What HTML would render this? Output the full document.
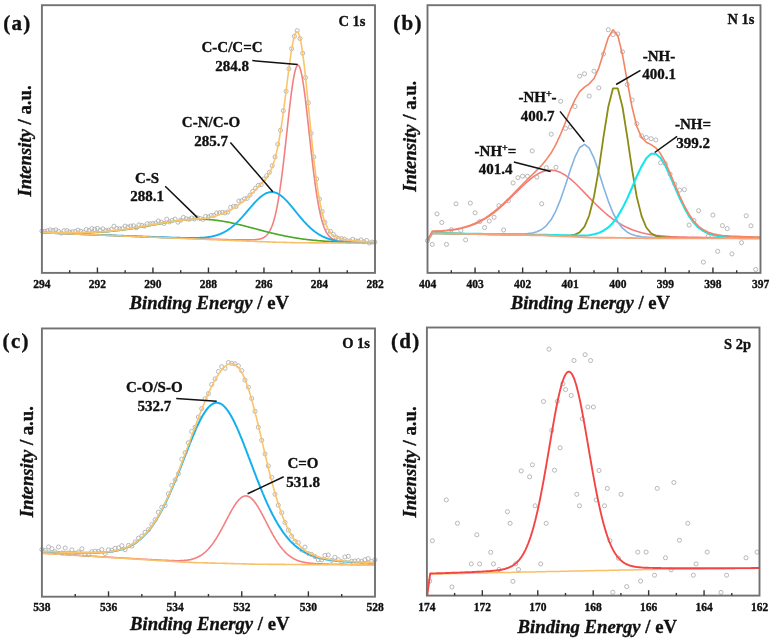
<!DOCTYPE html>
<html><head><meta charset="utf-8"><style>
html,body{margin:0;padding:0;background:#fff;}
svg{display:block;filter:blur(0.3px);}
text{font-family:"Liberation Serif", serif;fill:#111;stroke:#111;stroke-width:0.35px;}
</style></head><body>
<svg width="773" height="642" viewBox="0 0 773 642">
<rect width="773" height="642" fill="#fff"/>
<polyline points="41.9,232.8 42.4,232.8 42.9,232.8 43.4,232.8 43.9,232.8 44.4,232.8 44.9,232.8 45.4,232.8 45.9,232.9 46.4,232.9 46.9,232.9 47.4,232.9 47.9,232.9 48.4,232.9 48.9,232.9 49.4,233.0 49.9,233.0 50.4,233.0 50.9,233.0 51.4,233.0 51.9,233.1 52.4,233.1 52.9,233.1 53.4,233.1 53.9,233.1 54.4,233.2 54.9,233.2 55.4,233.2 55.9,233.2 56.4,233.2 56.9,233.3 57.4,233.3 57.9,233.3 58.4,233.3 58.9,233.3 59.4,233.4 59.9,233.4 60.4,233.4 60.9,233.4 61.4,233.4 61.9,233.5 62.4,233.5 62.9,233.5 63.4,233.5 63.9,233.5 64.4,233.6 64.9,233.6 65.4,233.6 65.9,233.6 66.4,233.6 66.9,233.7 67.4,233.7 67.9,233.7 68.4,233.7 68.9,233.7 69.4,233.8 69.9,233.8 70.4,233.8 70.9,233.8 71.4,233.8 71.9,233.9 72.4,233.9 72.9,233.9 73.4,233.9 73.9,233.9 74.4,234.0 74.9,234.0 75.4,234.0 75.9,234.0 76.4,234.0 76.9,234.1 77.4,234.1 77.9,234.1 78.4,234.1 78.9,234.1 79.4,234.2 79.9,234.2 80.4,234.2 80.9,234.2 81.4,234.2 81.9,234.3 82.4,234.3 82.9,234.3 83.4,234.3 83.9,234.3 84.4,234.4 84.9,234.4 85.4,234.4 85.9,234.4 86.4,234.4 86.9,234.5 87.4,234.5 87.9,234.5 88.4,234.5 88.9,234.5 89.4,234.6 89.9,234.6 90.4,234.6 90.9,234.6 91.4,234.6 91.9,234.7 92.4,234.7 92.9,234.7 93.4,234.7 93.9,234.7 94.4,234.8 94.9,234.8 95.4,234.8 95.9,234.8 96.4,234.8 96.9,234.9 97.4,234.9 97.9,234.9 98.4,234.9 98.9,234.9 99.4,235.0 99.9,235.0 100.4,235.0 100.9,235.0 101.4,235.0 101.9,235.1 102.4,235.1 102.9,235.1 103.4,235.1 103.9,235.1 104.4,235.2 104.9,235.2 105.4,235.2 105.9,235.2 106.4,235.2 106.9,235.3 107.4,235.3 107.9,235.3 108.4,235.3 108.9,235.3 109.4,235.4 109.9,235.4 110.4,235.4 110.9,235.4 111.4,235.4 111.9,235.5 112.4,235.5 112.9,235.5 113.4,235.5 113.9,235.5 114.4,235.6 114.9,235.6 115.4,235.6 115.9,235.6 116.4,235.6 116.9,235.7 117.4,235.7 117.9,235.7 118.4,235.7 118.9,235.7 119.4,235.7 119.9,235.8 120.4,235.8 120.9,235.8 121.4,235.8 121.9,235.8 122.4,235.9 122.9,235.9 123.4,235.9 123.9,235.9 124.4,235.9 124.9,236.0 125.4,236.0 125.9,236.0 126.4,236.0 126.9,236.0 127.4,236.1 127.9,236.1 128.4,236.1 128.9,236.1 129.4,236.1 129.9,236.2 130.4,236.2 130.9,236.2 131.4,236.2 131.9,236.2 132.4,236.3 132.9,236.3 133.4,236.3 133.9,236.3 134.4,236.3 134.9,236.4 135.4,236.4 135.9,236.4 136.4,236.4 136.9,236.4 137.4,236.5 137.9,236.5 138.4,236.5 138.9,236.5 139.4,236.5 139.9,236.6 140.4,236.6 140.9,236.6 141.4,236.6 141.9,236.6 142.4,236.7 142.9,236.7 143.4,236.7 143.9,236.7 144.4,236.7 144.9,236.7 145.4,236.8 145.9,236.8 146.4,236.8 146.9,236.8 147.4,236.8 147.9,236.9 148.4,236.9 148.9,236.9 149.4,236.9 149.9,236.9 150.4,237.0 150.9,237.0 151.4,237.0 151.9,237.0 152.4,237.0 152.9,237.1 153.4,237.1 153.9,237.1 154.4,237.1 154.9,237.1 155.4,237.2 155.9,237.2 156.4,237.2 156.9,237.2 157.4,237.2 157.9,237.3 158.4,237.3 158.9,237.3 159.4,237.3 159.9,237.3 160.4,237.3 160.9,237.4 161.4,237.4 161.9,237.4 162.4,237.4 162.9,237.4 163.4,237.5 163.9,237.5 164.4,237.5 164.9,237.5 165.4,237.5 165.9,237.6 166.4,237.6 166.9,237.6 167.4,237.6 167.9,237.6 168.4,237.7 168.9,237.7 169.4,237.7 169.9,237.7 170.4,237.7 170.9,237.7 171.4,237.8 171.9,237.8 172.4,237.8 172.9,237.8 173.4,237.8 173.9,237.9 174.4,237.9 174.9,237.9 175.4,237.9 175.9,237.9 176.4,238.0 176.9,238.0 177.4,238.0 177.9,238.0 178.4,238.0 178.9,238.0 179.4,238.1 179.9,238.1 180.4,238.1 180.9,238.1 181.4,238.1 181.9,238.2 182.4,238.2 182.9,238.2 183.4,238.2 183.9,238.2 184.4,238.3 184.9,238.3 185.4,238.3 185.9,238.3 186.4,238.3 186.9,238.3 187.4,238.4 187.9,238.4 188.4,238.4 188.9,238.4 189.4,238.4 189.9,238.5 190.4,238.5 190.9,238.5 191.4,238.5 191.9,238.5 192.4,238.5 192.9,238.6 193.4,238.6 193.9,238.6 194.4,238.6 194.9,238.6 195.4,238.6 195.9,238.7 196.4,238.7 196.9,238.7 197.4,238.7 197.9,238.7 198.4,238.8 198.9,238.8 199.4,238.8 199.9,238.8 200.4,238.8 200.9,238.8 201.4,238.9 201.9,238.9 202.4,238.9 202.9,238.9 203.4,238.9 203.9,238.9 204.4,239.0 204.9,239.0 205.4,239.0 205.9,239.0 206.4,239.0 206.9,239.0 207.4,239.1 207.9,239.1 208.4,239.1 208.9,239.1 209.4,239.1 209.9,239.1 210.4,239.2 210.9,239.2 211.4,239.2 211.9,239.2 212.4,239.2 212.9,239.2 213.4,239.2 213.9,239.3 214.4,239.3 214.9,239.3 215.4,239.3 215.9,239.3 216.4,239.3 216.9,239.3 217.4,239.4 217.9,239.4 218.4,239.4 218.9,239.4 219.4,239.4 219.9,239.4 220.4,239.4 220.9,239.5 221.4,239.5 221.9,239.5 222.4,239.5 222.9,239.5 223.4,239.5 223.9,239.5 224.4,239.6 224.9,239.6 225.4,239.6 225.9,239.6 226.4,239.6 226.9,239.6 227.4,239.6 227.9,239.6 228.4,239.7 228.9,239.7 229.4,239.7 229.9,239.7 230.4,239.7 230.9,239.7 231.4,239.7 231.9,239.7 232.4,239.7 232.9,239.8 233.4,239.8 233.9,239.8 234.4,239.8 234.9,239.8 235.4,239.8 235.9,239.8 236.4,239.8 236.9,239.8 237.4,239.8 237.9,239.8 238.4,239.8 238.9,239.8 239.4,239.9 239.9,239.9 240.4,239.9 240.9,239.9 241.4,239.9 241.9,239.9 242.4,239.9 242.9,239.9 243.4,239.9 243.9,239.9 244.4,239.9 244.9,239.9 245.4,239.9 245.9,239.9 246.4,239.9 246.9,239.9 247.4,239.9 247.9,239.9 248.4,239.9 248.9,239.9 249.4,239.9 249.9,239.9 250.4,239.8 250.9,239.8 251.4,239.8 251.9,239.8 252.4,239.8 252.9,239.8 253.4,239.7 253.9,239.7 254.4,239.7 254.9,239.7 255.4,239.6 255.9,239.6 256.4,239.5 256.9,239.5 257.4,239.4 257.9,239.3 258.4,239.3 258.9,239.2 259.4,239.1 259.9,239.0 260.4,238.8 260.9,238.7 261.4,238.5 261.9,238.4 262.4,238.2 262.9,237.9 263.4,237.7 263.9,237.4 264.4,237.1 264.9,236.8 265.4,236.4 265.9,236.0 266.4,235.5 266.9,235.0 267.4,234.4 267.9,233.8 268.4,233.1 268.9,232.4 269.4,231.6 269.9,230.7 270.4,229.7 270.9,228.7 271.4,227.5 271.9,226.3 272.4,225.0 272.9,223.5 273.4,222.0 273.9,220.3 274.4,218.5 274.9,216.6 275.4,214.6 275.9,212.4 276.4,210.1 276.9,207.6 277.4,205.1 277.9,202.3 278.4,199.5 278.9,196.4 279.4,193.3 279.9,190.0 280.4,186.5 280.9,182.9 281.4,179.2 281.9,175.4 282.4,171.4 282.9,167.3 283.4,163.2 283.9,158.9 284.4,154.5 284.9,150.1 285.4,145.6 285.9,141.0 286.4,136.5 286.9,131.9 287.4,127.3 287.9,122.7 288.4,118.2 288.9,113.7 289.4,109.3 289.9,105.0 290.4,100.8 290.9,96.8 291.4,92.9 291.9,89.2 292.4,85.7 292.9,82.4 293.4,79.3 293.9,76.5 294.4,74.0 294.9,71.8 295.4,69.9 295.9,68.2 296.4,67.0 296.9,66.0 297.4,65.5 297.9,65.2 298.4,65.3 298.9,65.8 299.4,66.6 299.9,67.8 300.4,69.3 300.9,71.1 301.4,73.2 301.9,75.6 302.4,78.3 302.9,81.3 303.4,84.5 303.9,88.0 304.4,91.6 304.9,95.4 305.4,99.5 305.9,103.6 306.4,107.9 306.9,112.3 307.4,116.7 307.9,121.3 308.4,125.8 308.9,130.4 309.4,135.0 309.9,139.6 310.4,144.2 310.9,148.7 311.4,153.2 311.9,157.6 312.4,162.0 312.9,166.2 313.4,170.3 313.9,174.4 314.4,178.3 314.9,182.1 315.4,185.7 315.9,189.2 316.4,192.6 316.9,195.8 317.4,198.9 317.9,201.9 318.4,204.7 318.9,207.3 319.4,209.9 319.9,212.2 320.4,214.5 320.9,216.6 321.4,218.6 321.9,220.4 322.4,222.2 322.9,223.8 323.4,225.3 323.9,226.7 324.4,228.0 324.9,229.2 325.4,230.3 325.9,231.3 326.4,232.2 326.9,233.1 327.4,233.9 327.9,234.6 328.4,235.3 328.9,235.9 329.4,236.4 329.9,236.9 330.4,237.4 330.9,237.8 331.4,238.2 331.9,238.5 332.4,238.8 332.9,239.1 333.4,239.4 333.9,239.6 334.4,239.8 334.9,240.0 335.4,240.2 335.9,240.3 336.4,240.5 336.9,240.6 337.4,240.7 337.9,240.8 338.4,240.9 338.9,241.0 339.4,241.1 339.9,241.1 340.4,241.2 340.9,241.3 341.4,241.3 341.9,241.4 342.4,241.4 342.9,241.5 343.4,241.5 343.9,241.6 344.4,241.6 344.9,241.6 345.4,241.7 345.9,241.7 346.4,241.7 346.9,241.8 347.4,241.8 347.9,241.8 348.4,241.9 348.9,241.9 349.4,241.9 349.9,241.9 350.4,242.0 350.9,242.0 351.4,242.0 351.9,242.0 352.4,242.0 352.9,242.1 353.4,242.1 353.9,242.1 354.4,242.1 354.9,242.1 355.4,242.2 355.9,242.2 356.4,242.2 356.9,242.2 357.4,242.2 357.9,242.3 358.4,242.3 358.9,242.3 359.4,242.3 359.9,242.3 360.4,242.3 360.9,242.3 361.4,242.4 361.9,242.4 362.4,242.4 362.9,242.4 363.4,242.4 363.9,242.4 364.4,242.4 364.9,242.5 365.4,242.5 365.9,242.5 366.4,242.5 366.9,242.5 367.4,242.5 367.9,242.5 368.4,242.5 368.9,242.5 369.4,242.6 369.9,242.6 370.4,242.6 370.9,242.6 371.4,242.6 371.9,242.6 372.4,242.6 372.9,242.6 373.4,242.6 373.9,242.6 374.4,242.6 374.9,242.7" fill="none" stroke="#f57f7f" stroke-width="1.6" stroke-linejoin="round"/>
<polyline points="41.9,232.4 42.4,232.4 42.9,232.4 43.4,232.4 43.9,232.4 44.4,232.4 44.9,232.4 45.4,232.4 45.9,232.5 46.4,232.5 46.9,232.5 47.4,232.5 47.9,232.5 48.4,232.5 48.9,232.5 49.4,232.5 49.9,232.5 50.4,232.5 50.9,232.5 51.4,232.6 51.9,232.6 52.4,232.6 52.9,232.6 53.4,232.6 53.9,232.6 54.4,232.6 54.9,232.6 55.4,232.6 55.9,232.6 56.4,232.7 56.9,232.7 57.4,232.7 57.9,232.7 58.4,232.7 58.9,232.7 59.4,232.7 59.9,232.7 60.4,232.7 60.9,232.7 61.4,232.7 61.9,232.7 62.4,232.8 62.9,232.8 63.4,232.8 63.9,232.8 64.4,232.8 64.9,232.8 65.4,232.8 65.9,232.8 66.4,232.8 66.9,232.8 67.4,232.8 67.9,232.8 68.4,232.8 68.9,232.8 69.4,232.8 69.9,232.8 70.4,232.8 70.9,232.8 71.4,232.8 71.9,232.8 72.4,232.8 72.9,232.8 73.4,232.8 73.9,232.8 74.4,232.8 74.9,232.8 75.4,232.8 75.9,232.8 76.4,232.8 76.9,232.8 77.4,232.8 77.9,232.8 78.4,232.8 78.9,232.8 79.4,232.8 79.9,232.8 80.4,232.8 80.9,232.8 81.4,232.8 81.9,232.8 82.4,232.7 82.9,232.7 83.4,232.7 83.9,232.7 84.4,232.7 84.9,232.7 85.4,232.7 85.9,232.7 86.4,232.7 86.9,232.6 87.4,232.6 87.9,232.6 88.4,232.6 88.9,232.6 89.4,232.6 89.9,232.5 90.4,232.5 90.9,232.5 91.4,232.5 91.9,232.5 92.4,232.5 92.9,232.4 93.4,232.4 93.9,232.4 94.4,232.4 94.9,232.3 95.4,232.3 95.9,232.3 96.4,232.3 96.9,232.3 97.4,232.2 97.9,232.2 98.4,232.2 98.9,232.1 99.4,232.1 99.9,232.1 100.4,232.1 100.9,232.0 101.4,232.0 101.9,232.0 102.4,231.9 102.9,231.9 103.4,231.9 103.9,231.8 104.4,231.8 104.9,231.8 105.4,231.7 105.9,231.7 106.4,231.6 106.9,231.6 107.4,231.6 107.9,231.5 108.4,231.5 108.9,231.4 109.4,231.4 109.9,231.3 110.4,231.3 110.9,231.3 111.4,231.2 111.9,231.2 112.4,231.1 112.9,231.1 113.4,231.0 113.9,231.0 114.4,230.9 114.9,230.9 115.4,230.8 115.9,230.8 116.4,230.7 116.9,230.6 117.4,230.6 117.9,230.5 118.4,230.5 118.9,230.4 119.4,230.4 119.9,230.3 120.4,230.2 120.9,230.2 121.4,230.1 121.9,230.1 122.4,230.0 122.9,229.9 123.4,229.9 123.9,229.8 124.4,229.7 124.9,229.7 125.4,229.6 125.9,229.5 126.4,229.5 126.9,229.4 127.4,229.3 127.9,229.2 128.4,229.2 128.9,229.1 129.4,229.0 129.9,229.0 130.4,228.9 130.9,228.8 131.4,228.7 131.9,228.7 132.4,228.6 132.9,228.5 133.4,228.4 133.9,228.3 134.4,228.3 134.9,228.2 135.4,228.1 135.9,228.0 136.4,227.9 136.9,227.9 137.4,227.8 137.9,227.7 138.4,227.6 138.9,227.5 139.4,227.4 139.9,227.3 140.4,227.3 140.9,227.2 141.4,227.1 141.9,227.0 142.4,226.9 142.9,226.8 143.4,226.7 143.9,226.6 144.4,226.6 144.9,226.5 145.4,226.4 145.9,226.3 146.4,226.2 146.9,226.1 147.4,226.0 147.9,225.9 148.4,225.8 148.9,225.7 149.4,225.7 149.9,225.6 150.4,225.5 150.9,225.4 151.4,225.3 151.9,225.2 152.4,225.1 152.9,225.0 153.4,224.9 153.9,224.8 154.4,224.7 154.9,224.6 155.4,224.5 155.9,224.5 156.4,224.4 156.9,224.3 157.4,224.2 157.9,224.1 158.4,224.0 158.9,223.9 159.4,223.8 159.9,223.7 160.4,223.6 160.9,223.5 161.4,223.4 161.9,223.4 162.4,223.3 162.9,223.2 163.4,223.1 163.9,223.0 164.4,222.9 164.9,222.8 165.4,222.7 165.9,222.6 166.4,222.6 166.9,222.5 167.4,222.4 167.9,222.3 168.4,222.2 168.9,222.1 169.4,222.1 169.9,222.0 170.4,221.9 170.9,221.8 171.4,221.7 171.9,221.7 172.4,221.6 172.9,221.5 173.4,221.4 173.9,221.4 174.4,221.3 174.9,221.2 175.4,221.1 175.9,221.1 176.4,221.0 176.9,220.9 177.4,220.9 177.9,220.8 178.4,220.7 178.9,220.7 179.4,220.6 179.9,220.5 180.4,220.5 180.9,220.4 181.4,220.3 181.9,220.3 182.4,220.2 182.9,220.2 183.4,220.1 183.9,220.1 184.4,220.0 184.9,220.0 185.4,219.9 185.9,219.9 186.4,219.8 186.9,219.8 187.4,219.7 187.9,219.7 188.4,219.7 188.9,219.6 189.4,219.6 189.9,219.6 190.4,219.5 190.9,219.5 191.4,219.5 191.9,219.4 192.4,219.4 192.9,219.4 193.4,219.4 193.9,219.3 194.4,219.3 194.9,219.3 195.4,219.3 195.9,219.3 196.4,219.3 196.9,219.3 197.4,219.2 197.9,219.2 198.4,219.2 198.9,219.2 199.4,219.2 199.9,219.2 200.4,219.2 200.9,219.2 201.4,219.2 201.9,219.3 202.4,219.3 202.9,219.3 203.4,219.3 203.9,219.3 204.4,219.3 204.9,219.3 205.4,219.4 205.9,219.4 206.4,219.4 206.9,219.4 207.4,219.5 207.9,219.5 208.4,219.5 208.9,219.6 209.4,219.6 209.9,219.6 210.4,219.7 210.9,219.7 211.4,219.8 211.9,219.8 212.4,219.8 212.9,219.9 213.4,219.9 213.9,220.0 214.4,220.1 214.9,220.1 215.4,220.2 215.9,220.2 216.4,220.3 216.9,220.4 217.4,220.4 217.9,220.5 218.4,220.6 218.9,220.6 219.4,220.7 219.9,220.8 220.4,220.8 220.9,220.9 221.4,221.0 221.9,221.1 222.4,221.2 222.9,221.2 223.4,221.3 223.9,221.4 224.4,221.5 224.9,221.6 225.4,221.7 225.9,221.8 226.4,221.9 226.9,221.9 227.4,222.0 227.9,222.1 228.4,222.2 228.9,222.3 229.4,222.4 229.9,222.5 230.4,222.6 230.9,222.7 231.4,222.9 231.9,223.0 232.4,223.1 232.9,223.2 233.4,223.3 233.9,223.4 234.4,223.5 234.9,223.6 235.4,223.7 235.9,223.8 236.4,224.0 236.9,224.1 237.4,224.2 237.9,224.3 238.4,224.4 238.9,224.6 239.4,224.7 239.9,224.8 240.4,224.9 240.9,225.0 241.4,225.2 241.9,225.3 242.4,225.4 242.9,225.5 243.4,225.7 243.9,225.8 244.4,225.9 244.9,226.1 245.4,226.2 245.9,226.3 246.4,226.4 246.9,226.6 247.4,226.7 247.9,226.8 248.4,227.0 248.9,227.1 249.4,227.2 249.9,227.4 250.4,227.5 250.9,227.6 251.4,227.7 251.9,227.9 252.4,228.0 252.9,228.1 253.4,228.3 253.9,228.4 254.4,228.5 254.9,228.7 255.4,228.8 255.9,228.9 256.4,229.1 256.9,229.2 257.4,229.3 257.9,229.5 258.4,229.6 258.9,229.7 259.4,229.9 259.9,230.0 260.4,230.1 260.9,230.3 261.4,230.4 261.9,230.5 262.4,230.7 262.9,230.8 263.4,230.9 263.9,231.1 264.4,231.2 264.9,231.3 265.4,231.5 265.9,231.6 266.4,231.7 266.9,231.8 267.4,232.0 267.9,232.1 268.4,232.2 268.9,232.3 269.4,232.5 269.9,232.6 270.4,232.7 270.9,232.8 271.4,233.0 271.9,233.1 272.4,233.2 272.9,233.3 273.4,233.4 273.9,233.5 274.4,233.7 274.9,233.8 275.4,233.9 275.9,234.0 276.4,234.1 276.9,234.2 277.4,234.4 277.9,234.5 278.4,234.6 278.9,234.7 279.4,234.8 279.9,234.9 280.4,235.0 280.9,235.1 281.4,235.2 281.9,235.3 282.4,235.4 282.9,235.5 283.4,235.6 283.9,235.7 284.4,235.9 284.9,236.0 285.4,236.1 285.9,236.2 286.4,236.3 286.9,236.4 287.4,236.4 287.9,236.5 288.4,236.6 288.9,236.7 289.4,236.8 289.9,236.9 290.4,237.0 290.9,237.1 291.4,237.2 291.9,237.3 292.4,237.4 292.9,237.5 293.4,237.6 293.9,237.6 294.4,237.7 294.9,237.8 295.4,237.9 295.9,238.0 296.4,238.1 296.9,238.1 297.4,238.2 297.9,238.3 298.4,238.4 298.9,238.4 299.4,238.5 299.9,238.6 300.4,238.7 300.9,238.7 301.4,238.8 301.9,238.9 302.4,239.0 302.9,239.0 303.4,239.1 303.9,239.2 304.4,239.2 304.9,239.3 305.4,239.3 305.9,239.4 306.4,239.5 306.9,239.5 307.4,239.6 307.9,239.6 308.4,239.7 308.9,239.8 309.4,239.8 309.9,239.9 310.4,239.9 310.9,240.0 311.4,240.0 311.9,240.1 312.4,240.1 312.9,240.2 313.4,240.2 313.9,240.3 314.4,240.3 314.9,240.4 315.4,240.4 315.9,240.4 316.4,240.5 316.9,240.5 317.4,240.6 317.9,240.6 318.4,240.7 318.9,240.7 319.4,240.7 319.9,240.8 320.4,240.8 320.9,240.9 321.4,240.9 321.9,240.9 322.4,241.0 322.9,241.0 323.4,241.1 323.9,241.1 324.4,241.1 324.9,241.2 325.4,241.2 325.9,241.2 326.4,241.3 326.9,241.3 327.4,241.3 327.9,241.4 328.4,241.4 328.9,241.4 329.4,241.5 329.9,241.5 330.4,241.5 330.9,241.5 331.4,241.6 331.9,241.6 332.4,241.6 332.9,241.7 333.4,241.7 333.9,241.7 334.4,241.7 334.9,241.8 335.4,241.8 335.9,241.8 336.4,241.8 336.9,241.9 337.4,241.9 337.9,241.9 338.4,241.9 338.9,241.9 339.4,242.0 339.9,242.0 340.4,242.0 340.9,242.0 341.4,242.0 341.9,242.1 342.4,242.1 342.9,242.1 343.4,242.1 343.9,242.1 344.4,242.2 344.9,242.2 345.4,242.2 345.9,242.2 346.4,242.2 346.9,242.3 347.4,242.3 347.9,242.3 348.4,242.3 348.9,242.3 349.4,242.3 349.9,242.3 350.4,242.4 350.9,242.4 351.4,242.4 351.9,242.4 352.4,242.4 352.9,242.4 353.4,242.4 353.9,242.5 354.4,242.5 354.9,242.5 355.4,242.5 355.9,242.5 356.4,242.5 356.9,242.5 357.4,242.5 357.9,242.6 358.4,242.6 358.9,242.6 359.4,242.6 359.9,242.6 360.4,242.6 360.9,242.6 361.4,242.6 361.9,242.6 362.4,242.7 362.9,242.7 363.4,242.7 363.9,242.7 364.4,242.7 364.9,242.7 365.4,242.7 365.9,242.7 366.4,242.7 366.9,242.7 367.4,242.7 367.9,242.8 368.4,242.8 368.9,242.8 369.4,242.8 369.9,242.8 370.4,242.8 370.9,242.8 371.4,242.8 371.9,242.8 372.4,242.8 372.9,242.8 373.4,242.8 373.9,242.8 374.4,242.8 374.9,242.9" fill="none" stroke="#4aa82a" stroke-width="1.6" stroke-linejoin="round"/>
<polyline points="41.9,232.7 42.4,232.7 42.9,232.7 43.4,232.8 43.9,232.8 44.4,232.8 44.9,232.8 45.4,232.8 45.9,232.8 46.4,232.8 46.9,232.8 47.4,232.9 47.9,232.9 48.4,232.9 48.9,232.9 49.4,232.9 49.9,232.9 50.4,233.0 50.9,233.0 51.4,233.0 51.9,233.0 52.4,233.0 52.9,233.1 53.4,233.1 53.9,233.1 54.4,233.1 54.9,233.1 55.4,233.2 55.9,233.2 56.4,233.2 56.9,233.2 57.4,233.2 57.9,233.3 58.4,233.3 58.9,233.3 59.4,233.3 59.9,233.3 60.4,233.4 60.9,233.4 61.4,233.4 61.9,233.4 62.4,233.4 62.9,233.5 63.4,233.5 63.9,233.5 64.4,233.5 64.9,233.5 65.4,233.6 65.9,233.6 66.4,233.6 66.9,233.6 67.4,233.6 67.9,233.7 68.4,233.7 68.9,233.7 69.4,233.7 69.9,233.7 70.4,233.8 70.9,233.8 71.4,233.8 71.9,233.8 72.4,233.8 72.9,233.9 73.4,233.9 73.9,233.9 74.4,233.9 74.9,233.9 75.4,234.0 75.9,234.0 76.4,234.0 76.9,234.0 77.4,234.0 77.9,234.1 78.4,234.1 78.9,234.1 79.4,234.1 79.9,234.1 80.4,234.2 80.9,234.2 81.4,234.2 81.9,234.2 82.4,234.2 82.9,234.3 83.4,234.3 83.9,234.3 84.4,234.3 84.9,234.3 85.4,234.4 85.9,234.4 86.4,234.4 86.9,234.4 87.4,234.4 87.9,234.5 88.4,234.5 88.9,234.5 89.4,234.5 89.9,234.5 90.4,234.5 90.9,234.6 91.4,234.6 91.9,234.6 92.4,234.6 92.9,234.6 93.4,234.7 93.9,234.7 94.4,234.7 94.9,234.7 95.4,234.7 95.9,234.8 96.4,234.8 96.9,234.8 97.4,234.8 97.9,234.8 98.4,234.9 98.9,234.9 99.4,234.9 99.9,234.9 100.4,234.9 100.9,235.0 101.4,235.0 101.9,235.0 102.4,235.0 102.9,235.0 103.4,235.1 103.9,235.1 104.4,235.1 104.9,235.1 105.4,235.1 105.9,235.2 106.4,235.2 106.9,235.2 107.4,235.2 107.9,235.2 108.4,235.3 108.9,235.3 109.4,235.3 109.9,235.3 110.4,235.3 110.9,235.3 111.4,235.4 111.9,235.4 112.4,235.4 112.9,235.4 113.4,235.4 113.9,235.5 114.4,235.5 114.9,235.5 115.4,235.5 115.9,235.5 116.4,235.6 116.9,235.6 117.4,235.6 117.9,235.6 118.4,235.6 118.9,235.7 119.4,235.7 119.9,235.7 120.4,235.7 120.9,235.7 121.4,235.8 121.9,235.8 122.4,235.8 122.9,235.8 123.4,235.8 123.9,235.9 124.4,235.9 124.9,235.9 125.4,235.9 125.9,235.9 126.4,235.9 126.9,236.0 127.4,236.0 127.9,236.0 128.4,236.0 128.9,236.0 129.4,236.1 129.9,236.1 130.4,236.1 130.9,236.1 131.4,236.1 131.9,236.2 132.4,236.2 132.9,236.2 133.4,236.2 133.9,236.2 134.4,236.2 134.9,236.3 135.4,236.3 135.9,236.3 136.4,236.3 136.9,236.3 137.4,236.4 137.9,236.4 138.4,236.4 138.9,236.4 139.4,236.4 139.9,236.5 140.4,236.5 140.9,236.5 141.4,236.5 141.9,236.5 142.4,236.5 142.9,236.6 143.4,236.6 143.9,236.6 144.4,236.6 144.9,236.6 145.4,236.7 145.9,236.7 146.4,236.7 146.9,236.7 147.4,236.7 147.9,236.8 148.4,236.8 148.9,236.8 149.4,236.8 149.9,236.8 150.4,236.8 150.9,236.9 151.4,236.9 151.9,236.9 152.4,236.9 152.9,236.9 153.4,237.0 153.9,237.0 154.4,237.0 154.9,237.0 155.4,237.0 155.9,237.0 156.4,237.1 156.9,237.1 157.4,237.1 157.9,237.1 158.4,237.1 158.9,237.2 159.4,237.2 159.9,237.2 160.4,237.2 160.9,237.2 161.4,237.2 161.9,237.3 162.4,237.3 162.9,237.3 163.4,237.3 163.9,237.3 164.4,237.3 164.9,237.4 165.4,237.4 165.9,237.4 166.4,237.4 166.9,237.4 167.4,237.4 167.9,237.5 168.4,237.5 168.9,237.5 169.4,237.5 169.9,237.5 170.4,237.5 170.9,237.6 171.4,237.6 171.9,237.6 172.4,237.6 172.9,237.6 173.4,237.6 173.9,237.7 174.4,237.7 174.9,237.7 175.4,237.7 175.9,237.7 176.4,237.7 176.9,237.7 177.4,237.8 177.9,237.8 178.4,237.8 178.9,237.8 179.4,237.8 179.9,237.8 180.4,237.8 180.9,237.9 181.4,237.9 181.9,237.9 182.4,237.9 182.9,237.9 183.4,237.9 183.9,237.9 184.4,237.9 184.9,237.9 185.4,238.0 185.9,238.0 186.4,238.0 186.9,238.0 187.4,238.0 187.9,238.0 188.4,238.0 188.9,238.0 189.4,238.0 189.9,238.0 190.4,238.0 190.9,238.0 191.4,238.0 191.9,238.0 192.4,238.0 192.9,238.0 193.4,238.0 193.9,238.0 194.4,238.0 194.9,238.0 195.4,238.0 195.9,238.0 196.4,238.0 196.9,238.0 197.4,238.0 197.9,237.9 198.4,237.9 198.9,237.9 199.4,237.9 199.9,237.9 200.4,237.8 200.9,237.8 201.4,237.8 201.9,237.8 202.4,237.7 202.9,237.7 203.4,237.6 203.9,237.6 204.4,237.6 204.9,237.5 205.4,237.5 205.9,237.4 206.4,237.4 206.9,237.3 207.4,237.2 207.9,237.2 208.4,237.1 208.9,237.0 209.4,236.9 209.9,236.9 210.4,236.8 210.9,236.7 211.4,236.6 211.9,236.5 212.4,236.4 212.9,236.3 213.4,236.2 213.9,236.0 214.4,235.9 214.9,235.8 215.4,235.6 215.9,235.5 216.4,235.4 216.9,235.2 217.4,235.0 217.9,234.9 218.4,234.7 218.9,234.5 219.4,234.3 219.9,234.1 220.4,233.9 220.9,233.7 221.4,233.5 221.9,233.3 222.4,233.0 222.9,232.8 223.4,232.5 223.9,232.3 224.4,232.0 224.9,231.7 225.4,231.5 225.9,231.2 226.4,230.9 226.9,230.6 227.4,230.2 227.9,229.9 228.4,229.6 228.9,229.2 229.4,228.9 229.9,228.5 230.4,228.2 230.9,227.8 231.4,227.4 231.9,227.0 232.4,226.6 232.9,226.2 233.4,225.8 233.9,225.3 234.4,224.9 234.9,224.4 235.4,224.0 235.9,223.5 236.4,223.0 236.9,222.6 237.4,222.1 237.9,221.6 238.4,221.1 238.9,220.6 239.4,220.0 239.9,219.5 240.4,219.0 240.9,218.4 241.4,217.9 241.9,217.4 242.4,216.8 242.9,216.2 243.4,215.7 243.9,215.1 244.4,214.5 244.9,214.0 245.4,213.4 245.9,212.8 246.4,212.2 246.9,211.6 247.4,211.0 247.9,210.5 248.4,209.9 248.9,209.3 249.4,208.7 249.9,208.1 250.4,207.5 250.9,206.9 251.4,206.4 251.9,205.8 252.4,205.2 252.9,204.7 253.4,204.1 253.9,203.5 254.4,203.0 254.9,202.4 255.4,201.9 255.9,201.4 256.4,200.9 256.9,200.3 257.4,199.8 257.9,199.4 258.4,198.9 258.9,198.4 259.4,198.0 259.9,197.5 260.4,197.1 260.9,196.7 261.4,196.3 261.9,195.9 262.4,195.5 262.9,195.2 263.4,194.8 263.9,194.5 264.4,194.2 264.9,193.9 265.4,193.7 265.9,193.4 266.4,193.2 266.9,193.0 267.4,192.8 267.9,192.6 268.4,192.5 268.9,192.3 269.4,192.2 269.9,192.2 270.4,192.1 270.9,192.0 271.4,192.0 271.9,192.0 272.4,192.0 272.9,192.1 273.4,192.2 273.9,192.2 274.4,192.4 274.9,192.5 275.4,192.6 275.9,192.8 276.4,193.0 276.9,193.2 277.4,193.4 277.9,193.7 278.4,194.0 278.9,194.3 279.4,194.6 279.9,194.9 280.4,195.2 280.9,195.6 281.4,196.0 281.9,196.4 282.4,196.8 282.9,197.2 283.4,197.7 283.9,198.1 284.4,198.6 284.9,199.1 285.4,199.6 285.9,200.1 286.4,200.6 286.9,201.1 287.4,201.7 287.9,202.2 288.4,202.8 288.9,203.3 289.4,203.9 289.9,204.5 290.4,205.1 290.9,205.7 291.4,206.3 291.9,206.9 292.4,207.5 292.9,208.1 293.4,208.7 293.9,209.3 294.4,209.9 294.9,210.6 295.4,211.2 295.9,211.8 296.4,212.4 296.9,213.0 297.4,213.6 297.9,214.3 298.4,214.9 298.9,215.5 299.4,216.1 299.9,216.7 300.4,217.3 300.9,217.9 301.4,218.5 301.9,219.0 302.4,219.6 302.9,220.2 303.4,220.8 303.9,221.3 304.4,221.9 304.9,222.4 305.4,223.0 305.9,223.5 306.4,224.0 306.9,224.5 307.4,225.1 307.9,225.6 308.4,226.0 308.9,226.5 309.4,227.0 309.9,227.5 310.4,227.9 310.9,228.4 311.4,228.8 311.9,229.3 312.4,229.7 312.9,230.1 313.4,230.5 313.9,230.9 314.4,231.3 314.9,231.7 315.4,232.0 315.9,232.4 316.4,232.7 316.9,233.1 317.4,233.4 317.9,233.7 318.4,234.1 318.9,234.4 319.4,234.7 319.9,235.0 320.4,235.2 320.9,235.5 321.4,235.8 321.9,236.1 322.4,236.3 322.9,236.5 323.4,236.8 323.9,237.0 324.4,237.2 324.9,237.4 325.4,237.7 325.9,237.9 326.4,238.1 326.9,238.2 327.4,238.4 327.9,238.6 328.4,238.8 328.9,238.9 329.4,239.1 329.9,239.2 330.4,239.4 330.9,239.5 331.4,239.7 331.9,239.8 332.4,239.9 332.9,240.0 333.4,240.1 333.9,240.3 334.4,240.4 334.9,240.5 335.4,240.6 335.9,240.7 336.4,240.8 336.9,240.8 337.4,240.9 337.9,241.0 338.4,241.1 338.9,241.2 339.4,241.2 339.9,241.3 340.4,241.4 340.9,241.4 341.4,241.5 341.9,241.5 342.4,241.6 342.9,241.6 343.4,241.7 343.9,241.7 344.4,241.8 344.9,241.8 345.4,241.9 345.9,241.9 346.4,242.0 346.9,242.0 347.4,242.0 347.9,242.1 348.4,242.1 348.9,242.1 349.4,242.2 349.9,242.2 350.4,242.2 350.9,242.2 351.4,242.3 351.9,242.3 352.4,242.3 352.9,242.3 353.4,242.4 353.9,242.4 354.4,242.4 354.9,242.4 355.4,242.4 355.9,242.4 356.4,242.5 356.9,242.5 357.4,242.5 357.9,242.5 358.4,242.5 358.9,242.5 359.4,242.6 359.9,242.6 360.4,242.6 360.9,242.6 361.4,242.6 361.9,242.6 362.4,242.6 362.9,242.6 363.4,242.6 363.9,242.7 364.4,242.7 364.9,242.7 365.4,242.7 365.9,242.7 366.4,242.7 366.9,242.7 367.4,242.7 367.9,242.7 368.4,242.7 368.9,242.7 369.4,242.7 369.9,242.8 370.4,242.8 370.9,242.8 371.4,242.8 371.9,242.8 372.4,242.8 372.9,242.8 373.4,242.8 373.9,242.8 374.4,242.8 374.9,242.8" fill="none" stroke="#14b0ee" stroke-width="1.9" stroke-linejoin="round"/>
<polyline points="41.9,232.8 42.4,232.8 42.9,232.8 43.4,232.8 43.9,232.8 44.4,232.9 44.9,232.9 45.4,232.9 45.9,232.9 46.4,232.9 46.9,232.9 47.4,232.9 47.9,233.0 48.4,233.0 48.9,233.0 49.4,233.0 49.9,233.0 50.4,233.0 50.9,233.1 51.4,233.1 51.9,233.1 52.4,233.1 52.9,233.1 53.4,233.2 53.9,233.2 54.4,233.2 54.9,233.2 55.4,233.2 55.9,233.3 56.4,233.3 56.9,233.3 57.4,233.3 57.9,233.4 58.4,233.4 58.9,233.4 59.4,233.4 59.9,233.4 60.4,233.5 60.9,233.5 61.4,233.5 61.9,233.5 62.4,233.5 62.9,233.6 63.4,233.6 63.9,233.6 64.4,233.6 64.9,233.6 65.4,233.7 65.9,233.7 66.4,233.7 66.9,233.7 67.4,233.7 67.9,233.8 68.4,233.8 68.9,233.8 69.4,233.8 69.9,233.8 70.4,233.9 70.9,233.9 71.4,233.9 71.9,233.9 72.4,233.9 72.9,234.0 73.4,234.0 73.9,234.0 74.4,234.0 74.9,234.0 75.4,234.1 75.9,234.1 76.4,234.1 76.9,234.1 77.4,234.1 77.9,234.2 78.4,234.2 78.9,234.2 79.4,234.2 79.9,234.2 80.4,234.3 80.9,234.3 81.4,234.3 81.9,234.3 82.4,234.3 82.9,234.4 83.4,234.4 83.9,234.4 84.4,234.4 84.9,234.4 85.4,234.5 85.9,234.5 86.4,234.5 86.9,234.5 87.4,234.5 87.9,234.6 88.4,234.6 88.9,234.6 89.4,234.6 89.9,234.7 90.4,234.7 90.9,234.7 91.4,234.7 91.9,234.7 92.4,234.8 92.9,234.8 93.4,234.8 93.9,234.8 94.4,234.8 94.9,234.9 95.4,234.9 95.9,234.9 96.4,234.9 96.9,234.9 97.4,235.0 97.9,235.0 98.4,235.0 98.9,235.0 99.4,235.0 99.9,235.1 100.4,235.1 100.9,235.1 101.4,235.1 101.9,235.1 102.4,235.2 102.9,235.2 103.4,235.2 103.9,235.2 104.4,235.2 104.9,235.3 105.4,235.3 105.9,235.3 106.4,235.3 106.9,235.3 107.4,235.4 107.9,235.4 108.4,235.4 108.9,235.4 109.4,235.4 109.9,235.5 110.4,235.5 110.9,235.5 111.4,235.5 111.9,235.5 112.4,235.6 112.9,235.6 113.4,235.6 113.9,235.6 114.4,235.6 114.9,235.7 115.4,235.7 115.9,235.7 116.4,235.7 116.9,235.7 117.4,235.8 117.9,235.8 118.4,235.8 118.9,235.8 119.4,235.8 119.9,235.9 120.4,235.9 120.9,235.9 121.4,235.9 121.9,236.0 122.4,236.0 122.9,236.0 123.4,236.0 123.9,236.0 124.4,236.1 124.9,236.1 125.4,236.1 125.9,236.1 126.4,236.1 126.9,236.2 127.4,236.2 127.9,236.2 128.4,236.2 128.9,236.2 129.4,236.3 129.9,236.3 130.4,236.3 130.9,236.3 131.4,236.3 131.9,236.4 132.4,236.4 132.9,236.4 133.4,236.4 133.9,236.4 134.4,236.5 134.9,236.5 135.4,236.5 135.9,236.5 136.4,236.5 136.9,236.6 137.4,236.6 137.9,236.6 138.4,236.6 138.9,236.6 139.4,236.7 139.9,236.7 140.4,236.7 140.9,236.7 141.4,236.7 141.9,236.8 142.4,236.8 142.9,236.8 143.4,236.8 143.9,236.8 144.4,236.9 144.9,236.9 145.4,236.9 145.9,236.9 146.4,236.9 146.9,237.0 147.4,237.0 147.9,237.0 148.4,237.0 148.9,237.0 149.4,237.1 149.9,237.1 150.4,237.1 150.9,237.1 151.4,237.2 151.9,237.2 152.4,237.2 152.9,237.2 153.4,237.2 153.9,237.3 154.4,237.3 154.9,237.3 155.4,237.3 155.9,237.3 156.4,237.4 156.9,237.4 157.4,237.4 157.9,237.4 158.4,237.4 158.9,237.5 159.4,237.5 159.9,237.5 160.4,237.5 160.9,237.5 161.4,237.6 161.9,237.6 162.4,237.6 162.9,237.6 163.4,237.6 163.9,237.7 164.4,237.7 164.9,237.7 165.4,237.7 165.9,237.7 166.4,237.8 166.9,237.8 167.4,237.8 167.9,237.8 168.4,237.8 168.9,237.9 169.4,237.9 169.9,237.9 170.4,237.9 170.9,237.9 171.4,238.0 171.9,238.0 172.4,238.0 172.9,238.0 173.4,238.0 173.9,238.1 174.4,238.1 174.9,238.1 175.4,238.1 175.9,238.2 176.4,238.2 176.9,238.2 177.4,238.2 177.9,238.2 178.4,238.3 178.9,238.3 179.4,238.3 179.9,238.3 180.4,238.3 180.9,238.4 181.4,238.4 181.9,238.4 182.4,238.4 182.9,238.4 183.4,238.5 183.9,238.5 184.4,238.5 184.9,238.5 185.4,238.5 185.9,238.6 186.4,238.6 186.9,238.6 187.4,238.6 187.9,238.6 188.4,238.7 188.9,238.7 189.4,238.7 189.9,238.7 190.4,238.7 190.9,238.8 191.4,238.8 191.9,238.8 192.4,238.8 192.9,238.8 193.4,238.9 193.9,238.9 194.4,238.9 194.9,238.9 195.4,238.9 195.9,239.0 196.4,239.0 196.9,239.0 197.4,239.0 197.9,239.1 198.4,239.1 198.9,239.1 199.4,239.1 199.9,239.1 200.4,239.2 200.9,239.2 201.4,239.2 201.9,239.2 202.4,239.2 202.9,239.3 203.4,239.3 203.9,239.3 204.4,239.3 204.9,239.3 205.4,239.4 205.9,239.4 206.4,239.4 206.9,239.4 207.4,239.4 207.9,239.5 208.4,239.5 208.9,239.5 209.4,239.5 209.9,239.5 210.4,239.6 210.9,239.6 211.4,239.6 211.9,239.6 212.4,239.6 212.9,239.7 213.4,239.7 213.9,239.7 214.4,239.7 214.9,239.7 215.4,239.8 215.9,239.8 216.4,239.8 216.9,239.8 217.4,239.8 217.9,239.9 218.4,239.9 218.9,239.9 219.4,239.9 219.9,240.0 220.4,240.0 220.9,240.0 221.4,240.0 221.9,240.0 222.4,240.1 222.9,240.1 223.4,240.1 223.9,240.1 224.4,240.1 224.9,240.2 225.4,240.2 225.9,240.2 226.4,240.2 226.9,240.2 227.4,240.3 227.9,240.3 228.4,240.3 228.9,240.3 229.4,240.3 229.9,240.4 230.4,240.4 230.9,240.4 231.4,240.4 231.9,240.4 232.4,240.5 232.9,240.5 233.4,240.5 233.9,240.5 234.4,240.5 234.9,240.6 235.4,240.6 235.9,240.6 236.4,240.6 236.9,240.6 237.4,240.7 237.9,240.7 238.4,240.7 238.9,240.7 239.4,240.7 239.9,240.8 240.4,240.8 240.9,240.8 241.4,240.8 241.9,240.9 242.4,240.9 242.9,240.9 243.4,240.9 243.9,240.9 244.4,241.0 244.9,241.0 245.4,241.0 245.9,241.0 246.4,241.0 246.9,241.1 247.4,241.1 247.9,241.1 248.4,241.1 248.9,241.1 249.4,241.2 249.9,241.2 250.4,241.2 250.9,241.2 251.4,241.2 251.9,241.3 252.4,241.3 252.9,241.3 253.4,241.3 253.9,241.3 254.4,241.4 254.9,241.4 255.4,241.4 255.9,241.4 256.4,241.4 256.9,241.5 257.4,241.5 257.9,241.5 258.4,241.5 258.9,241.5 259.4,241.6 259.9,241.6 260.4,241.6 260.9,241.6 261.4,241.6 261.9,241.7 262.4,241.7 262.9,241.7 263.4,241.7 263.9,241.7 264.4,241.8 264.9,241.8 265.4,241.8 265.9,241.8 266.4,241.8 266.9,241.9 267.4,241.9 267.9,241.9 268.4,241.9 268.9,241.9 269.4,241.9 269.9,242.0 270.4,242.0 270.9,242.0 271.4,242.0 271.9,242.0 272.4,242.0 272.9,242.1 273.4,242.1 273.9,242.1 274.4,242.1 274.9,242.1 275.4,242.1 275.9,242.2 276.4,242.2 276.9,242.2 277.4,242.2 277.9,242.2 278.4,242.2 278.9,242.2 279.4,242.3 279.9,242.3 280.4,242.3 280.9,242.3 281.4,242.3 281.9,242.3 282.4,242.3 282.9,242.3 283.4,242.4 283.9,242.4 284.4,242.4 284.9,242.4 285.4,242.4 285.9,242.4 286.4,242.4 286.9,242.5 287.4,242.5 287.9,242.5 288.4,242.5 288.9,242.5 289.4,242.5 289.9,242.5 290.4,242.5 290.9,242.6 291.4,242.6 291.9,242.6 292.4,242.6 292.9,242.6 293.4,242.6 293.9,242.6 294.4,242.6 294.9,242.7 295.4,242.7 295.9,242.7 296.4,242.7 296.9,242.7 297.4,242.7 297.9,242.7 298.4,242.7 298.9,242.7 299.4,242.7 299.9,242.7 300.4,242.8 300.9,242.8 301.4,242.8 301.9,242.8 302.4,242.8 302.9,242.8 303.4,242.8 303.9,242.8 304.4,242.8 304.9,242.8 305.4,242.8 305.9,242.8 306.4,242.8 306.9,242.8 307.4,242.8 307.9,242.8 308.4,242.8 308.9,242.8 309.4,242.8 309.9,242.9 310.4,242.9 310.9,242.9 311.4,242.9 311.9,242.9 312.4,242.9 312.9,242.9 313.4,242.9 313.9,242.9 314.4,242.9 314.9,242.9 315.4,242.9 315.9,242.9 316.4,242.9 316.9,242.9 317.4,242.9 317.9,242.9 318.4,242.9 318.9,242.9 319.4,242.9 319.9,242.9 320.4,242.9 320.9,242.9 321.4,242.9 321.9,242.9 322.4,242.9 322.9,242.9 323.4,242.9 323.9,242.9 324.4,242.9 324.9,242.9 325.4,242.9 325.9,242.9 326.4,242.9 326.9,242.9 327.4,242.9 327.9,242.9 328.4,243.0 328.9,243.0 329.4,243.0 329.9,243.0 330.4,243.0 330.9,243.0 331.4,243.0 331.9,243.0 332.4,243.0 332.9,243.0 333.4,243.0 333.9,243.0 334.4,243.0 334.9,243.0 335.4,243.0 335.9,243.0 336.4,243.0 336.9,243.0 337.4,243.0 337.9,243.0 338.4,243.0 338.9,243.0 339.4,243.0 339.9,243.0 340.4,243.0 340.9,243.0 341.4,243.0 341.9,243.0 342.4,243.0 342.9,243.0 343.4,243.0 343.9,243.0 344.4,243.0 344.9,243.0 345.4,243.0 345.9,243.0 346.4,243.0 346.9,243.1 347.4,243.1 347.9,243.1 348.4,243.1 348.9,243.1 349.4,243.1 349.9,243.1 350.4,243.1 350.9,243.1 351.4,243.1 351.9,243.1 352.4,243.1 352.9,243.1 353.4,243.1 353.9,243.1 354.4,243.1 354.9,243.1 355.4,243.1 355.9,243.1 356.4,243.1 356.9,243.1 357.4,243.1 357.9,243.1 358.4,243.1 358.9,243.1 359.4,243.1 359.9,243.1 360.4,243.1 360.9,243.1 361.4,243.1 361.9,243.1 362.4,243.1 362.9,243.1 363.4,243.1 363.9,243.1 364.4,243.1 364.9,243.1 365.4,243.1 365.9,243.2 366.4,243.2 366.9,243.2 367.4,243.2 367.9,243.2 368.4,243.2 368.9,243.2 369.4,243.2 369.9,243.2 370.4,243.2 370.9,243.2 371.4,243.2 371.9,243.2 372.4,243.2 372.9,243.2 373.4,243.2 373.9,243.2 374.4,243.2 374.9,243.2" fill="none" stroke="#f9c069" stroke-width="1.6" stroke-linejoin="round"/>
<circle cx="41.9" cy="231.0" r="2.05" fill="none" stroke="#b0b0b0" stroke-width="0.9"/>
<circle cx="44.7" cy="231.4" r="2.05" fill="none" stroke="#b0b0b0" stroke-width="0.9"/>
<circle cx="47.4" cy="230.7" r="2.05" fill="none" stroke="#b0b0b0" stroke-width="0.9"/>
<circle cx="50.2" cy="229.9" r="2.05" fill="none" stroke="#b0b0b0" stroke-width="0.9"/>
<circle cx="53.0" cy="230.6" r="2.05" fill="none" stroke="#b0b0b0" stroke-width="0.9"/>
<circle cx="55.8" cy="229.9" r="2.05" fill="none" stroke="#b0b0b0" stroke-width="0.9"/>
<circle cx="58.5" cy="231.3" r="2.05" fill="none" stroke="#b0b0b0" stroke-width="0.9"/>
<circle cx="61.3" cy="233.1" r="2.05" fill="none" stroke="#b0b0b0" stroke-width="0.9"/>
<circle cx="64.1" cy="230.7" r="2.05" fill="none" stroke="#b0b0b0" stroke-width="0.9"/>
<circle cx="66.9" cy="230.6" r="2.05" fill="none" stroke="#b0b0b0" stroke-width="0.9"/>
<circle cx="69.6" cy="232.0" r="2.05" fill="none" stroke="#b0b0b0" stroke-width="0.9"/>
<circle cx="72.4" cy="231.9" r="2.05" fill="none" stroke="#b0b0b0" stroke-width="0.9"/>
<circle cx="75.2" cy="231.5" r="2.05" fill="none" stroke="#b0b0b0" stroke-width="0.9"/>
<circle cx="78.0" cy="230.2" r="2.05" fill="none" stroke="#b0b0b0" stroke-width="0.9"/>
<circle cx="80.7" cy="231.3" r="2.05" fill="none" stroke="#b0b0b0" stroke-width="0.9"/>
<circle cx="83.5" cy="232.2" r="2.05" fill="none" stroke="#b0b0b0" stroke-width="0.9"/>
<circle cx="86.3" cy="229.5" r="2.05" fill="none" stroke="#b0b0b0" stroke-width="0.9"/>
<circle cx="89.1" cy="230.5" r="2.05" fill="none" stroke="#b0b0b0" stroke-width="0.9"/>
<circle cx="91.8" cy="228.6" r="2.05" fill="none" stroke="#b0b0b0" stroke-width="0.9"/>
<circle cx="94.6" cy="229.2" r="2.05" fill="none" stroke="#b0b0b0" stroke-width="0.9"/>
<circle cx="97.4" cy="228.4" r="2.05" fill="none" stroke="#b0b0b0" stroke-width="0.9"/>
<circle cx="100.2" cy="230.3" r="2.05" fill="none" stroke="#b0b0b0" stroke-width="0.9"/>
<circle cx="102.9" cy="228.8" r="2.05" fill="none" stroke="#b0b0b0" stroke-width="0.9"/>
<circle cx="105.7" cy="230.6" r="2.05" fill="none" stroke="#b0b0b0" stroke-width="0.9"/>
<circle cx="108.5" cy="230.2" r="2.05" fill="none" stroke="#b0b0b0" stroke-width="0.9"/>
<circle cx="111.3" cy="229.5" r="2.05" fill="none" stroke="#b0b0b0" stroke-width="0.9"/>
<circle cx="114.0" cy="226.2" r="2.05" fill="none" stroke="#b0b0b0" stroke-width="0.9"/>
<circle cx="116.8" cy="228.5" r="2.05" fill="none" stroke="#b0b0b0" stroke-width="0.9"/>
<circle cx="119.6" cy="228.8" r="2.05" fill="none" stroke="#b0b0b0" stroke-width="0.9"/>
<circle cx="122.4" cy="228.7" r="2.05" fill="none" stroke="#b0b0b0" stroke-width="0.9"/>
<circle cx="125.1" cy="226.1" r="2.05" fill="none" stroke="#b0b0b0" stroke-width="0.9"/>
<circle cx="127.9" cy="227.1" r="2.05" fill="none" stroke="#b0b0b0" stroke-width="0.9"/>
<circle cx="130.7" cy="226.1" r="2.05" fill="none" stroke="#b0b0b0" stroke-width="0.9"/>
<circle cx="133.5" cy="225.8" r="2.05" fill="none" stroke="#b0b0b0" stroke-width="0.9"/>
<circle cx="136.2" cy="227.8" r="2.05" fill="none" stroke="#b0b0b0" stroke-width="0.9"/>
<circle cx="139.0" cy="224.9" r="2.05" fill="none" stroke="#b0b0b0" stroke-width="0.9"/>
<circle cx="141.8" cy="225.4" r="2.05" fill="none" stroke="#b0b0b0" stroke-width="0.9"/>
<circle cx="144.6" cy="226.1" r="2.05" fill="none" stroke="#b0b0b0" stroke-width="0.9"/>
<circle cx="147.3" cy="223.7" r="2.05" fill="none" stroke="#b0b0b0" stroke-width="0.9"/>
<circle cx="150.1" cy="223.8" r="2.05" fill="none" stroke="#b0b0b0" stroke-width="0.9"/>
<circle cx="152.9" cy="223.6" r="2.05" fill="none" stroke="#b0b0b0" stroke-width="0.9"/>
<circle cx="155.7" cy="223.1" r="2.05" fill="none" stroke="#b0b0b0" stroke-width="0.9"/>
<circle cx="158.4" cy="221.0" r="2.05" fill="none" stroke="#b0b0b0" stroke-width="0.9"/>
<circle cx="161.2" cy="222.2" r="2.05" fill="none" stroke="#b0b0b0" stroke-width="0.9"/>
<circle cx="164.0" cy="223.4" r="2.05" fill="none" stroke="#b0b0b0" stroke-width="0.9"/>
<circle cx="166.8" cy="219.2" r="2.05" fill="none" stroke="#b0b0b0" stroke-width="0.9"/>
<circle cx="169.5" cy="221.9" r="2.05" fill="none" stroke="#b0b0b0" stroke-width="0.9"/>
<circle cx="172.3" cy="220.5" r="2.05" fill="none" stroke="#b0b0b0" stroke-width="0.9"/>
<circle cx="175.1" cy="219.1" r="2.05" fill="none" stroke="#b0b0b0" stroke-width="0.9"/>
<circle cx="177.9" cy="222.2" r="2.05" fill="none" stroke="#b0b0b0" stroke-width="0.9"/>
<circle cx="180.6" cy="220.3" r="2.05" fill="none" stroke="#b0b0b0" stroke-width="0.9"/>
<circle cx="183.4" cy="217.4" r="2.05" fill="none" stroke="#b0b0b0" stroke-width="0.9"/>
<circle cx="186.2" cy="218.8" r="2.05" fill="none" stroke="#b0b0b0" stroke-width="0.9"/>
<circle cx="189.0" cy="219.2" r="2.05" fill="none" stroke="#b0b0b0" stroke-width="0.9"/>
<circle cx="191.7" cy="218.0" r="2.05" fill="none" stroke="#b0b0b0" stroke-width="0.9"/>
<circle cx="194.5" cy="218.9" r="2.05" fill="none" stroke="#b0b0b0" stroke-width="0.9"/>
<circle cx="197.3" cy="217.8" r="2.05" fill="none" stroke="#b0b0b0" stroke-width="0.9"/>
<circle cx="200.1" cy="218.5" r="2.05" fill="none" stroke="#b0b0b0" stroke-width="0.9"/>
<circle cx="202.8" cy="219.3" r="2.05" fill="none" stroke="#b0b0b0" stroke-width="0.9"/>
<circle cx="205.6" cy="216.4" r="2.05" fill="none" stroke="#b0b0b0" stroke-width="0.9"/>
<circle cx="208.4" cy="217.0" r="2.05" fill="none" stroke="#b0b0b0" stroke-width="0.9"/>
<circle cx="211.2" cy="215.5" r="2.05" fill="none" stroke="#b0b0b0" stroke-width="0.9"/>
<circle cx="213.9" cy="215.5" r="2.05" fill="none" stroke="#b0b0b0" stroke-width="0.9"/>
<circle cx="216.7" cy="213.0" r="2.05" fill="none" stroke="#b0b0b0" stroke-width="0.9"/>
<circle cx="219.5" cy="212.8" r="2.05" fill="none" stroke="#b0b0b0" stroke-width="0.9"/>
<circle cx="222.3" cy="212.4" r="2.05" fill="none" stroke="#b0b0b0" stroke-width="0.9"/>
<circle cx="225.0" cy="212.9" r="2.05" fill="none" stroke="#b0b0b0" stroke-width="0.9"/>
<circle cx="227.8" cy="212.0" r="2.05" fill="none" stroke="#b0b0b0" stroke-width="0.9"/>
<circle cx="230.6" cy="207.4" r="2.05" fill="none" stroke="#b0b0b0" stroke-width="0.9"/>
<circle cx="233.4" cy="206.4" r="2.05" fill="none" stroke="#b0b0b0" stroke-width="0.9"/>
<circle cx="236.1" cy="206.4" r="2.05" fill="none" stroke="#b0b0b0" stroke-width="0.9"/>
<circle cx="238.9" cy="201.0" r="2.05" fill="none" stroke="#b0b0b0" stroke-width="0.9"/>
<circle cx="241.7" cy="200.8" r="2.05" fill="none" stroke="#b0b0b0" stroke-width="0.9"/>
<circle cx="244.5" cy="198.9" r="2.05" fill="none" stroke="#b0b0b0" stroke-width="0.9"/>
<circle cx="247.2" cy="198.3" r="2.05" fill="none" stroke="#b0b0b0" stroke-width="0.9"/>
<circle cx="250.0" cy="195.1" r="2.05" fill="none" stroke="#b0b0b0" stroke-width="0.9"/>
<circle cx="252.8" cy="191.3" r="2.05" fill="none" stroke="#b0b0b0" stroke-width="0.9"/>
<circle cx="255.6" cy="188.2" r="2.05" fill="none" stroke="#b0b0b0" stroke-width="0.9"/>
<circle cx="258.3" cy="185.4" r="2.05" fill="none" stroke="#b0b0b0" stroke-width="0.9"/>
<circle cx="261.1" cy="184.7" r="2.05" fill="none" stroke="#b0b0b0" stroke-width="0.9"/>
<circle cx="263.9" cy="179.1" r="2.05" fill="none" stroke="#b0b0b0" stroke-width="0.9"/>
<circle cx="266.7" cy="175.8" r="2.05" fill="none" stroke="#b0b0b0" stroke-width="0.9"/>
<circle cx="269.4" cy="172.3" r="2.05" fill="none" stroke="#b0b0b0" stroke-width="0.9"/>
<circle cx="272.2" cy="165.7" r="2.05" fill="none" stroke="#b0b0b0" stroke-width="0.9"/>
<circle cx="275.0" cy="157.0" r="2.05" fill="none" stroke="#b0b0b0" stroke-width="0.9"/>
<circle cx="277.8" cy="144.2" r="2.05" fill="none" stroke="#b0b0b0" stroke-width="0.9"/>
<circle cx="280.5" cy="130.3" r="2.05" fill="none" stroke="#b0b0b0" stroke-width="0.9"/>
<circle cx="283.3" cy="110.7" r="2.05" fill="none" stroke="#b0b0b0" stroke-width="0.9"/>
<circle cx="286.1" cy="91.3" r="2.05" fill="none" stroke="#b0b0b0" stroke-width="0.9"/>
<circle cx="288.9" cy="68.8" r="2.05" fill="none" stroke="#b0b0b0" stroke-width="0.9"/>
<circle cx="291.6" cy="48.7" r="2.05" fill="none" stroke="#b0b0b0" stroke-width="0.9"/>
<circle cx="294.4" cy="36.3" r="2.05" fill="none" stroke="#b0b0b0" stroke-width="0.9"/>
<circle cx="297.2" cy="30.7" r="2.05" fill="none" stroke="#b0b0b0" stroke-width="0.9"/>
<circle cx="300.0" cy="38.6" r="2.05" fill="none" stroke="#b0b0b0" stroke-width="0.9"/>
<circle cx="302.7" cy="53.3" r="2.05" fill="none" stroke="#b0b0b0" stroke-width="0.9"/>
<circle cx="305.5" cy="77.6" r="2.05" fill="none" stroke="#b0b0b0" stroke-width="0.9"/>
<circle cx="308.3" cy="102.8" r="2.05" fill="none" stroke="#b0b0b0" stroke-width="0.9"/>
<circle cx="311.1" cy="133.3" r="2.05" fill="none" stroke="#b0b0b0" stroke-width="0.9"/>
<circle cx="313.8" cy="156.9" r="2.05" fill="none" stroke="#b0b0b0" stroke-width="0.9"/>
<circle cx="316.6" cy="178.9" r="2.05" fill="none" stroke="#b0b0b0" stroke-width="0.9"/>
<circle cx="319.4" cy="199.1" r="2.05" fill="none" stroke="#b0b0b0" stroke-width="0.9"/>
<circle cx="322.2" cy="211.5" r="2.05" fill="none" stroke="#b0b0b0" stroke-width="0.9"/>
<circle cx="324.9" cy="222.3" r="2.05" fill="none" stroke="#b0b0b0" stroke-width="0.9"/>
<circle cx="327.7" cy="231.3" r="2.05" fill="none" stroke="#b0b0b0" stroke-width="0.9"/>
<circle cx="330.5" cy="231.4" r="2.05" fill="none" stroke="#b0b0b0" stroke-width="0.9"/>
<circle cx="333.3" cy="234.3" r="2.05" fill="none" stroke="#b0b0b0" stroke-width="0.9"/>
<circle cx="336.0" cy="237.1" r="2.05" fill="none" stroke="#b0b0b0" stroke-width="0.9"/>
<circle cx="338.8" cy="238.7" r="2.05" fill="none" stroke="#b0b0b0" stroke-width="0.9"/>
<circle cx="341.6" cy="238.6" r="2.05" fill="none" stroke="#b0b0b0" stroke-width="0.9"/>
<circle cx="344.4" cy="239.2" r="2.05" fill="none" stroke="#b0b0b0" stroke-width="0.9"/>
<circle cx="347.1" cy="240.9" r="2.05" fill="none" stroke="#b0b0b0" stroke-width="0.9"/>
<circle cx="349.9" cy="241.0" r="2.05" fill="none" stroke="#b0b0b0" stroke-width="0.9"/>
<circle cx="352.7" cy="239.3" r="2.05" fill="none" stroke="#b0b0b0" stroke-width="0.9"/>
<circle cx="355.5" cy="240.8" r="2.05" fill="none" stroke="#b0b0b0" stroke-width="0.9"/>
<circle cx="358.2" cy="241.2" r="2.05" fill="none" stroke="#b0b0b0" stroke-width="0.9"/>
<circle cx="361.0" cy="239.9" r="2.05" fill="none" stroke="#b0b0b0" stroke-width="0.9"/>
<circle cx="363.8" cy="241.8" r="2.05" fill="none" stroke="#b0b0b0" stroke-width="0.9"/>
<circle cx="366.6" cy="240.5" r="2.05" fill="none" stroke="#b0b0b0" stroke-width="0.9"/>
<circle cx="369.3" cy="243.0" r="2.05" fill="none" stroke="#b0b0b0" stroke-width="0.9"/>
<circle cx="372.1" cy="242.1" r="2.05" fill="none" stroke="#b0b0b0" stroke-width="0.9"/>
<circle cx="374.9" cy="242.1" r="2.05" fill="none" stroke="#b0b0b0" stroke-width="0.9"/>
<polyline points="41.9,232.3 42.4,232.3 42.9,232.3 43.4,232.3 43.9,232.3 44.4,232.3 44.9,232.3 45.4,232.3 45.9,232.3 46.4,232.3 46.9,232.3 47.4,232.3 47.9,232.3 48.4,232.4 48.9,232.4 49.4,232.4 49.9,232.4 50.4,232.4 50.9,232.4 51.4,232.4 51.9,232.4 52.4,232.4 52.9,232.4 53.4,232.5 53.9,232.5 54.4,232.5 54.9,232.5 55.4,232.5 55.9,232.5 56.4,232.5 56.9,232.5 57.4,232.5 57.9,232.5 58.4,232.5 58.9,232.6 59.4,232.6 59.9,232.6 60.4,232.6 60.9,232.6 61.4,232.6 61.9,232.6 62.4,232.6 62.9,232.6 63.4,232.6 63.9,232.6 64.4,232.6 64.9,232.6 65.4,232.6 65.9,232.6 66.4,232.6 66.9,232.6 67.4,232.6 67.9,232.7 68.4,232.7 68.9,232.7 69.4,232.7 69.9,232.7 70.4,232.7 70.9,232.7 71.4,232.7 71.9,232.7 72.4,232.7 72.9,232.7 73.4,232.7 73.9,232.7 74.4,232.7 74.9,232.7 75.4,232.6 75.9,232.6 76.4,232.6 76.9,232.6 77.4,232.6 77.9,232.6 78.4,232.6 78.9,232.6 79.4,232.6 79.9,232.6 80.4,232.6 80.9,232.6 81.4,232.6 81.9,232.6 82.4,232.6 82.9,232.5 83.4,232.5 83.9,232.5 84.4,232.5 84.9,232.5 85.4,232.5 85.9,232.5 86.4,232.5 86.9,232.5 87.4,232.4 87.9,232.4 88.4,232.4 88.9,232.4 89.4,232.4 89.9,232.4 90.4,232.3 90.9,232.3 91.4,232.3 91.9,232.3 92.4,232.3 92.9,232.2 93.4,232.2 93.9,232.2 94.4,232.2 94.9,232.1 95.4,232.1 95.9,232.1 96.4,232.1 96.9,232.0 97.4,232.0 97.9,232.0 98.4,232.0 98.9,231.9 99.4,231.9 99.9,231.9 100.4,231.8 100.9,231.8 101.4,231.8 101.9,231.7 102.4,231.7 102.9,231.7 103.4,231.6 103.9,231.6 104.4,231.6 104.9,231.5 105.4,231.5 105.9,231.4 106.4,231.4 106.9,231.4 107.4,231.3 107.9,231.3 108.4,231.2 108.9,231.2 109.4,231.1 109.9,231.1 110.4,231.1 110.9,231.0 111.4,231.0 111.9,230.9 112.4,230.9 112.9,230.8 113.4,230.8 113.9,230.7 114.4,230.7 114.9,230.6 115.4,230.5 115.9,230.5 116.4,230.4 116.9,230.4 117.4,230.3 117.9,230.3 118.4,230.2 118.9,230.1 119.4,230.1 119.9,230.0 120.4,230.0 120.9,229.9 121.4,229.8 121.9,229.8 122.4,229.7 122.9,229.6 123.4,229.6 123.9,229.5 124.4,229.4 124.9,229.4 125.4,229.3 125.9,229.2 126.4,229.2 126.9,229.1 127.4,229.0 127.9,228.9 128.4,228.9 128.9,228.8 129.4,228.7 129.9,228.6 130.4,228.6 130.9,228.5 131.4,228.4 131.9,228.3 132.4,228.3 132.9,228.2 133.4,228.1 133.9,228.0 134.4,227.9 134.9,227.8 135.4,227.8 135.9,227.7 136.4,227.6 136.9,227.5 137.4,227.4 137.9,227.3 138.4,227.3 138.9,227.2 139.4,227.1 139.9,227.0 140.4,226.9 140.9,226.8 141.4,226.7 141.9,226.6 142.4,226.5 142.9,226.5 143.4,226.4 143.9,226.3 144.4,226.2 144.9,226.1 145.4,226.0 145.9,225.9 146.4,225.8 146.9,225.7 147.4,225.6 147.9,225.5 148.4,225.4 148.9,225.3 149.4,225.2 149.9,225.2 150.4,225.1 150.9,225.0 151.4,224.9 151.9,224.8 152.4,224.7 152.9,224.6 153.4,224.6 153.9,224.5 154.4,224.4 154.9,224.3 155.4,224.2 155.9,224.1 156.4,224.1 156.9,224.0 157.4,223.9 157.9,223.8 158.4,223.7 158.9,223.6 159.4,223.5 159.9,223.5 160.4,223.4 160.9,223.3 161.4,223.2 161.9,223.1 162.4,223.1 162.9,223.0 163.4,222.9 163.9,222.8 164.4,222.7 164.9,222.6 165.4,222.6 165.9,222.5 166.4,222.4 166.9,222.3 167.4,222.3 167.9,222.2 168.4,222.1 168.9,222.0 169.4,221.9 169.9,221.9 170.4,221.8 170.9,221.7 171.4,221.6 171.9,221.6 172.4,221.5 172.9,221.4 173.4,221.4 173.9,221.3 174.4,221.2 174.9,221.1 175.4,221.1 175.9,221.0 176.4,220.9 176.9,220.9 177.4,220.8 177.9,220.8 178.4,220.7 178.9,220.6 179.4,220.6 179.9,220.5 180.4,220.5 180.9,220.4 181.4,220.3 181.9,220.3 182.4,220.2 182.9,220.2 183.4,220.1 183.9,220.1 184.4,220.0 184.9,220.0 185.4,219.9 185.9,219.9 186.4,219.8 186.9,219.8 187.4,219.7 187.9,219.7 188.4,219.6 188.9,219.6 189.4,219.5 189.9,219.5 190.4,219.5 190.9,219.4 191.4,219.4 191.9,219.3 192.4,219.3 192.9,219.3 193.4,219.2 193.9,219.2 194.4,219.2 194.9,219.1 195.4,219.1 195.9,219.1 196.4,219.0 196.9,219.0 197.4,219.0 197.9,218.9 198.4,218.9 198.9,218.9 199.4,218.8 199.9,218.8 200.4,218.8 200.9,218.7 201.4,218.7 201.9,218.6 202.4,218.6 202.9,218.6 203.4,218.5 203.9,218.5 204.4,218.5 204.9,218.4 205.4,218.4 205.9,218.3 206.4,218.2 206.9,218.1 207.4,218.0 207.9,217.9 208.4,217.8 208.9,217.7 209.4,217.6 209.9,217.5 210.4,217.4 210.9,217.2 211.4,217.1 211.9,217.0 212.4,216.9 212.9,216.7 213.4,216.6 213.9,216.5 214.4,216.3 214.9,216.2 215.4,216.0 215.9,215.9 216.4,215.7 216.9,215.5 217.4,215.4 217.9,215.2 218.4,215.0 218.9,214.8 219.4,214.6 219.9,214.4 220.4,214.3 220.9,214.2 221.4,214.0 221.9,213.9 222.4,213.7 222.9,213.5 223.4,213.4 223.9,213.2 224.4,213.0 224.9,212.8 225.4,212.6 225.9,212.4 226.4,212.2 226.9,212.0 227.4,211.8 227.9,211.5 228.4,211.3 228.9,211.1 229.4,210.8 229.9,210.5 230.4,210.3 230.9,210.0 231.4,209.7 231.9,209.4 232.4,209.1 232.9,208.8 233.4,208.5 233.9,208.1 234.4,207.8 234.9,207.5 235.4,207.1 235.9,206.8 236.4,206.4 236.9,206.1 237.4,205.7 237.9,205.4 238.4,205.0 238.9,204.6 239.4,204.3 239.9,203.9 240.4,203.5 240.9,203.1 241.4,202.7 241.9,202.3 242.4,201.9 242.9,201.5 243.4,201.0 243.9,200.6 244.4,200.2 244.9,199.8 245.4,199.3 245.9,198.9 246.4,198.4 246.9,198.0 247.4,197.6 247.9,197.1 248.4,196.7 248.9,196.2 249.4,195.8 249.9,195.3 250.4,194.9 250.9,194.4 251.4,194.0 251.9,193.5 252.4,193.1 252.9,192.7 253.4,192.1 253.9,191.6 254.4,191.0 254.9,190.5 255.4,189.9 255.9,189.4 256.4,188.8 256.9,188.3 257.4,187.7 257.9,187.2 258.4,186.7 258.9,186.1 259.4,185.6 259.9,185.1 260.4,184.6 260.9,184.0 261.4,183.5 261.9,183.0 262.4,182.4 262.9,181.9 263.4,181.3 263.9,180.7 264.4,180.1 264.9,179.5 265.4,178.9 265.9,178.3 266.4,177.6 266.9,176.9 267.4,176.2 267.9,175.5 268.4,174.7 268.9,173.8 269.4,173.0 269.9,172.0 270.4,171.0 270.9,170.0 271.4,168.9 271.9,167.7 272.4,166.4 272.9,165.0 273.4,163.6 273.9,162.0 274.4,160.4 274.9,158.6 275.4,156.8 275.9,154.9 276.4,152.9 276.9,150.7 277.4,148.5 277.9,146.1 278.4,143.6 278.9,140.9 279.4,138.1 279.9,135.2 280.4,132.2 280.9,129.1 281.4,125.8 281.9,122.5 282.4,119.0 282.9,115.4 283.4,111.8 283.9,108.0 284.4,104.2 284.9,100.3 285.4,96.4 285.9,92.4 286.4,88.4 286.9,84.5 287.4,80.5 287.9,76.5 288.4,72.6 288.9,68.8 289.4,65.0 289.9,61.4 290.4,57.8 290.9,54.4 291.4,51.2 291.9,48.2 292.4,45.3 292.9,42.7 293.4,40.3 293.9,38.2 294.4,36.4 294.9,34.8 295.4,33.6 295.9,32.7 296.4,32.1 296.9,31.8 297.4,31.9 297.9,32.3 298.4,33.1 298.9,34.3 299.4,35.7 299.9,37.6 300.4,39.7 300.9,42.2 301.4,44.9 301.9,48.0 302.4,51.3 302.9,54.9 303.4,58.8 303.9,62.8 304.4,67.1 304.9,71.5 305.4,76.1 305.9,80.9 306.4,85.7 306.9,90.7 307.4,95.7 307.9,100.8 308.4,105.9 308.9,111.0 309.4,116.2 309.9,121.3 310.4,126.3 310.9,131.4 311.4,136.3 311.9,141.2 312.4,146.0 312.9,150.7 313.4,155.3 313.9,159.8 314.4,164.1 314.9,168.3 315.4,172.4 315.9,176.3 316.4,180.1 316.9,183.7 317.4,187.1 317.9,190.5 318.4,193.6 318.9,196.6 319.4,199.5 319.9,202.2 320.4,204.7 320.9,207.2 321.4,209.4 321.9,211.6 322.4,213.6 322.9,215.5 323.4,217.3 323.9,218.9 324.4,220.5 324.9,221.9 325.4,223.3 325.9,224.5 326.4,225.7 326.9,226.7 327.4,227.7 327.9,228.7 328.4,229.5 328.9,230.3 329.4,231.1 329.9,231.7 330.4,232.4 330.9,232.9 331.4,233.5 331.9,234.0 332.4,234.4 332.9,234.8 333.4,235.2 333.9,235.6 334.4,235.9 334.9,236.2 335.4,236.5 335.9,236.8 336.4,237.1 336.9,237.3 337.4,237.5 337.9,237.7 338.4,237.9 338.9,238.1 339.4,238.2 339.9,238.4 340.4,238.5 340.9,238.7 341.4,238.8 341.9,238.9 342.4,239.1 342.9,239.2 343.4,239.3 343.9,239.4 344.4,239.5 344.9,239.6 345.4,239.7 345.9,239.8 346.4,239.8 346.9,239.9 347.4,240.0 347.9,240.1 348.4,240.1 348.9,240.2 349.4,240.3 349.9,240.3 350.4,240.4 350.9,240.5 351.4,240.5 351.9,240.6 352.4,240.6 352.9,240.7 353.4,240.7 353.9,240.8 354.4,240.8 354.9,240.9 355.4,240.9 355.9,240.9 356.4,241.0 356.9,241.0 357.4,241.1 357.9,241.1 358.4,241.1 358.9,241.2 359.4,241.2 359.9,241.2 360.4,241.3 360.9,241.3 361.4,241.3 361.9,241.4 362.4,241.4 362.9,241.4 363.4,241.5 363.9,241.5 364.4,241.5 364.9,241.5 365.4,241.6 365.9,241.6 366.4,241.6 366.9,241.6 367.4,241.7 367.9,241.7 368.4,241.7 368.9,241.7 369.4,241.7 369.9,241.8 370.4,241.8 370.9,241.8 371.4,241.8 371.9,241.8 372.4,241.9 372.9,241.9 373.4,241.9 373.9,241.9 374.4,241.9 374.9,242.0" fill="none" stroke="#fbc46a" stroke-width="1.6" stroke-linejoin="round"/>
<rect x="41.9" y="5.2" width="333.1" height="267.7" fill="none" stroke="#727272" stroke-width="1.9"/>
<text x="41.90" y="287.6" text-anchor="middle" font-size="11.5" font-weight="bold">294</text>
<line x1="69.66" y1="272.9" x2="69.66" y2="270.2" stroke="#333" stroke-width="1.4"/>
<line x1="97.42" y1="272.9" x2="97.42" y2="267.5" stroke="#333" stroke-width="1.4"/>
<text x="97.42" y="287.6" text-anchor="middle" font-size="11.5" font-weight="bold">292</text>
<line x1="125.18" y1="272.9" x2="125.18" y2="270.2" stroke="#333" stroke-width="1.4"/>
<line x1="152.93" y1="272.9" x2="152.93" y2="267.5" stroke="#333" stroke-width="1.4"/>
<text x="152.93" y="287.6" text-anchor="middle" font-size="11.5" font-weight="bold">290</text>
<line x1="180.69" y1="272.9" x2="180.69" y2="270.2" stroke="#333" stroke-width="1.4"/>
<line x1="208.45" y1="272.9" x2="208.45" y2="267.5" stroke="#333" stroke-width="1.4"/>
<text x="208.45" y="287.6" text-anchor="middle" font-size="11.5" font-weight="bold">288</text>
<line x1="236.21" y1="272.9" x2="236.21" y2="270.2" stroke="#333" stroke-width="1.4"/>
<line x1="263.97" y1="272.9" x2="263.97" y2="267.5" stroke="#333" stroke-width="1.4"/>
<text x="263.97" y="287.6" text-anchor="middle" font-size="11.5" font-weight="bold">286</text>
<line x1="291.73" y1="272.9" x2="291.73" y2="270.2" stroke="#333" stroke-width="1.4"/>
<line x1="319.48" y1="272.9" x2="319.48" y2="267.5" stroke="#333" stroke-width="1.4"/>
<text x="319.48" y="287.6" text-anchor="middle" font-size="11.5" font-weight="bold">284</text>
<line x1="347.24" y1="272.9" x2="347.24" y2="270.2" stroke="#333" stroke-width="1.4"/>
<text x="375.00" y="287.6" text-anchor="middle" font-size="11.5" font-weight="bold">282</text>
<text x="232" y="52.4" text-anchor="middle" font-size="15" font-weight="bold">C-C/C=C</text>
<text x="232" y="70.9" text-anchor="middle" font-size="15" font-weight="bold">284.8</text>
<line x1="252.3" y1="60.6" x2="297.7" y2="64.5" stroke="#111" stroke-width="1.5"/>
<text x="211" y="126.9" text-anchor="middle" font-size="15" font-weight="bold">C-N/C-O</text>
<text x="211" y="145.9" text-anchor="middle" font-size="15" font-weight="bold">285.7</text>
<line x1="230.4" y1="142.4" x2="272.8" y2="191.7" stroke="#111" stroke-width="1.5"/>
<text x="147" y="182.5" text-anchor="middle" font-size="15" font-weight="bold">C-S</text>
<text x="147" y="201.3" text-anchor="middle" font-size="15" font-weight="bold">288.1</text>
<line x1="165.2" y1="186.3" x2="197.5" y2="217.6" stroke="#111" stroke-width="1.5"/>
<text x="365.5" y="26.3" text-anchor="end" font-size="14.5" font-weight="bold">C 1s</text>
<text transform="translate(30.9,141) rotate(-90)" text-anchor="middle" font-size="18.7" font-weight="bold"><tspan font-style="italic">Intensity</tspan> / a.u.</text>
<text x="209.3" y="309.4" text-anchor="middle" font-size="18.7" font-weight="bold"><tspan font-style="italic">Binding Energy</tspan> / eV</text>
<text x="3.2" y="29.9" font-size="21" font-weight="bold" letter-spacing="1.3">(a)</text>
<polyline points="427.5,240.6 432.3,231.6 437.0,231.4 441.8,231.2 446.5,230.7 451.3,230.2 456.0,229.5 460.8,228.5 465.6,227.3 470.3,225.8 475.1,224.0 479.8,221.7 484.6,219.1 489.3,216.1 494.1,212.6 498.9,208.7 503.6,204.5 508.4,200.0 513.1,195.3 517.9,190.6 522.6,186.0 527.4,181.6 532.2,177.7 536.9,174.4 541.7,172.0 546.4,170.5 551.2,170.1 555.9,170.8 560.7,172.6 565.5,175.3 570.2,178.9 575.0,183.0 579.7,187.7 584.5,192.6 589.2,197.6 594.0,202.5 598.8,207.1 603.5,211.5 608.3,215.6 613.0,219.2 617.8,222.4 622.5,225.2 627.3,227.6 632.1,229.7 636.8,231.3 641.6,232.7 646.3,233.8 651.1,234.7 655.8,235.3 660.6,235.8 665.4,236.2 670.1,236.6 674.9,236.8 679.6,237.0 684.4,237.1 689.1,237.2 693.9,237.3 698.6,237.4 703.4,237.5 708.2,237.5 712.9,237.6 717.7,237.6 722.4,237.7 727.2,237.7 731.9,237.8 736.7,237.8 741.5,237.8 746.2,237.9 751.0,237.9 755.7,237.9 760.5,238.0" fill="none" stroke="#f47a7a" stroke-width="1.6" stroke-linejoin="round"/>
<polyline points="427.5,240.6 432.3,233.1 437.0,233.2 441.8,233.3 446.5,233.4 451.3,233.4 456.0,233.5 460.8,233.6 465.6,233.7 470.3,233.7 475.1,233.8 479.8,233.8 484.6,233.9 489.3,234.0 494.1,234.0 498.9,234.0 503.6,234.1 508.4,234.1 513.1,234.1 517.9,234.0 522.6,233.9 527.4,233.6 532.2,233.0 536.9,231.8 541.7,229.5 546.4,225.6 551.2,219.6 555.9,210.8 560.7,199.1 565.5,185.1 570.2,170.3 575.0,156.9 579.7,147.5 584.5,144.3 589.2,148.2 594.0,158.1 598.8,171.9 603.5,186.9 608.3,201.1 613.0,213.0 617.8,222.0 622.5,228.2 627.3,232.2 632.1,234.6 636.8,235.9 641.6,236.7 646.3,237.1 651.1,237.3 655.8,237.5 660.6,237.6 665.4,237.7 670.1,237.7 674.9,237.8 679.6,237.8 684.4,237.9 689.1,237.9 693.9,238.0 698.6,238.0 703.4,238.0 708.2,238.1 712.9,238.1 717.7,238.1 722.4,238.1 727.2,238.2 731.9,238.2 736.7,238.2 741.5,238.2 746.2,238.2 751.0,238.2 755.7,238.3 760.5,238.3" fill="none" stroke="#84b4e0" stroke-width="1.6" stroke-linejoin="round"/>
<polyline points="427.5,240.6 432.3,233.2 437.0,233.3 441.8,233.4 446.5,233.5 451.3,233.6 456.0,233.7 460.8,233.8 465.6,233.8 470.3,233.9 475.1,234.0 479.8,234.1 484.6,234.2 489.3,234.3 494.1,234.3 498.9,234.4 503.6,234.5 508.4,234.6 513.1,234.6 517.9,234.7 522.6,234.8 527.4,234.8 532.2,234.9 536.9,235.0 541.7,235.0 546.4,235.1 551.2,235.3 555.9,235.4 560.7,235.6 565.5,235.6 570.2,235.4 575.0,234.6 579.7,232.2 584.5,226.6 589.2,215.5 594.0,196.5 598.8,169.3 603.5,136.9 608.3,106.8 613.0,88.3 617.8,88.4 622.5,107.0 627.3,137.2 632.1,169.6 636.8,197.0 641.6,216.1 646.3,227.5 651.1,233.3 655.8,235.9 660.6,237.0 665.4,237.5 670.1,237.6 674.9,237.8 679.6,237.8 684.4,237.9 689.1,237.9 693.9,238.0 698.6,238.0 703.4,238.1 708.2,238.1 712.9,238.1 717.7,238.2 722.4,238.2 727.2,238.2 731.9,238.2 736.7,238.2 741.5,238.3 746.2,238.3 751.0,238.3 755.7,238.3 760.5,238.3" fill="none" stroke="#8c8c14" stroke-width="1.8" stroke-linejoin="round"/>
<polyline points="427.5,240.6 432.3,233.1 437.0,233.2 441.8,233.3 446.5,233.4 451.3,233.5 456.0,233.5 460.8,233.6 465.6,233.7 470.3,233.8 475.1,233.9 479.8,233.9 484.6,234.0 489.3,234.1 494.1,234.1 498.9,234.2 503.6,234.3 508.4,234.4 513.1,234.4 517.9,234.5 522.6,234.5 527.4,234.6 532.2,234.6 536.9,234.7 541.7,234.7 546.4,234.8 551.2,235.0 555.9,235.1 560.7,235.3 565.5,235.4 570.2,235.5 575.0,235.6 579.7,235.6 584.5,235.5 589.2,235.2 594.0,234.3 598.8,232.9 603.5,230.7 608.3,227.4 613.0,222.7 617.8,216.3 622.5,208.1 627.3,198.4 632.1,187.5 636.8,176.4 641.6,166.2 646.3,158.3 651.1,153.8 655.8,153.7 660.6,158.0 665.4,165.8 670.1,176.0 674.9,187.1 679.6,198.0 684.4,207.9 689.1,216.2 693.9,222.8 698.6,227.7 703.4,231.1 708.2,233.4 712.9,234.9 717.7,235.9 722.4,236.5 727.2,236.8 731.9,237.1 736.7,237.3 741.5,237.4 746.2,237.5 751.0,237.6 755.7,237.7 760.5,237.7" fill="none" stroke="#10e8ee" stroke-width="2.1" stroke-linejoin="round"/>
<polyline points="427.5,240.6 432.3,233.3 437.0,233.4 441.8,233.5 446.5,233.6 451.3,233.7 456.0,233.7 460.8,233.8 465.6,233.9 470.3,234.0 475.1,234.1 479.8,234.2 484.6,234.3 489.3,234.4 494.1,234.5 498.9,234.5 503.6,234.6 508.4,234.7 513.1,234.8 517.9,234.9 522.6,235.0 527.4,235.1 532.2,235.2 536.9,235.2 541.7,235.3 546.4,235.5 551.2,235.7 555.9,235.9 560.7,236.2 565.5,236.4 570.2,236.6 575.0,236.9 579.7,237.1 584.5,237.3 589.2,237.6 594.0,237.6 598.8,237.7 603.5,237.7 608.3,237.8 613.0,237.8 617.8,237.9 622.5,237.9 627.3,238.0 632.1,238.0 636.8,238.1 641.6,238.1 646.3,238.2 651.1,238.2 655.8,238.2 660.6,238.2 665.4,238.2 670.1,238.2 674.9,238.2 679.6,238.3 684.4,238.3 689.1,238.3 693.9,238.3 698.6,238.3 703.4,238.3 708.2,238.3 712.9,238.3 717.7,238.3 722.4,238.3 727.2,238.3 731.9,238.3 736.7,238.4 741.5,238.4 746.2,238.4 751.0,238.4 755.7,238.4 760.5,238.4" fill="none" stroke="#f9a47a" stroke-width="1.9" stroke-linejoin="round"/>
<circle cx="427.5" cy="240.7" r="2.05" fill="none" stroke="#b0b0b0" stroke-width="0.9"/>
<circle cx="432.3" cy="244.4" r="2.05" fill="none" stroke="#b0b0b0" stroke-width="0.9"/>
<circle cx="437.0" cy="213.9" r="2.05" fill="none" stroke="#b0b0b0" stroke-width="0.9"/>
<circle cx="441.8" cy="222.5" r="2.05" fill="none" stroke="#b0b0b0" stroke-width="0.9"/>
<circle cx="446.5" cy="244.4" r="2.05" fill="none" stroke="#b0b0b0" stroke-width="0.9"/>
<circle cx="451.3" cy="229.8" r="2.05" fill="none" stroke="#b0b0b0" stroke-width="0.9"/>
<circle cx="456.0" cy="203.8" r="2.05" fill="none" stroke="#b0b0b0" stroke-width="0.9"/>
<circle cx="460.8" cy="230.4" r="2.05" fill="none" stroke="#b0b0b0" stroke-width="0.9"/>
<circle cx="465.6" cy="239.9" r="2.05" fill="none" stroke="#b0b0b0" stroke-width="0.9"/>
<circle cx="470.3" cy="203.1" r="2.05" fill="none" stroke="#b0b0b0" stroke-width="0.9"/>
<circle cx="475.1" cy="212.8" r="2.05" fill="none" stroke="#b0b0b0" stroke-width="0.9"/>
<circle cx="479.8" cy="221.6" r="2.05" fill="none" stroke="#b0b0b0" stroke-width="0.9"/>
<circle cx="484.6" cy="227.6" r="2.05" fill="none" stroke="#b0b0b0" stroke-width="0.9"/>
<circle cx="489.3" cy="221.0" r="2.05" fill="none" stroke="#b0b0b0" stroke-width="0.9"/>
<circle cx="494.1" cy="217.3" r="2.05" fill="none" stroke="#b0b0b0" stroke-width="0.9"/>
<circle cx="498.9" cy="205.7" r="2.05" fill="none" stroke="#b0b0b0" stroke-width="0.9"/>
<circle cx="503.6" cy="230.0" r="2.05" fill="none" stroke="#b0b0b0" stroke-width="0.9"/>
<circle cx="508.4" cy="200.8" r="2.05" fill="none" stroke="#b0b0b0" stroke-width="0.9"/>
<circle cx="513.1" cy="182.9" r="2.05" fill="none" stroke="#b0b0b0" stroke-width="0.9"/>
<circle cx="517.9" cy="177.7" r="2.05" fill="none" stroke="#b0b0b0" stroke-width="0.9"/>
<circle cx="522.6" cy="176.2" r="2.05" fill="none" stroke="#b0b0b0" stroke-width="0.9"/>
<circle cx="527.4" cy="176.2" r="2.05" fill="none" stroke="#b0b0b0" stroke-width="0.9"/>
<circle cx="532.2" cy="150.9" r="2.05" fill="none" stroke="#b0b0b0" stroke-width="0.9"/>
<circle cx="536.9" cy="177.1" r="2.05" fill="none" stroke="#b0b0b0" stroke-width="0.9"/>
<circle cx="541.7" cy="203.8" r="2.05" fill="none" stroke="#b0b0b0" stroke-width="0.9"/>
<circle cx="546.4" cy="167.7" r="2.05" fill="none" stroke="#b0b0b0" stroke-width="0.9"/>
<circle cx="551.2" cy="134.2" r="2.05" fill="none" stroke="#b0b0b0" stroke-width="0.9"/>
<circle cx="555.9" cy="167.3" r="2.05" fill="none" stroke="#b0b0b0" stroke-width="0.9"/>
<circle cx="560.7" cy="101.3" r="2.05" fill="none" stroke="#b0b0b0" stroke-width="0.9"/>
<circle cx="565.5" cy="128.4" r="2.05" fill="none" stroke="#b0b0b0" stroke-width="0.9"/>
<circle cx="570.2" cy="127.0" r="2.05" fill="none" stroke="#b0b0b0" stroke-width="0.9"/>
<circle cx="575.0" cy="106.5" r="2.05" fill="none" stroke="#b0b0b0" stroke-width="0.9"/>
<circle cx="579.7" cy="76.1" r="2.05" fill="none" stroke="#b0b0b0" stroke-width="0.9"/>
<circle cx="584.5" cy="73.8" r="2.05" fill="none" stroke="#b0b0b0" stroke-width="0.9"/>
<circle cx="589.2" cy="96.1" r="2.05" fill="none" stroke="#b0b0b0" stroke-width="0.9"/>
<circle cx="594.0" cy="71.2" r="2.05" fill="none" stroke="#b0b0b0" stroke-width="0.9"/>
<circle cx="598.8" cy="87.9" r="2.05" fill="none" stroke="#b0b0b0" stroke-width="0.9"/>
<circle cx="603.5" cy="54.0" r="2.05" fill="none" stroke="#b0b0b0" stroke-width="0.9"/>
<circle cx="608.3" cy="29.7" r="2.05" fill="none" stroke="#b0b0b0" stroke-width="0.9"/>
<circle cx="613.0" cy="34.6" r="2.05" fill="none" stroke="#b0b0b0" stroke-width="0.9"/>
<circle cx="617.8" cy="34.0" r="2.05" fill="none" stroke="#b0b0b0" stroke-width="0.9"/>
<circle cx="622.5" cy="51.8" r="2.05" fill="none" stroke="#b0b0b0" stroke-width="0.9"/>
<circle cx="627.3" cy="84.5" r="2.05" fill="none" stroke="#b0b0b0" stroke-width="0.9"/>
<circle cx="632.1" cy="100.0" r="2.05" fill="none" stroke="#b0b0b0" stroke-width="0.9"/>
<circle cx="636.8" cy="123.7" r="2.05" fill="none" stroke="#b0b0b0" stroke-width="0.9"/>
<circle cx="641.6" cy="135.9" r="2.05" fill="none" stroke="#b0b0b0" stroke-width="0.9"/>
<circle cx="646.3" cy="137.5" r="2.05" fill="none" stroke="#b0b0b0" stroke-width="0.9"/>
<circle cx="651.1" cy="138.7" r="2.05" fill="none" stroke="#b0b0b0" stroke-width="0.9"/>
<circle cx="655.8" cy="139.9" r="2.05" fill="none" stroke="#b0b0b0" stroke-width="0.9"/>
<circle cx="660.6" cy="162.8" r="2.05" fill="none" stroke="#b0b0b0" stroke-width="0.9"/>
<circle cx="665.4" cy="163.7" r="2.05" fill="none" stroke="#b0b0b0" stroke-width="0.9"/>
<circle cx="670.1" cy="174.2" r="2.05" fill="none" stroke="#b0b0b0" stroke-width="0.9"/>
<circle cx="674.9" cy="184.3" r="2.05" fill="none" stroke="#b0b0b0" stroke-width="0.9"/>
<circle cx="679.6" cy="190.1" r="2.05" fill="none" stroke="#b0b0b0" stroke-width="0.9"/>
<circle cx="684.4" cy="189.6" r="2.05" fill="none" stroke="#b0b0b0" stroke-width="0.9"/>
<circle cx="689.1" cy="225.1" r="2.05" fill="none" stroke="#b0b0b0" stroke-width="0.9"/>
<circle cx="693.9" cy="220.5" r="2.05" fill="none" stroke="#b0b0b0" stroke-width="0.9"/>
<circle cx="698.6" cy="210.7" r="2.05" fill="none" stroke="#b0b0b0" stroke-width="0.9"/>
<circle cx="703.4" cy="262.1" r="2.05" fill="none" stroke="#b0b0b0" stroke-width="0.9"/>
<circle cx="708.2" cy="236.4" r="2.05" fill="none" stroke="#b0b0b0" stroke-width="0.9"/>
<circle cx="712.9" cy="215.1" r="2.05" fill="none" stroke="#b0b0b0" stroke-width="0.9"/>
<circle cx="717.7" cy="251.3" r="2.05" fill="none" stroke="#b0b0b0" stroke-width="0.9"/>
<circle cx="722.4" cy="225.6" r="2.05" fill="none" stroke="#b0b0b0" stroke-width="0.9"/>
<circle cx="727.2" cy="228.6" r="2.05" fill="none" stroke="#b0b0b0" stroke-width="0.9"/>
<circle cx="731.9" cy="253.9" r="2.05" fill="none" stroke="#b0b0b0" stroke-width="0.9"/>
<circle cx="741.5" cy="242.7" r="2.05" fill="none" stroke="#b0b0b0" stroke-width="0.9"/>
<circle cx="746.2" cy="215.8" r="2.05" fill="none" stroke="#b0b0b0" stroke-width="0.9"/>
<circle cx="751.0" cy="225.8" r="2.05" fill="none" stroke="#b0b0b0" stroke-width="0.9"/>
<circle cx="755.7" cy="269.5" r="2.05" fill="none" stroke="#b0b0b0" stroke-width="0.9"/>
<polyline points="427.5,240.6 432.3,231.3 437.0,231.0 441.8,230.7 446.5,230.3 451.3,229.7 456.0,229.0 460.8,228.0 465.6,226.8 470.3,225.2 475.1,223.3 479.8,221.0 484.6,218.4 489.3,215.2 494.1,211.7 498.9,207.7 503.6,203.4 508.4,198.8 513.1,194.0 517.9,189.1 522.6,184.3 527.4,179.5 532.2,174.8 536.9,170.1 541.7,165.2 546.4,159.6 551.2,152.8 555.9,144.4 560.7,134.0 565.5,122.3 570.2,110.2 575.0,99.6 579.7,91.7 584.5,87.1 589.2,83.9 594.0,78.5 598.8,68.1 603.5,52.9 608.3,37.6 613.0,29.8 617.8,35.5 622.5,54.8 627.3,81.5 632.1,107.3 636.8,126.5 641.6,137.4 646.3,142.2 651.1,144.6 655.8,147.8 660.6,153.8 665.4,162.5 670.1,173.2 674.9,184.7 679.6,195.9 684.4,206.0 689.1,214.5 693.9,221.3 698.6,226.3 703.4,229.8 708.2,232.2 712.9,233.8 717.7,234.8 722.4,235.5 727.2,235.9 731.9,236.2 736.7,236.4 741.5,236.6 746.2,236.8 751.0,236.9 755.7,237.0 760.5,237.1" fill="none" stroke="#f58462" stroke-width="1.6" stroke-linejoin="round"/>
<rect x="427.5" y="5.2" width="333.0" height="267.7" fill="none" stroke="#727272" stroke-width="1.9"/>
<text x="427.50" y="287.6" text-anchor="middle" font-size="11.5" font-weight="bold">404</text>
<line x1="451.29" y1="272.9" x2="451.29" y2="270.2" stroke="#333" stroke-width="1.4"/>
<line x1="475.07" y1="272.9" x2="475.07" y2="267.5" stroke="#333" stroke-width="1.4"/>
<text x="475.07" y="287.6" text-anchor="middle" font-size="11.5" font-weight="bold">403</text>
<line x1="498.86" y1="272.9" x2="498.86" y2="270.2" stroke="#333" stroke-width="1.4"/>
<line x1="522.64" y1="272.9" x2="522.64" y2="267.5" stroke="#333" stroke-width="1.4"/>
<text x="522.64" y="287.6" text-anchor="middle" font-size="11.5" font-weight="bold">402</text>
<line x1="546.43" y1="272.9" x2="546.43" y2="270.2" stroke="#333" stroke-width="1.4"/>
<line x1="570.21" y1="272.9" x2="570.21" y2="267.5" stroke="#333" stroke-width="1.4"/>
<text x="570.21" y="287.6" text-anchor="middle" font-size="11.5" font-weight="bold">401</text>
<line x1="594.00" y1="272.9" x2="594.00" y2="270.2" stroke="#333" stroke-width="1.4"/>
<line x1="617.79" y1="272.9" x2="617.79" y2="267.5" stroke="#333" stroke-width="1.4"/>
<text x="617.79" y="287.6" text-anchor="middle" font-size="11.5" font-weight="bold">400</text>
<line x1="641.57" y1="272.9" x2="641.57" y2="270.2" stroke="#333" stroke-width="1.4"/>
<line x1="665.36" y1="272.9" x2="665.36" y2="267.5" stroke="#333" stroke-width="1.4"/>
<text x="665.36" y="287.6" text-anchor="middle" font-size="11.5" font-weight="bold">399</text>
<line x1="689.14" y1="272.9" x2="689.14" y2="270.2" stroke="#333" stroke-width="1.4"/>
<line x1="712.93" y1="272.9" x2="712.93" y2="267.5" stroke="#333" stroke-width="1.4"/>
<text x="712.93" y="287.6" text-anchor="middle" font-size="11.5" font-weight="bold">398</text>
<line x1="736.71" y1="272.9" x2="736.71" y2="270.2" stroke="#333" stroke-width="1.4"/>
<text x="760.50" y="287.6" text-anchor="middle" font-size="11.5" font-weight="bold">397</text>
<text x="754.5" y="24" text-anchor="end" font-size="14.5" font-weight="bold">N 1s</text>
<text x="537.5" y="101.5" text-anchor="middle" font-size="15" font-weight="bold">-NH<tspan dy="-5" font-size="10">+</tspan><tspan dy="5">-</tspan></text>
<text x="537.5" y="120.7" text-anchor="middle" font-size="15" font-weight="bold">400.7</text>
<line x1="560" y1="111.4" x2="584.3" y2="141.7" stroke="#111" stroke-width="1.5"/>
<text x="495.5" y="155.7" text-anchor="middle" font-size="15" font-weight="bold">-NH<tspan dy="-5" font-size="10">+</tspan><tspan dy="5">=</tspan></text>
<text x="495.5" y="174" text-anchor="middle" font-size="15" font-weight="bold">401.4</text>
<line x1="513.8" y1="161.9" x2="550.7" y2="171.6" stroke="#111" stroke-width="1.5"/>
<text x="659" y="60.5" text-anchor="middle" font-size="15" font-weight="bold">-NH-</text>
<text x="659" y="79" text-anchor="middle" font-size="15" font-weight="bold">400.1</text>
<line x1="640.5" y1="70.3" x2="616.1" y2="84.5" stroke="#111" stroke-width="1.5"/>
<text x="693" y="129.2" text-anchor="middle" font-size="15" font-weight="bold">-NH=</text>
<text x="693" y="147.7" text-anchor="middle" font-size="15" font-weight="bold">399.2</text>
<line x1="677.1" y1="136.4" x2="654.7" y2="152.5" stroke="#111" stroke-width="1.5"/>
<text transform="translate(416.1,136.3) rotate(-90)" text-anchor="middle" font-size="18.7" font-weight="bold"><tspan font-style="italic">Intensity</tspan> / a.u.</text>
<text x="590.4" y="309.2" text-anchor="middle" font-size="18.7" font-weight="bold"><tspan font-style="italic">Binding Energy</tspan> / eV</text>
<text x="393.3" y="29.6" font-size="21" font-weight="bold" letter-spacing="1.3">(b)</text>
<polyline points="41.9,553.3 42.4,553.3 42.9,553.3 43.4,553.3 43.9,553.3 44.4,553.3 44.9,553.4 45.4,553.4 45.9,553.4 46.4,553.4 46.9,553.5 47.4,553.5 47.9,553.5 48.4,553.5 48.9,553.6 49.4,553.6 49.9,553.6 50.4,553.6 50.9,553.7 51.4,553.7 51.9,553.7 52.4,553.8 52.9,553.8 53.4,553.8 53.9,553.8 54.4,553.9 54.9,553.9 55.4,553.9 55.9,554.0 56.4,554.0 56.9,554.0 57.4,554.1 57.9,554.1 58.4,554.1 58.9,554.2 59.4,554.2 59.9,554.2 60.4,554.2 60.9,554.3 61.4,554.3 61.9,554.3 62.4,554.4 62.9,554.4 63.4,554.4 63.9,554.5 64.4,554.5 64.9,554.5 65.4,554.6 65.9,554.6 66.4,554.6 66.9,554.6 67.4,554.7 67.9,554.7 68.4,554.7 68.9,554.8 69.4,554.8 69.9,554.8 70.4,554.9 70.9,554.9 71.4,554.9 71.9,555.0 72.4,555.0 72.9,555.0 73.4,555.0 73.9,555.1 74.4,555.1 74.9,555.1 75.4,555.2 75.9,555.2 76.4,555.2 76.9,555.3 77.4,555.3 77.9,555.3 78.4,555.3 78.9,555.4 79.4,555.4 79.9,555.4 80.4,555.5 80.9,555.5 81.4,555.5 81.9,555.6 82.4,555.6 82.9,555.6 83.4,555.7 83.9,555.7 84.4,555.7 84.9,555.7 85.4,555.8 85.9,555.8 86.4,555.8 86.9,555.9 87.4,555.9 87.9,555.9 88.4,556.0 88.9,556.0 89.4,556.0 89.9,556.1 90.4,556.1 90.9,556.1 91.4,556.1 91.9,556.2 92.4,556.2 92.9,556.2 93.4,556.3 93.9,556.3 94.4,556.3 94.9,556.4 95.4,556.4 95.9,556.4 96.4,556.4 96.9,556.5 97.4,556.5 97.9,556.5 98.4,556.6 98.9,556.6 99.4,556.6 99.9,556.7 100.4,556.7 100.9,556.7 101.4,556.7 101.9,556.8 102.4,556.8 102.9,556.8 103.4,556.9 103.9,556.9 104.4,556.9 104.9,557.0 105.4,557.0 105.9,557.0 106.4,557.0 106.9,557.1 107.4,557.1 107.9,557.1 108.4,557.2 108.9,557.2 109.4,557.2 109.9,557.3 110.4,557.3 110.9,557.3 111.4,557.3 111.9,557.4 112.4,557.4 112.9,557.4 113.4,557.5 113.9,557.5 114.4,557.5 114.9,557.6 115.4,557.6 115.9,557.6 116.4,557.6 116.9,557.7 117.4,557.7 117.9,557.7 118.4,557.8 118.9,557.8 119.4,557.8 119.9,557.9 120.4,557.9 120.9,557.9 121.4,557.9 121.9,558.0 122.4,558.0 122.9,558.0 123.4,558.1 123.9,558.1 124.4,558.1 124.9,558.1 125.4,558.2 125.9,558.2 126.4,558.2 126.9,558.3 127.4,558.3 127.9,558.3 128.4,558.3 128.9,558.4 129.4,558.4 129.9,558.4 130.4,558.5 130.9,558.5 131.4,558.5 131.9,558.6 132.4,558.6 132.9,558.6 133.4,558.6 133.9,558.7 134.4,558.7 134.9,558.7 135.4,558.8 135.9,558.8 136.4,558.8 136.9,558.8 137.4,558.9 137.9,558.9 138.4,558.9 138.9,559.0 139.4,559.0 139.9,559.0 140.4,559.0 140.9,559.1 141.4,559.1 141.9,559.1 142.4,559.2 142.9,559.2 143.4,559.2 143.9,559.2 144.4,559.3 144.9,559.3 145.4,559.3 145.9,559.3 146.4,559.4 146.9,559.4 147.4,559.4 147.9,559.5 148.4,559.5 148.9,559.5 149.4,559.5 149.9,559.6 150.4,559.6 150.9,559.6 151.4,559.6 151.9,559.7 152.4,559.7 152.9,559.7 153.4,559.8 153.9,559.8 154.4,559.8 154.9,559.8 155.4,559.9 155.9,559.9 156.4,559.9 156.9,559.9 157.4,560.0 157.9,560.0 158.4,560.0 158.9,560.0 159.4,560.1 159.9,560.1 160.4,560.1 160.9,560.1 161.4,560.2 161.9,560.2 162.4,560.2 162.9,560.2 163.4,560.3 163.9,560.3 164.4,560.3 164.9,560.3 165.4,560.3 165.9,560.4 166.4,560.4 166.9,560.4 167.4,560.4 167.9,560.4 168.4,560.5 168.9,560.5 169.4,560.5 169.9,560.5 170.4,560.5 170.9,560.6 171.4,560.6 171.9,560.6 172.4,560.6 172.9,560.6 173.4,560.6 173.9,560.6 174.4,560.6 174.9,560.7 175.4,560.7 175.9,560.7 176.4,560.7 176.9,560.7 177.4,560.7 177.9,560.7 178.4,560.7 178.9,560.7 179.4,560.7 179.9,560.7 180.4,560.6 180.9,560.6 181.4,560.6 181.9,560.6 182.4,560.6 182.9,560.5 183.4,560.5 183.9,560.5 184.4,560.4 184.9,560.4 185.4,560.3 185.9,560.3 186.4,560.2 186.9,560.2 187.4,560.1 187.9,560.0 188.4,560.0 188.9,559.9 189.4,559.8 189.9,559.7 190.4,559.6 190.9,559.5 191.4,559.4 191.9,559.2 192.4,559.1 192.9,559.0 193.4,558.8 193.9,558.7 194.4,558.5 194.9,558.3 195.4,558.1 195.9,557.9 196.4,557.7 196.9,557.5 197.4,557.3 197.9,557.1 198.4,556.8 198.9,556.6 199.4,556.3 199.9,556.0 200.4,555.7 200.9,555.4 201.4,555.1 201.9,554.7 202.4,554.4 202.9,554.0 203.4,553.6 203.9,553.2 204.4,552.8 204.9,552.4 205.4,552.0 205.9,551.5 206.4,551.0 206.9,550.5 207.4,550.0 207.9,549.5 208.4,549.0 208.9,548.4 209.4,547.9 209.9,547.3 210.4,546.7 210.9,546.1 211.4,545.4 211.9,544.8 212.4,544.1 212.9,543.4 213.4,542.7 213.9,542.0 214.4,541.3 214.9,540.5 215.4,539.7 215.9,539.0 216.4,538.2 216.9,537.4 217.4,536.5 217.9,535.7 218.4,534.8 218.9,534.0 219.4,533.1 219.9,532.2 220.4,531.3 220.9,530.4 221.4,529.5 221.9,528.6 222.4,527.6 222.9,526.7 223.4,525.8 223.9,524.8 224.4,523.9 224.9,522.9 225.4,521.9 225.9,521.0 226.4,520.0 226.9,519.1 227.4,518.1 227.9,517.2 228.4,516.2 228.9,515.3 229.4,514.3 229.9,513.4 230.4,512.5 230.9,511.6 231.4,510.7 231.9,509.8 232.4,509.0 232.9,508.1 233.4,507.3 233.9,506.5 234.4,505.7 234.9,504.9 235.4,504.2 235.9,503.5 236.4,502.8 236.9,502.1 237.4,501.5 237.9,500.9 238.4,500.3 238.9,499.7 239.4,499.2 239.9,498.8 240.4,498.3 240.9,497.9 241.4,497.5 241.9,497.2 242.4,496.9 242.9,496.6 243.4,496.4 243.9,496.2 244.4,496.1 244.9,496.0 245.4,496.0 245.9,495.9 246.4,496.0 246.9,496.0 247.4,496.1 247.9,496.3 248.4,496.5 248.9,496.7 249.4,497.0 249.9,497.3 250.4,497.6 250.9,498.0 251.4,498.4 251.9,498.9 252.4,499.4 252.9,499.9 253.4,500.4 253.9,501.0 254.4,501.6 254.9,502.3 255.4,503.0 255.9,503.7 256.4,504.4 256.9,505.2 257.4,505.9 257.9,506.7 258.4,507.6 258.9,508.4 259.4,509.3 259.9,510.1 260.4,511.0 260.9,511.9 261.4,512.9 261.9,513.8 262.4,514.7 262.9,515.7 263.4,516.6 263.9,517.6 264.4,518.6 264.9,519.5 265.4,520.5 265.9,521.5 266.4,522.5 266.9,523.4 267.4,524.4 267.9,525.4 268.4,526.4 268.9,527.3 269.4,528.3 269.9,529.2 270.4,530.2 270.9,531.1 271.4,532.0 271.9,533.0 272.4,533.9 272.9,534.8 273.4,535.6 273.9,536.5 274.4,537.4 274.9,538.2 275.4,539.1 275.9,539.9 276.4,540.7 276.9,541.5 277.4,542.2 277.9,543.0 278.4,543.7 278.9,544.5 279.4,545.2 279.9,545.9 280.4,546.5 280.9,547.2 281.4,547.8 281.9,548.5 282.4,549.1 282.9,549.7 283.4,550.2 283.9,550.8 284.4,551.3 284.9,551.9 285.4,552.4 285.9,552.9 286.4,553.3 286.9,553.8 287.4,554.2 287.9,554.7 288.4,555.1 288.9,555.5 289.4,555.9 289.9,556.3 290.4,556.6 290.9,557.0 291.4,557.3 291.9,557.6 292.4,557.9 292.9,558.2 293.4,558.5 293.9,558.8 294.4,559.0 294.9,559.3 295.4,559.5 295.9,559.7 296.4,560.0 296.9,560.2 297.4,560.4 297.9,560.6 298.4,560.7 298.9,560.9 299.4,561.1 299.9,561.2 300.4,561.4 300.9,561.5 301.4,561.7 301.9,561.8 302.4,561.9 302.9,562.0 303.4,562.2 303.9,562.3 304.4,562.4 304.9,562.5 305.4,562.5 305.9,562.6 306.4,562.7 306.9,562.8 307.4,562.9 307.9,562.9 308.4,563.0 308.9,563.1 309.4,563.1 309.9,563.2 310.4,563.2 310.9,563.3 311.4,563.3 311.9,563.4 312.4,563.4 312.9,563.5 313.4,563.5 313.9,563.5 314.4,563.6 314.9,563.6 315.4,563.6 315.9,563.7 316.4,563.7 316.9,563.7 317.4,563.8 317.9,563.8 318.4,563.8 318.9,563.8 319.4,563.9 319.9,563.9 320.4,563.9 320.9,563.9 321.4,563.9 321.9,564.0 322.4,564.0 322.9,564.0 323.4,564.0 323.9,564.0 324.4,564.0 324.9,564.1 325.4,564.1 325.9,564.1 326.4,564.1 326.9,564.1 327.4,564.1 327.9,564.1 328.4,564.1 328.9,564.2 329.4,564.2 329.9,564.2 330.4,564.2 330.9,564.2 331.4,564.2 331.9,564.2 332.4,564.2 332.9,564.2 333.4,564.2 333.9,564.3 334.4,564.3 334.9,564.3 335.4,564.3 335.9,564.3 336.4,564.3 336.9,564.3 337.4,564.3 337.9,564.3 338.4,564.3 338.9,564.3 339.4,564.3 339.9,564.4 340.4,564.4 340.9,564.4 341.4,564.4 341.9,564.4 342.4,564.4 342.9,564.4 343.4,564.4 343.9,564.4 344.4,564.4 344.9,564.4 345.4,564.4 345.9,564.4 346.4,564.4 346.9,564.4 347.4,564.5 347.9,564.5 348.4,564.5 348.9,564.5 349.4,564.5 349.9,564.5 350.4,564.5 350.9,564.5 351.4,564.5 351.9,564.5 352.4,564.5 352.9,564.5 353.4,564.5 353.9,564.5 354.4,564.5 354.9,564.5 355.4,564.6 355.9,564.6 356.4,564.6 356.9,564.6 357.4,564.6 357.9,564.6 358.4,564.6 358.9,564.6 359.4,564.6 359.9,564.6 360.4,564.6 360.9,564.6 361.4,564.6 361.9,564.6 362.4,564.6 362.9,564.6 363.4,564.6 363.9,564.7 364.4,564.7 364.9,564.7 365.4,564.7 365.9,564.7 366.4,564.7 366.9,564.7 367.4,564.7 367.9,564.7 368.4,564.7 368.9,564.7 369.4,564.7 369.9,564.7 370.4,564.7 370.9,564.7 371.4,564.7 371.9,564.7 372.4,564.7 372.9,564.7 373.4,564.7 373.9,564.7 374.4,564.7 374.9,564.7" fill="none" stroke="#f57f7f" stroke-width="1.6" stroke-linejoin="round"/>
<polyline points="41.9,551.6 42.4,551.6 42.9,551.6 43.4,551.6 43.9,551.6 44.4,551.7 44.9,551.7 45.4,551.7 45.9,551.7 46.4,551.7 46.9,551.7 47.4,551.7 47.9,551.7 48.4,551.8 48.9,551.8 49.4,551.8 49.9,551.8 50.4,551.8 50.9,551.8 51.4,551.9 51.9,551.9 52.4,551.9 52.9,551.9 53.4,551.9 53.9,552.0 54.4,552.0 54.9,552.0 55.4,552.0 55.9,552.0 56.4,552.1 56.9,552.1 57.4,552.1 57.9,552.1 58.4,552.1 58.9,552.1 59.4,552.2 59.9,552.2 60.4,552.2 60.9,552.2 61.4,552.2 61.9,552.3 62.4,552.3 62.9,552.3 63.4,552.3 63.9,552.3 64.4,552.3 64.9,552.4 65.4,552.4 65.9,552.4 66.4,552.4 66.9,552.4 67.4,552.4 67.9,552.5 68.4,552.5 68.9,552.5 69.4,552.5 69.9,552.5 70.4,552.5 70.9,552.5 71.4,552.6 71.9,552.6 72.4,552.6 72.9,552.6 73.4,552.6 73.9,552.6 74.4,552.6 74.9,552.6 75.4,552.7 75.9,552.7 76.4,552.7 76.9,552.7 77.4,552.7 77.9,552.7 78.4,552.7 78.9,552.7 79.4,552.7 79.9,552.8 80.4,552.8 80.9,552.8 81.4,552.8 81.9,552.8 82.4,552.8 82.9,552.8 83.4,552.8 83.9,552.8 84.4,552.8 84.9,552.8 85.4,552.8 85.9,552.8 86.4,552.8 86.9,552.8 87.4,552.8 87.9,552.8 88.4,552.8 88.9,552.8 89.4,552.8 89.9,552.8 90.4,552.8 90.9,552.8 91.4,552.8 91.9,552.8 92.4,552.8 92.9,552.8 93.4,552.8 93.9,552.8 94.4,552.8 94.9,552.8 95.4,552.8 95.9,552.7 96.4,552.7 96.9,552.7 97.4,552.7 97.9,552.7 98.4,552.7 98.9,552.6 99.4,552.6 99.9,552.6 100.4,552.6 100.9,552.5 101.4,552.5 101.9,552.5 102.4,552.5 102.9,552.4 103.4,552.4 103.9,552.4 104.4,552.3 104.9,552.3 105.4,552.2 105.9,552.2 106.4,552.2 106.9,552.1 107.4,552.1 107.9,552.0 108.4,552.0 108.9,551.9 109.4,551.8 109.9,551.8 110.4,551.7 110.9,551.6 111.4,551.6 111.9,551.5 112.4,551.4 112.9,551.3 113.4,551.3 113.9,551.2 114.4,551.1 114.9,551.0 115.4,550.9 115.9,550.8 116.4,550.7 116.9,550.6 117.4,550.5 117.9,550.4 118.4,550.3 118.9,550.1 119.4,550.0 119.9,549.9 120.4,549.7 120.9,549.6 121.4,549.5 121.9,549.3 122.4,549.2 122.9,549.0 123.4,548.8 123.9,548.7 124.4,548.5 124.9,548.3 125.4,548.1 125.9,547.9 126.4,547.7 126.9,547.5 127.4,547.3 127.9,547.1 128.4,546.9 128.9,546.6 129.4,546.4 129.9,546.2 130.4,545.9 130.9,545.6 131.4,545.4 131.9,545.1 132.4,544.8 132.9,544.5 133.4,544.2 133.9,543.9 134.4,543.6 134.9,543.3 135.4,543.0 135.9,542.6 136.4,542.3 136.9,541.9 137.4,541.6 137.9,541.2 138.4,540.8 138.9,540.4 139.4,540.0 139.9,539.6 140.4,539.2 140.9,538.7 141.4,538.3 141.9,537.8 142.4,537.4 142.9,536.9 143.4,536.4 143.9,535.9 144.4,535.4 144.9,534.9 145.4,534.4 145.9,533.8 146.4,533.3 146.9,532.7 147.4,532.1 147.9,531.5 148.4,530.9 148.9,530.3 149.4,529.7 149.9,529.1 150.4,528.4 150.9,527.7 151.4,527.1 151.9,526.4 152.4,525.7 152.9,525.0 153.4,524.3 153.9,523.5 154.4,522.8 154.9,522.0 155.4,521.2 155.9,520.4 156.4,519.6 156.9,518.8 157.4,518.0 157.9,517.2 158.4,516.3 158.9,515.4 159.4,514.6 159.9,513.7 160.4,512.8 160.9,511.9 161.4,510.9 161.9,510.0 162.4,509.0 162.9,508.1 163.4,507.1 163.9,506.1 164.4,505.1 164.9,504.1 165.4,503.1 165.9,502.0 166.4,501.0 166.9,499.9 167.4,498.8 167.9,497.8 168.4,496.7 168.9,495.6 169.4,494.4 169.9,493.3 170.4,492.2 170.9,491.0 171.4,489.9 171.9,488.7 172.4,487.5 172.9,486.4 173.4,485.2 173.9,484.0 174.4,482.8 174.9,481.6 175.4,480.3 175.9,479.1 176.4,477.9 176.9,476.6 177.4,475.4 177.9,474.1 178.4,472.9 178.9,471.6 179.4,470.3 179.9,469.1 180.4,467.8 180.9,466.5 181.4,465.2 181.9,464.0 182.4,462.7 182.9,461.4 183.4,460.1 183.9,458.8 184.4,457.5 184.9,456.2 185.4,455.0 185.9,453.7 186.4,452.4 186.9,451.1 187.4,449.8 187.9,448.6 188.4,447.3 188.9,446.0 189.4,444.8 189.9,443.5 190.4,442.3 190.9,441.0 191.4,439.8 191.9,438.6 192.4,437.4 192.9,436.2 193.4,435.0 193.9,433.8 194.4,432.6 194.9,431.5 195.4,430.3 195.9,429.2 196.4,428.1 196.9,427.0 197.4,425.9 197.9,424.8 198.4,423.8 198.9,422.8 199.4,421.8 199.9,420.8 200.4,419.8 200.9,418.8 201.4,417.9 201.9,417.0 202.4,416.1 202.9,415.2 203.4,414.4 203.9,413.6 204.4,412.8 204.9,412.0 205.4,411.3 205.9,410.6 206.4,409.9 206.9,409.2 207.4,408.6 207.9,408.0 208.4,407.4 208.9,406.9 209.4,406.4 209.9,405.9 210.4,405.5 210.9,405.1 211.4,404.7 211.9,404.3 212.4,404.0 212.9,403.7 213.4,403.5 213.9,403.3 214.4,403.1 214.9,402.9 215.4,402.8 215.9,402.7 216.4,402.7 216.9,402.7 217.4,402.7 217.9,402.8 218.4,402.9 218.9,403.0 219.4,403.2 219.9,403.3 220.4,403.6 220.9,403.8 221.4,404.1 221.9,404.5 222.4,404.8 222.9,405.2 223.4,405.6 223.9,406.1 224.4,406.6 224.9,407.1 225.4,407.7 225.9,408.2 226.4,408.8 226.9,409.5 227.4,410.2 227.9,410.9 228.4,411.6 228.9,412.3 229.4,413.1 229.9,413.9 230.4,414.8 230.9,415.6 231.4,416.5 231.9,417.4 232.4,418.3 232.9,419.3 233.4,420.2 233.9,421.2 234.4,422.2 234.9,423.3 235.4,424.3 235.9,425.4 236.4,426.5 236.9,427.6 237.4,428.7 237.9,429.9 238.4,431.0 238.9,432.2 239.4,433.4 239.9,434.5 240.4,435.8 240.9,437.0 241.4,438.2 241.9,439.4 242.4,440.7 242.9,442.0 243.4,443.2 243.9,444.5 244.4,445.8 244.9,447.1 245.4,448.4 245.9,449.7 246.4,451.0 246.9,452.3 247.4,453.6 247.9,454.9 248.4,456.3 248.9,457.6 249.4,458.9 249.9,460.2 250.4,461.6 250.9,462.9 251.4,464.2 251.9,465.5 252.4,466.9 252.9,468.2 253.4,469.5 253.9,470.8 254.4,472.1 254.9,473.4 255.4,474.7 255.9,476.0 256.4,477.3 256.9,478.6 257.4,479.9 257.9,481.2 258.4,482.5 258.9,483.7 259.4,485.0 259.9,486.2 260.4,487.5 260.9,488.7 261.4,489.9 261.9,491.2 262.4,492.4 262.9,493.6 263.4,494.7 263.9,495.9 264.4,497.1 264.9,498.2 265.4,499.4 265.9,500.5 266.4,501.6 266.9,502.8 267.4,503.9 267.9,505.0 268.4,506.0 268.9,507.1 269.4,508.1 269.9,509.2 270.4,510.2 270.9,511.2 271.4,512.2 271.9,513.2 272.4,514.2 272.9,515.2 273.4,516.1 273.9,517.1 274.4,518.0 274.9,518.9 275.4,519.8 275.9,520.7 276.4,521.6 276.9,522.5 277.4,523.3 277.9,524.2 278.4,525.0 278.9,525.8 279.4,526.6 279.9,527.4 280.4,528.2 280.9,528.9 281.4,529.7 281.9,530.4 282.4,531.1 282.9,531.9 283.4,532.6 283.9,533.3 284.4,533.9 284.9,534.6 285.4,535.2 285.9,535.9 286.4,536.5 286.9,537.1 287.4,537.7 287.9,538.3 288.4,538.9 288.9,539.5 289.4,540.0 289.9,540.6 290.4,541.1 290.9,541.6 291.4,542.1 291.9,542.7 292.4,543.1 292.9,543.6 293.4,544.1 293.9,544.6 294.4,545.0 294.9,545.5 295.4,545.9 295.9,546.3 296.4,546.7 296.9,547.1 297.4,547.5 297.9,547.9 298.4,548.3 298.9,548.7 299.4,549.0 299.9,549.4 300.4,549.7 300.9,550.0 301.4,550.4 301.9,550.7 302.4,551.0 302.9,551.3 303.4,551.6 303.9,551.9 304.4,552.2 304.9,552.4 305.4,552.7 305.9,553.0 306.4,553.2 306.9,553.5 307.4,553.7 307.9,553.9 308.4,554.2 308.9,554.4 309.4,554.6 309.9,554.8 310.4,555.0 310.9,555.2 311.4,555.4 311.9,555.6 312.4,555.8 312.9,556.0 313.4,556.2 313.9,556.3 314.4,556.5 314.9,556.7 315.4,556.8 315.9,557.0 316.4,557.1 316.9,557.3 317.4,557.4 317.9,557.6 318.4,557.7 318.9,557.8 319.4,558.0 319.9,558.1 320.4,558.2 320.9,558.3 321.4,558.4 321.9,558.5 322.4,558.6 322.9,558.8 323.4,558.9 323.9,559.0 324.4,559.1 324.9,559.1 325.4,559.2 325.9,559.3 326.4,559.4 326.9,559.5 327.4,559.6 327.9,559.7 328.4,559.7 328.9,559.8 329.4,559.9 329.9,560.0 330.4,560.0 330.9,560.1 331.4,560.2 331.9,560.2 332.4,560.3 332.9,560.4 333.4,560.4 333.9,560.5 334.4,560.5 334.9,560.6 335.4,560.7 335.9,560.7 336.4,560.8 336.9,560.8 337.4,560.9 337.9,560.9 338.4,561.0 338.9,561.0 339.4,561.0 339.9,561.1 340.4,561.1 340.9,561.2 341.4,561.2 341.9,561.3 342.4,561.3 342.9,561.3 343.4,561.4 343.9,561.4 344.4,561.4 344.9,561.5 345.4,561.5 345.9,561.6 346.4,561.6 346.9,561.6 347.4,561.7 347.9,561.7 348.4,561.7 348.9,561.7 349.4,561.8 349.9,561.8 350.4,561.8 350.9,561.9 351.4,561.9 351.9,561.9 352.4,561.9 352.9,562.0 353.4,562.0 353.9,562.0 354.4,562.1 354.9,562.1 355.4,562.1 355.9,562.1 356.4,562.2 356.9,562.2 357.4,562.2 357.9,562.2 358.4,562.2 358.9,562.3 359.4,562.3 359.9,562.3 360.4,562.3 360.9,562.4 361.4,562.4 361.9,562.4 362.4,562.4 362.9,562.4 363.4,562.5 363.9,562.5 364.4,562.5 364.9,562.5 365.4,562.5 365.9,562.6 366.4,562.6 366.9,562.6 367.4,562.6 367.9,562.6 368.4,562.6 368.9,562.7 369.4,562.7 369.9,562.7 370.4,562.7 370.9,562.7 371.4,562.7 371.9,562.8 372.4,562.8 372.9,562.8 373.4,562.8 373.9,562.8 374.4,562.8 374.9,562.9" fill="none" stroke="#14b0ee" stroke-width="2.0" stroke-linejoin="round"/>
<polyline points="41.9,553.4 42.4,553.4 42.9,553.4 43.4,553.4 43.9,553.4 44.4,553.4 44.9,553.5 45.4,553.5 45.9,553.5 46.4,553.5 46.9,553.6 47.4,553.6 47.9,553.6 48.4,553.6 48.9,553.7 49.4,553.7 49.9,553.7 50.4,553.7 50.9,553.8 51.4,553.8 51.9,553.8 52.4,553.9 52.9,553.9 53.4,553.9 53.9,554.0 54.4,554.0 54.9,554.0 55.4,554.0 55.9,554.1 56.4,554.1 56.9,554.1 57.4,554.2 57.9,554.2 58.4,554.2 58.9,554.3 59.4,554.3 59.9,554.3 60.4,554.4 60.9,554.4 61.4,554.4 61.9,554.5 62.4,554.5 62.9,554.5 63.4,554.6 63.9,554.6 64.4,554.6 64.9,554.6 65.4,554.7 65.9,554.7 66.4,554.7 66.9,554.8 67.4,554.8 67.9,554.8 68.4,554.9 68.9,554.9 69.4,554.9 69.9,555.0 70.4,555.0 70.9,555.0 71.4,555.1 71.9,555.1 72.4,555.1 72.9,555.1 73.4,555.2 73.9,555.2 74.4,555.2 74.9,555.3 75.4,555.3 75.9,555.3 76.4,555.4 76.9,555.4 77.4,555.4 77.9,555.5 78.4,555.5 78.9,555.5 79.4,555.6 79.9,555.6 80.4,555.6 80.9,555.6 81.4,555.7 81.9,555.7 82.4,555.7 82.9,555.8 83.4,555.8 83.9,555.8 84.4,555.9 84.9,555.9 85.4,555.9 85.9,556.0 86.4,556.0 86.9,556.0 87.4,556.1 87.9,556.1 88.4,556.1 88.9,556.2 89.4,556.2 89.9,556.2 90.4,556.2 90.9,556.3 91.4,556.3 91.9,556.3 92.4,556.4 92.9,556.4 93.4,556.4 93.9,556.5 94.4,556.5 94.9,556.5 95.4,556.6 95.9,556.6 96.4,556.6 96.9,556.7 97.4,556.7 97.9,556.7 98.4,556.7 98.9,556.8 99.4,556.8 99.9,556.8 100.4,556.9 100.9,556.9 101.4,556.9 101.9,557.0 102.4,557.0 102.9,557.0 103.4,557.1 103.9,557.1 104.4,557.1 104.9,557.2 105.4,557.2 105.9,557.2 106.4,557.3 106.9,557.3 107.4,557.3 107.9,557.3 108.4,557.4 108.9,557.4 109.4,557.4 109.9,557.5 110.4,557.5 110.9,557.5 111.4,557.6 111.9,557.6 112.4,557.6 112.9,557.7 113.4,557.7 113.9,557.7 114.4,557.8 114.9,557.8 115.4,557.8 115.9,557.8 116.4,557.9 116.9,557.9 117.4,557.9 117.9,558.0 118.4,558.0 118.9,558.0 119.4,558.1 119.9,558.1 120.4,558.1 120.9,558.2 121.4,558.2 121.9,558.2 122.4,558.3 122.9,558.3 123.4,558.3 123.9,558.3 124.4,558.4 124.9,558.4 125.4,558.4 125.9,558.5 126.4,558.5 126.9,558.5 127.4,558.6 127.9,558.6 128.4,558.6 128.9,558.7 129.4,558.7 129.9,558.7 130.4,558.8 130.9,558.8 131.4,558.8 131.9,558.9 132.4,558.9 132.9,558.9 133.4,558.9 133.9,559.0 134.4,559.0 134.9,559.0 135.4,559.1 135.9,559.1 136.4,559.1 136.9,559.2 137.4,559.2 137.9,559.2 138.4,559.3 138.9,559.3 139.4,559.3 139.9,559.4 140.4,559.4 140.9,559.4 141.4,559.4 141.9,559.5 142.4,559.5 142.9,559.5 143.4,559.6 143.9,559.6 144.4,559.6 144.9,559.7 145.4,559.7 145.9,559.7 146.4,559.8 146.9,559.8 147.4,559.8 147.9,559.9 148.4,559.9 148.9,559.9 149.4,560.0 149.9,560.0 150.4,560.0 150.9,560.0 151.4,560.1 151.9,560.1 152.4,560.1 152.9,560.2 153.4,560.2 153.9,560.2 154.4,560.3 154.9,560.3 155.4,560.3 155.9,560.4 156.4,560.4 156.9,560.4 157.4,560.5 157.9,560.5 158.4,560.5 158.9,560.5 159.4,560.6 159.9,560.6 160.4,560.6 160.9,560.7 161.4,560.7 161.9,560.7 162.4,560.8 162.9,560.8 163.4,560.8 163.9,560.9 164.4,560.9 164.9,560.9 165.4,561.0 165.9,561.0 166.4,561.0 166.9,561.0 167.4,561.1 167.9,561.1 168.4,561.1 168.9,561.2 169.4,561.2 169.9,561.2 170.4,561.3 170.9,561.3 171.4,561.3 171.9,561.4 172.4,561.4 172.9,561.4 173.4,561.5 173.9,561.5 174.4,561.5 174.9,561.6 175.4,561.6 175.9,561.6 176.4,561.6 176.9,561.7 177.4,561.7 177.9,561.7 178.4,561.8 178.9,561.8 179.4,561.8 179.9,561.9 180.4,561.9 180.9,561.9 181.4,562.0 181.9,562.0 182.4,562.0 182.9,562.0 183.4,562.1 183.9,562.1 184.4,562.1 184.9,562.2 185.4,562.2 185.9,562.2 186.4,562.2 186.9,562.3 187.4,562.3 187.9,562.3 188.4,562.3 188.9,562.4 189.4,562.4 189.9,562.4 190.4,562.4 190.9,562.4 191.4,562.5 191.9,562.5 192.4,562.5 192.9,562.5 193.4,562.5 193.9,562.6 194.4,562.6 194.9,562.6 195.4,562.6 195.9,562.6 196.4,562.7 196.9,562.7 197.4,562.7 197.9,562.7 198.4,562.7 198.9,562.7 199.4,562.7 199.9,562.8 200.4,562.8 200.9,562.8 201.4,562.8 201.9,562.8 202.4,562.8 202.9,562.8 203.4,562.8 203.9,562.9 204.4,562.9 204.9,562.9 205.4,562.9 205.9,562.9 206.4,562.9 206.9,562.9 207.4,562.9 207.9,563.0 208.4,563.0 208.9,563.0 209.4,563.0 209.9,563.0 210.4,563.0 210.9,563.0 211.4,563.1 211.9,563.1 212.4,563.1 212.9,563.1 213.4,563.1 213.9,563.1 214.4,563.1 214.9,563.1 215.4,563.2 215.9,563.2 216.4,563.2 216.9,563.2 217.4,563.2 217.9,563.2 218.4,563.2 218.9,563.2 219.4,563.3 219.9,563.3 220.4,563.3 220.9,563.3 221.4,563.3 221.9,563.3 222.4,563.3 222.9,563.3 223.4,563.4 223.9,563.4 224.4,563.4 224.9,563.4 225.4,563.4 225.9,563.4 226.4,563.4 226.9,563.4 227.4,563.5 227.9,563.5 228.4,563.5 228.9,563.5 229.4,563.5 229.9,563.5 230.4,563.5 230.9,563.6 231.4,563.6 231.9,563.6 232.4,563.6 232.9,563.6 233.4,563.6 233.9,563.6 234.4,563.6 234.9,563.7 235.4,563.7 235.9,563.7 236.4,563.7 236.9,563.7 237.4,563.7 237.9,563.7 238.4,563.7 238.9,563.8 239.4,563.8 239.9,563.8 240.4,563.8 240.9,563.8 241.4,563.8 241.9,563.8 242.4,563.8 242.9,563.9 243.4,563.9 243.9,563.9 244.4,563.9 244.9,563.9 245.4,563.9 245.9,563.9 246.4,564.0 246.9,564.0 247.4,564.0 247.9,564.0 248.4,564.0 248.9,564.0 249.4,564.0 249.9,564.0 250.4,564.1 250.9,564.1 251.4,564.1 251.9,564.1 252.4,564.1 252.9,564.1 253.4,564.1 253.9,564.1 254.4,564.1 254.9,564.2 255.4,564.2 255.9,564.2 256.4,564.2 256.9,564.2 257.4,564.2 257.9,564.2 258.4,564.2 258.9,564.2 259.4,564.2 259.9,564.2 260.4,564.3 260.9,564.3 261.4,564.3 261.9,564.3 262.4,564.3 262.9,564.3 263.4,564.3 263.9,564.3 264.4,564.3 264.9,564.3 265.4,564.3 265.9,564.3 266.4,564.3 266.9,564.3 267.4,564.3 267.9,564.3 268.4,564.3 268.9,564.4 269.4,564.4 269.9,564.4 270.4,564.4 270.9,564.4 271.4,564.4 271.9,564.4 272.4,564.4 272.9,564.4 273.4,564.4 273.9,564.4 274.4,564.4 274.9,564.4 275.4,564.4 275.9,564.4 276.4,564.4 276.9,564.4 277.4,564.4 277.9,564.4 278.4,564.4 278.9,564.4 279.4,564.4 279.9,564.4 280.4,564.4 280.9,564.4 281.4,564.4 281.9,564.4 282.4,564.4 282.9,564.4 283.4,564.4 283.9,564.4 284.4,564.4 284.9,564.5 285.4,564.5 285.9,564.5 286.4,564.5 286.9,564.5 287.4,564.5 287.9,564.5 288.4,564.5 288.9,564.5 289.4,564.5 289.9,564.5 290.4,564.5 290.9,564.5 291.4,564.5 291.9,564.5 292.4,564.5 292.9,564.5 293.4,564.5 293.9,564.5 294.4,564.5 294.9,564.5 295.4,564.5 295.9,564.5 296.4,564.5 296.9,564.5 297.4,564.5 297.9,564.5 298.4,564.5 298.9,564.5 299.4,564.5 299.9,564.5 300.4,564.5 300.9,564.5 301.4,564.6 301.9,564.6 302.4,564.6 302.9,564.6 303.4,564.6 303.9,564.6 304.4,564.6 304.9,564.6 305.4,564.6 305.9,564.6 306.4,564.6 306.9,564.6 307.4,564.6 307.9,564.6 308.4,564.6 308.9,564.6 309.4,564.6 309.9,564.6 310.4,564.6 310.9,564.6 311.4,564.6 311.9,564.6 312.4,564.6 312.9,564.6 313.4,564.6 313.9,564.6 314.4,564.6 314.9,564.6 315.4,564.6 315.9,564.6 316.4,564.6 316.9,564.6 317.4,564.6 317.9,564.7 318.4,564.7 318.9,564.7 319.4,564.7 319.9,564.7 320.4,564.7 320.9,564.7 321.4,564.7 321.9,564.7 322.4,564.7 322.9,564.7 323.4,564.7 323.9,564.7 324.4,564.7 324.9,564.7 325.4,564.7 325.9,564.7 326.4,564.7 326.9,564.7 327.4,564.7 327.9,564.7 328.4,564.7 328.9,564.7 329.4,564.7 329.9,564.7 330.4,564.7 330.9,564.7 331.4,564.7 331.9,564.7 332.4,564.7 332.9,564.7 333.4,564.7 333.9,564.7 334.4,564.8 334.9,564.8 335.4,564.8 335.9,564.8 336.4,564.8 336.9,564.8 337.4,564.8 337.9,564.8 338.4,564.8 338.9,564.8 339.4,564.8 339.9,564.8 340.4,564.8 340.9,564.8 341.4,564.8 341.9,564.8 342.4,564.8 342.9,564.8 343.4,564.8 343.9,564.8 344.4,564.8 344.9,564.8 345.4,564.8 345.9,564.8 346.4,564.8 346.9,564.8 347.4,564.8 347.9,564.8 348.4,564.8 348.9,564.8 349.4,564.8 349.9,564.8 350.4,564.9 350.9,564.9 351.4,564.9 351.9,564.9 352.4,564.9 352.9,564.9 353.4,564.9 353.9,564.9 354.4,564.9 354.9,564.9 355.4,564.9 355.9,564.9 356.4,564.9 356.9,564.9 357.4,564.9 357.9,564.9 358.4,564.9 358.9,564.9 359.4,564.9 359.9,564.9 360.4,564.9 360.9,564.9 361.4,564.9 361.9,564.9 362.4,564.9 362.9,564.9 363.4,564.9 363.9,564.9 364.4,564.9 364.9,564.9 365.4,564.9 365.9,564.9 366.4,564.9 366.9,564.9 367.4,565.0 367.9,565.0 368.4,565.0 368.9,565.0 369.4,565.0 369.9,565.0 370.4,565.0 370.9,565.0 371.4,565.0 371.9,565.0 372.4,565.0 372.9,565.0 373.4,565.0 373.9,565.0 374.4,565.0 374.9,565.0" fill="none" stroke="#f9c069" stroke-width="1.6" stroke-linejoin="round"/>
<circle cx="41.9" cy="549.5" r="2.05" fill="none" stroke="#b0b0b0" stroke-width="0.9"/>
<circle cx="45.2" cy="550.5" r="2.05" fill="none" stroke="#b0b0b0" stroke-width="0.9"/>
<circle cx="48.6" cy="546.9" r="2.05" fill="none" stroke="#b0b0b0" stroke-width="0.9"/>
<circle cx="51.9" cy="548.7" r="2.05" fill="none" stroke="#b0b0b0" stroke-width="0.9"/>
<circle cx="55.2" cy="551.8" r="2.05" fill="none" stroke="#b0b0b0" stroke-width="0.9"/>
<circle cx="58.5" cy="547.0" r="2.05" fill="none" stroke="#b0b0b0" stroke-width="0.9"/>
<circle cx="61.9" cy="553.0" r="2.05" fill="none" stroke="#b0b0b0" stroke-width="0.9"/>
<circle cx="65.2" cy="548.0" r="2.05" fill="none" stroke="#b0b0b0" stroke-width="0.9"/>
<circle cx="68.5" cy="553.1" r="2.05" fill="none" stroke="#b0b0b0" stroke-width="0.9"/>
<circle cx="71.9" cy="549.9" r="2.05" fill="none" stroke="#b0b0b0" stroke-width="0.9"/>
<circle cx="75.2" cy="553.3" r="2.05" fill="none" stroke="#b0b0b0" stroke-width="0.9"/>
<circle cx="78.5" cy="552.0" r="2.05" fill="none" stroke="#b0b0b0" stroke-width="0.9"/>
<circle cx="81.9" cy="548.8" r="2.05" fill="none" stroke="#b0b0b0" stroke-width="0.9"/>
<circle cx="85.2" cy="554.4" r="2.05" fill="none" stroke="#b0b0b0" stroke-width="0.9"/>
<circle cx="88.5" cy="554.8" r="2.05" fill="none" stroke="#b0b0b0" stroke-width="0.9"/>
<circle cx="91.8" cy="551.7" r="2.05" fill="none" stroke="#b0b0b0" stroke-width="0.9"/>
<circle cx="95.2" cy="551.2" r="2.05" fill="none" stroke="#b0b0b0" stroke-width="0.9"/>
<circle cx="98.5" cy="551.4" r="2.05" fill="none" stroke="#b0b0b0" stroke-width="0.9"/>
<circle cx="101.8" cy="549.6" r="2.05" fill="none" stroke="#b0b0b0" stroke-width="0.9"/>
<circle cx="105.2" cy="553.5" r="2.05" fill="none" stroke="#b0b0b0" stroke-width="0.9"/>
<circle cx="108.5" cy="549.8" r="2.05" fill="none" stroke="#b0b0b0" stroke-width="0.9"/>
<circle cx="111.8" cy="550.4" r="2.05" fill="none" stroke="#b0b0b0" stroke-width="0.9"/>
<circle cx="115.2" cy="548.3" r="2.05" fill="none" stroke="#b0b0b0" stroke-width="0.9"/>
<circle cx="118.5" cy="547.9" r="2.05" fill="none" stroke="#b0b0b0" stroke-width="0.9"/>
<circle cx="121.8" cy="545.7" r="2.05" fill="none" stroke="#b0b0b0" stroke-width="0.9"/>
<circle cx="125.1" cy="549.7" r="2.05" fill="none" stroke="#b0b0b0" stroke-width="0.9"/>
<circle cx="128.5" cy="545.4" r="2.05" fill="none" stroke="#b0b0b0" stroke-width="0.9"/>
<circle cx="131.8" cy="546.0" r="2.05" fill="none" stroke="#b0b0b0" stroke-width="0.9"/>
<circle cx="135.1" cy="542.0" r="2.05" fill="none" stroke="#b0b0b0" stroke-width="0.9"/>
<circle cx="138.5" cy="538.2" r="2.05" fill="none" stroke="#b0b0b0" stroke-width="0.9"/>
<circle cx="141.8" cy="536.1" r="2.05" fill="none" stroke="#b0b0b0" stroke-width="0.9"/>
<circle cx="145.1" cy="532.3" r="2.05" fill="none" stroke="#b0b0b0" stroke-width="0.9"/>
<circle cx="148.5" cy="529.7" r="2.05" fill="none" stroke="#b0b0b0" stroke-width="0.9"/>
<circle cx="151.8" cy="524.6" r="2.05" fill="none" stroke="#b0b0b0" stroke-width="0.9"/>
<circle cx="155.1" cy="519.8" r="2.05" fill="none" stroke="#b0b0b0" stroke-width="0.9"/>
<circle cx="158.4" cy="512.2" r="2.05" fill="none" stroke="#b0b0b0" stroke-width="0.9"/>
<circle cx="161.8" cy="507.3" r="2.05" fill="none" stroke="#b0b0b0" stroke-width="0.9"/>
<circle cx="165.1" cy="505.6" r="2.05" fill="none" stroke="#b0b0b0" stroke-width="0.9"/>
<circle cx="168.4" cy="493.8" r="2.05" fill="none" stroke="#b0b0b0" stroke-width="0.9"/>
<circle cx="171.8" cy="485.3" r="2.05" fill="none" stroke="#b0b0b0" stroke-width="0.9"/>
<circle cx="175.1" cy="480.0" r="2.05" fill="none" stroke="#b0b0b0" stroke-width="0.9"/>
<circle cx="178.4" cy="473.7" r="2.05" fill="none" stroke="#b0b0b0" stroke-width="0.9"/>
<circle cx="181.8" cy="459.2" r="2.05" fill="none" stroke="#b0b0b0" stroke-width="0.9"/>
<circle cx="185.1" cy="452.7" r="2.05" fill="none" stroke="#b0b0b0" stroke-width="0.9"/>
<circle cx="188.4" cy="442.8" r="2.05" fill="none" stroke="#b0b0b0" stroke-width="0.9"/>
<circle cx="191.7" cy="431.4" r="2.05" fill="none" stroke="#b0b0b0" stroke-width="0.9"/>
<circle cx="195.1" cy="427.4" r="2.05" fill="none" stroke="#b0b0b0" stroke-width="0.9"/>
<circle cx="198.4" cy="417.0" r="2.05" fill="none" stroke="#b0b0b0" stroke-width="0.9"/>
<circle cx="201.7" cy="408.6" r="2.05" fill="none" stroke="#b0b0b0" stroke-width="0.9"/>
<circle cx="205.1" cy="398.8" r="2.05" fill="none" stroke="#b0b0b0" stroke-width="0.9"/>
<circle cx="208.4" cy="393.6" r="2.05" fill="none" stroke="#b0b0b0" stroke-width="0.9"/>
<circle cx="211.7" cy="384.5" r="2.05" fill="none" stroke="#b0b0b0" stroke-width="0.9"/>
<circle cx="215.1" cy="378.9" r="2.05" fill="none" stroke="#b0b0b0" stroke-width="0.9"/>
<circle cx="218.4" cy="371.5" r="2.05" fill="none" stroke="#b0b0b0" stroke-width="0.9"/>
<circle cx="221.7" cy="366.7" r="2.05" fill="none" stroke="#b0b0b0" stroke-width="0.9"/>
<circle cx="225.0" cy="368.3" r="2.05" fill="none" stroke="#b0b0b0" stroke-width="0.9"/>
<circle cx="228.4" cy="362.5" r="2.05" fill="none" stroke="#b0b0b0" stroke-width="0.9"/>
<circle cx="231.7" cy="363.4" r="2.05" fill="none" stroke="#b0b0b0" stroke-width="0.9"/>
<circle cx="235.0" cy="363.8" r="2.05" fill="none" stroke="#b0b0b0" stroke-width="0.9"/>
<circle cx="238.4" cy="365.8" r="2.05" fill="none" stroke="#b0b0b0" stroke-width="0.9"/>
<circle cx="241.7" cy="370.6" r="2.05" fill="none" stroke="#b0b0b0" stroke-width="0.9"/>
<circle cx="245.0" cy="380.0" r="2.05" fill="none" stroke="#b0b0b0" stroke-width="0.9"/>
<circle cx="248.4" cy="387.2" r="2.05" fill="none" stroke="#b0b0b0" stroke-width="0.9"/>
<circle cx="251.7" cy="398.5" r="2.05" fill="none" stroke="#b0b0b0" stroke-width="0.9"/>
<circle cx="255.0" cy="411.3" r="2.05" fill="none" stroke="#b0b0b0" stroke-width="0.9"/>
<circle cx="258.3" cy="427.2" r="2.05" fill="none" stroke="#b0b0b0" stroke-width="0.9"/>
<circle cx="261.7" cy="440.3" r="2.05" fill="none" stroke="#b0b0b0" stroke-width="0.9"/>
<circle cx="265.0" cy="453.9" r="2.05" fill="none" stroke="#b0b0b0" stroke-width="0.9"/>
<circle cx="268.3" cy="465.9" r="2.05" fill="none" stroke="#b0b0b0" stroke-width="0.9"/>
<circle cx="271.7" cy="477.4" r="2.05" fill="none" stroke="#b0b0b0" stroke-width="0.9"/>
<circle cx="275.0" cy="494.2" r="2.05" fill="none" stroke="#b0b0b0" stroke-width="0.9"/>
<circle cx="278.3" cy="505.2" r="2.05" fill="none" stroke="#b0b0b0" stroke-width="0.9"/>
<circle cx="281.7" cy="512.7" r="2.05" fill="none" stroke="#b0b0b0" stroke-width="0.9"/>
<circle cx="285.0" cy="522.5" r="2.05" fill="none" stroke="#b0b0b0" stroke-width="0.9"/>
<circle cx="288.3" cy="530.1" r="2.05" fill="none" stroke="#b0b0b0" stroke-width="0.9"/>
<circle cx="291.6" cy="536.2" r="2.05" fill="none" stroke="#b0b0b0" stroke-width="0.9"/>
<circle cx="295.0" cy="541.4" r="2.05" fill="none" stroke="#b0b0b0" stroke-width="0.9"/>
<circle cx="298.3" cy="542.7" r="2.05" fill="none" stroke="#b0b0b0" stroke-width="0.9"/>
<circle cx="301.6" cy="549.9" r="2.05" fill="none" stroke="#b0b0b0" stroke-width="0.9"/>
<circle cx="305.0" cy="547.1" r="2.05" fill="none" stroke="#b0b0b0" stroke-width="0.9"/>
<circle cx="308.3" cy="553.5" r="2.05" fill="none" stroke="#b0b0b0" stroke-width="0.9"/>
<circle cx="311.6" cy="554.5" r="2.05" fill="none" stroke="#b0b0b0" stroke-width="0.9"/>
<circle cx="315.0" cy="556.6" r="2.05" fill="none" stroke="#b0b0b0" stroke-width="0.9"/>
<circle cx="318.3" cy="559.8" r="2.05" fill="none" stroke="#b0b0b0" stroke-width="0.9"/>
<circle cx="321.6" cy="559.9" r="2.05" fill="none" stroke="#b0b0b0" stroke-width="0.9"/>
<circle cx="324.9" cy="555.4" r="2.05" fill="none" stroke="#b0b0b0" stroke-width="0.9"/>
<circle cx="328.3" cy="555.0" r="2.05" fill="none" stroke="#b0b0b0" stroke-width="0.9"/>
<circle cx="331.6" cy="560.5" r="2.05" fill="none" stroke="#b0b0b0" stroke-width="0.9"/>
<circle cx="334.9" cy="557.3" r="2.05" fill="none" stroke="#b0b0b0" stroke-width="0.9"/>
<circle cx="338.3" cy="559.7" r="2.05" fill="none" stroke="#b0b0b0" stroke-width="0.9"/>
<circle cx="341.6" cy="561.7" r="2.05" fill="none" stroke="#b0b0b0" stroke-width="0.9"/>
<circle cx="344.9" cy="557.0" r="2.05" fill="none" stroke="#b0b0b0" stroke-width="0.9"/>
<circle cx="348.3" cy="556.3" r="2.05" fill="none" stroke="#b0b0b0" stroke-width="0.9"/>
<circle cx="351.6" cy="561.3" r="2.05" fill="none" stroke="#b0b0b0" stroke-width="0.9"/>
<circle cx="354.9" cy="561.0" r="2.05" fill="none" stroke="#b0b0b0" stroke-width="0.9"/>
<circle cx="358.2" cy="560.6" r="2.05" fill="none" stroke="#b0b0b0" stroke-width="0.9"/>
<circle cx="361.6" cy="561.4" r="2.05" fill="none" stroke="#b0b0b0" stroke-width="0.9"/>
<circle cx="364.9" cy="559.7" r="2.05" fill="none" stroke="#b0b0b0" stroke-width="0.9"/>
<circle cx="368.2" cy="558.6" r="2.05" fill="none" stroke="#b0b0b0" stroke-width="0.9"/>
<circle cx="371.6" cy="561.4" r="2.05" fill="none" stroke="#b0b0b0" stroke-width="0.9"/>
<circle cx="374.9" cy="559.9" r="2.05" fill="none" stroke="#b0b0b0" stroke-width="0.9"/>
<polyline points="41.9,551.5 42.4,551.5 42.9,551.5 43.4,551.5 43.9,551.5 44.4,551.6 44.9,551.6 45.4,551.6 45.9,551.6 46.4,551.6 46.9,551.6 47.4,551.6 47.9,551.6 48.4,551.6 48.9,551.7 49.4,551.7 49.9,551.7 50.4,551.7 50.9,551.7 51.4,551.7 51.9,551.8 52.4,551.8 52.9,551.8 53.4,551.8 53.9,551.8 54.4,551.9 54.9,551.9 55.4,551.9 55.9,551.9 56.4,551.9 56.9,552.0 57.4,552.0 57.9,552.0 58.4,552.0 58.9,552.0 59.4,552.0 59.9,552.1 60.4,552.1 60.9,552.1 61.4,552.1 61.9,552.1 62.4,552.2 62.9,552.2 63.4,552.2 63.9,552.2 64.4,552.2 64.9,552.2 65.4,552.2 65.9,552.3 66.4,552.3 66.9,552.3 67.4,552.3 67.9,552.3 68.4,552.3 68.9,552.4 69.4,552.4 69.9,552.4 70.4,552.4 70.9,552.4 71.4,552.4 71.9,552.4 72.4,552.5 72.9,552.5 73.4,552.5 73.9,552.5 74.4,552.5 74.9,552.5 75.4,552.5 75.9,552.5 76.4,552.5 76.9,552.6 77.4,552.6 77.9,552.6 78.4,552.6 78.9,552.6 79.4,552.6 79.9,552.6 80.4,552.6 80.9,552.6 81.4,552.6 81.9,552.6 82.4,552.6 82.9,552.6 83.4,552.7 83.9,552.7 84.4,552.7 84.9,552.7 85.4,552.7 85.9,552.7 86.4,552.7 86.9,552.7 87.4,552.7 87.9,552.7 88.4,552.7 88.9,552.7 89.4,552.7 89.9,552.7 90.4,552.7 90.9,552.7 91.4,552.7 91.9,552.6 92.4,552.6 92.9,552.6 93.4,552.6 93.9,552.6 94.4,552.6 94.9,552.6 95.4,552.6 95.9,552.6 96.4,552.5 96.9,552.5 97.4,552.5 97.9,552.5 98.4,552.5 98.9,552.5 99.4,552.4 99.9,552.4 100.4,552.4 100.9,552.4 101.4,552.3 101.9,552.3 102.4,552.3 102.9,552.2 103.4,552.2 103.9,552.2 104.4,552.1 104.9,552.1 105.4,552.0 105.9,552.0 106.4,552.0 106.9,551.9 107.4,551.9 107.9,551.8 108.4,551.7 108.9,551.7 109.4,551.6 109.9,551.6 110.4,551.5 110.9,551.4 111.4,551.4 111.9,551.3 112.4,551.2 112.9,551.1 113.4,551.0 113.9,551.0 114.4,550.9 114.9,550.8 115.4,550.7 115.9,550.6 116.4,550.5 116.9,550.4 117.4,550.3 117.9,550.1 118.4,550.0 118.9,549.9 119.4,549.8 119.9,549.6 120.4,549.5 120.9,549.4 121.4,549.2 121.9,549.1 122.4,548.9 122.9,548.7 123.4,548.6 123.9,548.4 124.4,548.2 124.9,548.0 125.4,547.8 125.9,547.7 126.4,547.5 126.9,547.2 127.4,547.0 127.9,546.8 128.4,546.6 128.9,546.4 129.4,546.1 129.9,545.9 130.4,545.6 130.9,545.3 131.4,545.1 131.9,544.8 132.4,544.5 132.9,544.2 133.4,543.9 133.9,543.6 134.4,543.3 134.9,543.0 135.4,542.6 135.9,542.3 136.4,542.0 136.9,541.6 137.4,541.2 137.9,540.9 138.4,540.5 138.9,540.1 139.4,539.7 139.9,539.2 140.4,538.8 140.9,538.4 141.4,537.9 141.9,537.5 142.4,537.0 142.9,536.5 143.4,536.0 143.9,535.5 144.4,535.0 144.9,534.5 145.4,534.0 145.9,533.4 146.4,532.9 146.9,532.3 147.4,531.7 147.9,531.1 148.4,530.5 148.9,529.9 149.4,529.3 149.9,528.6 150.4,528.0 150.9,527.3 151.4,526.6 151.9,526.0 152.4,525.3 152.9,524.5 153.4,523.8 153.9,523.1 154.4,522.3 154.9,521.5 155.4,520.8 155.9,520.0 156.4,519.2 156.9,518.3 157.4,517.5 157.9,516.7 158.4,515.8 158.9,514.9 159.4,514.1 159.9,513.2 160.4,512.3 160.9,511.3 161.4,510.4 161.9,509.4 162.4,508.5 162.9,507.5 163.4,506.5 163.9,505.5 164.4,504.5 164.9,503.5 165.4,502.5 165.9,501.4 166.4,500.3 166.9,499.3 167.4,498.2 167.9,497.1 168.4,496.0 168.9,494.9 169.4,493.7 169.9,492.6 170.4,491.5 170.9,490.3 171.4,489.1 171.9,487.9 172.4,486.7 172.9,485.5 173.4,484.3 173.9,483.1 174.4,481.9 174.9,480.7 175.4,479.4 175.9,478.2 176.4,476.9 176.9,475.6 177.4,474.3 177.9,473.1 178.4,471.8 178.9,470.5 179.4,469.2 179.9,467.9 180.4,466.5 180.9,465.2 181.4,463.9 181.9,462.6 182.4,461.2 182.9,459.9 183.4,458.5 183.9,457.2 184.4,455.8 184.9,454.5 185.4,453.1 185.9,451.8 186.4,450.4 186.9,449.0 187.4,447.7 187.9,446.3 188.4,444.9 188.9,443.6 189.4,442.2 189.9,440.8 190.4,439.4 190.9,438.1 191.4,436.7 191.9,435.3 192.4,434.0 192.9,432.6 193.4,431.3 193.9,429.9 194.4,428.6 194.9,427.2 195.4,425.9 195.9,424.5 196.4,423.2 196.9,421.9 197.4,420.5 197.9,419.2 198.4,417.9 198.9,416.6 199.4,415.3 199.9,414.0 200.4,412.7 200.9,411.4 201.4,410.2 201.9,408.9 202.4,407.7 202.9,406.4 203.4,405.2 203.9,404.0 204.4,402.7 204.9,401.5 205.4,400.3 205.9,399.2 206.4,398.0 206.9,396.8 207.4,395.7 207.9,394.6 208.4,393.5 208.9,392.4 209.4,391.3 209.9,390.2 210.4,389.1 210.9,388.1 211.4,387.1 211.9,386.0 212.4,385.0 212.9,384.1 213.4,383.1 213.9,382.1 214.4,381.2 214.9,380.3 215.4,379.4 215.9,378.5 216.4,377.7 216.9,376.9 217.4,376.0 217.9,375.2 218.4,374.5 218.9,373.7 219.4,373.0 219.9,372.3 220.4,371.6 220.9,371.0 221.4,370.3 221.9,369.7 222.4,369.1 222.9,368.6 223.4,368.0 223.9,367.5 224.4,367.1 224.9,366.6 225.4,366.2 225.9,365.8 226.4,365.4 226.9,365.1 227.4,364.8 227.9,364.5 228.4,364.3 228.9,364.1 229.4,363.9 229.9,363.8 230.4,363.7 230.9,363.6 231.4,363.6 231.9,363.6 232.4,363.7 232.9,363.8 233.4,363.9 233.9,364.1 234.4,364.3 234.9,364.6 235.4,364.8 235.9,365.2 236.4,365.6 236.9,366.0 237.4,366.5 237.9,367.0 238.4,367.6 238.9,368.2 239.4,368.8 239.9,369.5 240.4,370.3 240.9,371.1 241.4,371.9 241.9,372.8 242.4,373.7 242.9,374.7 243.4,375.8 243.9,376.9 244.4,378.0 244.9,379.2 245.4,380.4 245.9,381.7 246.4,383.0 246.9,384.4 247.4,385.8 247.9,387.2 248.4,388.7 248.9,390.3 249.4,391.8 249.9,393.5 250.4,395.1 250.9,396.8 251.4,398.6 251.9,400.3 252.4,402.1 252.9,404.0 253.4,405.8 253.9,407.7 254.4,409.6 254.9,411.6 255.4,413.6 255.9,415.6 256.4,417.6 256.9,419.6 257.4,421.7 257.9,423.7 258.4,425.8 258.9,427.9 259.4,430.0 259.9,432.1 260.4,434.3 260.9,436.4 261.4,438.5 261.9,440.7 262.4,442.8 262.9,444.9 263.4,447.1 263.9,449.2 264.4,451.3 264.9,453.5 265.4,455.6 265.9,457.7 266.4,459.8 266.9,461.9 267.4,463.9 267.9,466.0 268.4,468.0 268.9,470.1 269.4,472.1 269.9,474.1 270.4,476.0 270.9,478.0 271.4,479.9 271.9,481.8 272.4,483.7 272.9,485.6 273.4,487.4 273.9,489.2 274.4,491.0 274.9,492.8 275.4,494.5 275.9,496.2 276.4,497.9 276.9,499.5 277.4,501.1 277.9,502.7 278.4,504.3 278.9,505.8 279.4,507.4 279.9,508.8 280.4,510.3 280.9,511.7 281.4,513.1 281.9,514.4 282.4,515.8 282.9,517.1 283.4,518.4 283.9,519.6 284.4,520.8 284.9,522.0 285.4,523.2 285.9,524.3 286.4,525.4 286.9,526.5 287.4,527.5 287.9,528.5 288.4,529.5 288.9,530.5 289.4,531.4 289.9,532.3 290.4,533.2 290.9,534.1 291.4,535.0 291.9,535.8 292.4,536.6 292.9,537.3 293.4,538.1 293.9,538.8 294.4,539.5 294.9,540.2 295.4,540.9 295.9,541.5 296.4,542.2 296.9,542.8 297.4,543.4 297.9,543.9 298.4,544.5 298.9,545.0 299.4,545.6 299.9,546.1 300.4,546.5 300.9,547.0 301.4,547.5 301.9,547.9 302.4,548.4 302.9,548.8 303.4,549.2 303.9,549.6 304.4,550.0 304.9,550.3 305.4,550.7 305.9,551.0 306.4,551.4 306.9,551.7 307.4,552.0 307.9,552.3 308.4,552.6 308.9,552.9 309.4,553.1 309.9,553.4 310.4,553.7 310.9,553.9 311.4,554.2 311.9,554.4 312.4,554.6 312.9,554.8 313.4,555.1 313.9,555.3 314.4,555.5 314.9,555.7 315.4,555.8 315.9,556.0 316.4,556.2 316.9,556.4 317.4,556.5 317.9,556.7 318.4,556.9 318.9,557.0 319.4,557.2 319.9,557.3 320.4,557.4 320.9,557.6 321.4,557.7 321.9,557.8 322.4,557.9 322.9,558.1 323.4,558.2 323.9,558.3 324.4,558.4 324.9,558.5 325.4,558.6 325.9,558.7 326.4,558.8 326.9,558.9 327.4,559.0 327.9,559.1 328.4,559.2 328.9,559.3 329.4,559.3 329.9,559.4 330.4,559.5 330.9,559.6 331.4,559.6 331.9,559.7 332.4,559.8 332.9,559.9 333.4,559.9 333.9,560.0 334.4,560.0 334.9,560.1 335.4,560.2 335.9,560.2 336.4,560.3 336.9,560.3 337.4,560.4 337.9,560.5 338.4,560.5 338.9,560.6 339.4,560.6 339.9,560.7 340.4,560.7 340.9,560.7 341.4,560.8 341.9,560.8 342.4,560.9 342.9,560.9 343.4,561.0 343.9,561.0 344.4,561.1 344.9,561.1 345.4,561.1 345.9,561.2 346.4,561.2 346.9,561.2 347.4,561.3 347.9,561.3 348.4,561.3 348.9,561.4 349.4,561.4 349.9,561.4 350.4,561.5 350.9,561.5 351.4,561.5 351.9,561.6 352.4,561.6 352.9,561.6 353.4,561.7 353.9,561.7 354.4,561.7 354.9,561.8 355.4,561.8 355.9,561.8 356.4,561.8 356.9,561.9 357.4,561.9 357.9,561.9 358.4,561.9 358.9,562.0 359.4,562.0 359.9,562.0 360.4,562.0 360.9,562.1 361.4,562.1 361.9,562.1 362.4,562.1 362.9,562.2 363.4,562.2 363.9,562.2 364.4,562.2 364.9,562.2 365.4,562.3 365.9,562.3 366.4,562.3 366.9,562.3 367.4,562.3 367.9,562.4 368.4,562.4 368.9,562.4 369.4,562.4 369.9,562.4 370.4,562.5 370.9,562.5 371.4,562.5 371.9,562.5 372.4,562.5 372.9,562.6 373.4,562.6 373.9,562.6 374.4,562.6 374.9,562.6" fill="none" stroke="#fbc46a" stroke-width="1.6" stroke-linejoin="round"/>
<rect x="41.9" y="328.45" width="333.1" height="268.25000000000006" fill="none" stroke="#727272" stroke-width="1.9"/>
<text x="41.90" y="611.0" text-anchor="middle" font-size="11.5" font-weight="bold">538</text>
<line x1="75.21" y1="596.7" x2="75.21" y2="594.0" stroke="#333" stroke-width="1.4"/>
<line x1="108.52" y1="596.7" x2="108.52" y2="591.3000000000001" stroke="#333" stroke-width="1.4"/>
<text x="108.52" y="611.0" text-anchor="middle" font-size="11.5" font-weight="bold">536</text>
<line x1="141.83" y1="596.7" x2="141.83" y2="594.0" stroke="#333" stroke-width="1.4"/>
<line x1="175.14" y1="596.7" x2="175.14" y2="591.3000000000001" stroke="#333" stroke-width="1.4"/>
<text x="175.14" y="611.0" text-anchor="middle" font-size="11.5" font-weight="bold">534</text>
<line x1="208.45" y1="596.7" x2="208.45" y2="594.0" stroke="#333" stroke-width="1.4"/>
<line x1="241.76" y1="596.7" x2="241.76" y2="591.3000000000001" stroke="#333" stroke-width="1.4"/>
<text x="241.76" y="611.0" text-anchor="middle" font-size="11.5" font-weight="bold">532</text>
<line x1="275.07" y1="596.7" x2="275.07" y2="594.0" stroke="#333" stroke-width="1.4"/>
<line x1="308.38" y1="596.7" x2="308.38" y2="591.3000000000001" stroke="#333" stroke-width="1.4"/>
<text x="308.38" y="611.0" text-anchor="middle" font-size="11.5" font-weight="bold">530</text>
<line x1="341.69" y1="596.7" x2="341.69" y2="594.0" stroke="#333" stroke-width="1.4"/>
<text x="375.00" y="611.0" text-anchor="middle" font-size="11.5" font-weight="bold">528</text>
<text x="370" y="347.5" text-anchor="end" font-size="14.5" font-weight="bold">O 1s</text>
<text x="154.3" y="391.6" text-anchor="middle" font-size="15" font-weight="bold">C-O/S-O</text>
<text x="154.3" y="410.6" text-anchor="middle" font-size="15" font-weight="bold">532.7</text>
<line x1="176.2" y1="398.5" x2="216.7" y2="401.3" stroke="#111" stroke-width="1.5"/>
<text x="303" y="467.9" text-anchor="middle" font-size="15" font-weight="bold">C=O</text>
<text x="303" y="486.9" text-anchor="middle" font-size="15" font-weight="bold">531.8</text>
<line x1="283.7" y1="476.7" x2="247.6" y2="493.8" stroke="#111" stroke-width="1.5"/>
<text transform="translate(33,461.7) rotate(-90)" text-anchor="middle" font-size="18.7" font-weight="bold"><tspan font-style="italic">Intensity</tspan> / a.u.</text>
<text x="209.8" y="629.5" text-anchor="middle" font-size="18.7" font-weight="bold"><tspan font-style="italic">Binding Energy</tspan> / eV</text>
<text x="2.6" y="347.9" font-size="21" font-weight="bold" letter-spacing="1.3">(c)</text>
<polyline points="430.2,574.1 430.7,574.1 431.2,574.1 431.7,574.1 432.2,574.1 432.7,574.0 433.2,574.0 433.7,574.0 434.2,574.0 434.7,574.0 435.2,574.0 435.7,574.0 436.2,574.0 436.7,574.0 437.2,573.9 437.7,573.9 438.2,573.9 438.7,573.9 439.2,573.9 439.7,573.9 440.2,573.9 440.7,573.9 441.2,573.9 441.7,573.9 442.2,573.8 442.7,573.8 443.2,573.8 443.7,573.8 444.2,573.8 444.7,573.8 445.2,573.8 445.7,573.8 446.2,573.8 446.7,573.7 447.2,573.7 447.7,573.7 448.2,573.7 448.7,573.7 449.2,573.7 449.7,573.7 450.2,573.7 450.7,573.7 451.2,573.6 451.7,573.6 452.2,573.6 452.7,573.6 453.2,573.6 453.7,573.6 454.2,573.6 454.7,573.6 455.2,573.6 455.7,573.5 456.2,573.5 456.7,573.5 457.2,573.5 457.7,573.5 458.2,573.5 458.7,573.5 459.2,573.5 459.7,573.5 460.2,573.4 460.7,573.4 461.2,573.4 461.7,573.4 462.2,573.4 462.7,573.4 463.2,573.4 463.7,573.4 464.2,573.4 464.7,573.4 465.2,573.3 465.7,573.3 466.2,573.3 466.7,573.3 467.2,573.3 467.7,573.3 468.2,573.3 468.7,573.3 469.2,573.3 469.7,573.2 470.2,573.2 470.7,573.2 471.2,573.2 471.7,573.2 472.2,573.2 472.7,573.2 473.2,573.2 473.7,573.2 474.2,573.1 474.7,573.1 475.2,573.1 475.7,573.1 476.2,573.1 476.7,573.1 477.2,573.1 477.7,573.1 478.2,573.1 478.7,573.0 479.2,573.0 479.7,573.0 480.2,573.0 480.7,573.0 481.2,573.0 481.7,573.0 482.2,573.0 482.7,573.0 483.2,572.9 483.7,572.9 484.2,572.9 484.7,572.9 485.2,572.9 485.7,572.9 486.2,572.9 486.7,572.9 487.2,572.9 487.7,572.8 488.2,572.8 488.7,572.8 489.2,572.8 489.7,572.8 490.2,572.8 490.7,572.8 491.2,572.8 491.7,572.8 492.2,572.8 492.7,572.7 493.2,572.7 493.7,572.7 494.2,572.7 494.7,572.7 495.2,572.7 495.7,572.7 496.2,572.7 496.7,572.7 497.2,572.7 497.7,572.6 498.2,572.6 498.7,572.6 499.2,572.6 499.7,572.6 500.2,572.6 500.7,572.6 501.2,572.6 501.7,572.6 502.2,572.5 502.7,572.5 503.2,572.5 503.7,572.5 504.2,572.5 504.7,572.5 505.2,572.5 505.7,572.5 506.2,572.5 506.7,572.5 507.2,572.4 507.7,572.4 508.2,572.4 508.7,572.4 509.2,572.4 509.7,572.4 510.2,572.4 510.7,572.4 511.2,572.4 511.7,572.4 512.2,572.3 512.7,572.3 513.2,572.3 513.7,572.3 514.2,572.3 514.7,572.3 515.2,572.3 515.7,572.3 516.2,572.3 516.7,572.3 517.2,572.2 517.7,572.2 518.2,572.2 518.7,572.2 519.2,572.2 519.7,572.2 520.2,572.2 520.7,572.2 521.2,572.2 521.7,572.1 522.2,572.1 522.7,572.1 523.2,572.1 523.7,572.1 524.2,572.1 524.7,572.1 525.2,572.1 525.7,572.1 526.2,572.1 526.7,572.0 527.2,572.0 527.7,572.0 528.2,572.0 528.7,572.0 529.2,572.0 529.7,572.0 530.2,572.0 530.7,572.0 531.2,572.0 531.7,571.9 532.2,571.9 532.7,571.9 533.2,571.9 533.7,571.9 534.2,571.9 534.7,571.9 535.2,571.9 535.7,571.9 536.2,571.8 536.7,571.8 537.2,571.8 537.7,571.8 538.2,571.8 538.7,571.8 539.2,571.8 539.7,571.8 540.2,571.8 540.7,571.8 541.2,571.7 541.7,571.7 542.2,571.7 542.7,571.7 543.2,571.7 543.7,571.7 544.2,571.7 544.7,571.7 545.2,571.7 545.7,571.7 546.2,571.6 546.7,571.6 547.2,571.6 547.7,571.6 548.2,571.6 548.7,571.6 549.2,571.6 549.7,571.6 550.2,571.6 550.7,571.6 551.2,571.5 551.7,571.5 552.2,571.5 552.7,571.5 553.2,571.5 553.7,571.5 554.2,571.5 554.7,571.5 555.2,571.5 555.7,571.4 556.2,571.4 556.7,571.4 557.2,571.4 557.7,571.4 558.2,571.4 558.7,571.4 559.2,571.4 559.7,571.4 560.2,571.4 560.7,571.3 561.2,571.3 561.7,571.3 562.2,571.3 562.7,571.3 563.2,571.3 563.7,571.3 564.2,571.3 564.7,571.3 565.2,571.3 565.7,571.2 566.2,571.2 566.7,571.2 567.2,571.2 567.7,571.2 568.2,571.2 568.7,571.2 569.2,571.2 569.7,571.2 570.2,571.1 570.7,571.1 571.2,571.1 571.7,571.1 572.2,571.1 572.7,571.1 573.2,571.1 573.7,571.1 574.2,571.1 574.7,571.1 575.2,571.0 575.7,571.0 576.2,571.0 576.7,571.0 577.2,571.0 577.7,571.0 578.2,571.0 578.7,571.0 579.2,571.0 579.7,571.0 580.2,570.9 580.7,570.9 581.2,570.9 581.7,570.9 582.2,570.9 582.7,570.9 583.2,570.9 583.7,570.9 584.2,570.9 584.7,570.9 585.2,570.8 585.7,570.8 586.2,570.8 586.7,570.8 587.2,570.8 587.7,570.8 588.2,570.8 588.7,570.8 589.2,570.8 589.7,570.7 590.2,570.7 590.7,570.7 591.2,570.7 591.7,570.7 592.2,570.7 592.7,570.7 593.2,570.7 593.7,570.7 594.2,570.7 594.7,570.6 595.2,570.6 595.7,570.6 596.2,570.6 596.7,570.6 597.2,570.6 597.7,570.6 598.2,570.6 598.7,570.6 599.2,570.6 599.7,570.5 600.2,570.5 600.7,570.5 601.2,570.5 601.7,570.5 602.2,570.5 602.7,570.5 603.2,570.5 603.7,570.5 604.2,570.4 604.7,570.4 605.2,570.4 605.7,570.4 606.2,570.4 606.7,570.4 607.2,570.4 607.7,570.4 608.2,570.4 608.7,570.4 609.2,570.3 609.7,570.3 610.2,570.3 610.7,570.3 611.2,570.3 611.7,570.3 612.2,570.3 612.7,570.3 613.2,570.3 613.7,570.3 614.2,570.2 614.7,570.2 615.2,570.2 615.7,570.2 616.2,570.2 616.7,570.2 617.2,570.2 617.7,570.2 618.2,570.2 618.7,570.2 619.2,570.1 619.7,570.1 620.2,570.1 620.7,570.1 621.2,570.1 621.7,570.1 622.2,570.1 622.7,570.1 623.2,570.1 623.7,570.0 624.2,570.0 624.7,570.0 625.2,570.0 625.7,570.0 626.2,570.0 626.7,570.0 627.2,570.0 627.7,570.0 628.2,570.0 628.7,569.9 629.2,569.9 629.7,569.9 630.2,569.9 630.7,569.9 631.2,569.9 631.7,569.9 632.2,569.9 632.7,569.9 633.2,569.9 633.7,569.8 634.2,569.8 634.7,569.8 635.2,569.8 635.7,569.8 636.2,569.8 636.7,569.8 637.2,569.8 637.7,569.8 638.2,569.7 638.7,569.7 639.2,569.7 639.7,569.7 640.2,569.7 640.7,569.7 641.2,569.7 641.7,569.7 642.2,569.7 642.7,569.7 643.2,569.6 643.7,569.6 644.2,569.6 644.7,569.6 645.2,569.6 645.7,569.6 646.2,569.6 646.7,569.6 647.2,569.6 647.7,569.6 648.2,569.5 648.7,569.5 649.2,569.5 649.7,569.5 650.2,569.5 650.7,569.5 651.2,569.5 651.7,569.5 652.2,569.5 652.7,569.5 653.2,569.4 653.7,569.4 654.2,569.4 654.7,569.4 655.2,569.4 655.7,569.4 656.2,569.4 656.7,569.4 657.2,569.4 657.7,569.3 658.2,569.3 658.7,569.3 659.2,569.3 659.7,569.3 660.2,569.3 660.7,569.3 661.2,569.3 661.7,569.3 662.2,569.3 662.7,569.3 663.2,569.3 663.7,569.3 664.2,569.3 664.7,569.3 665.2,569.2 665.7,569.2 666.2,569.2 666.7,569.2 667.2,569.2 667.7,569.2 668.2,569.2 668.7,569.2 669.2,569.2 669.7,569.2 670.2,569.2 670.7,569.2 671.2,569.2 671.7,569.2 672.2,569.2 672.7,569.2 673.2,569.2 673.7,569.2 674.2,569.2 674.7,569.2 675.2,569.1 675.7,569.1 676.2,569.1 676.7,569.1 677.2,569.1 677.7,569.1 678.2,569.1 678.7,569.1 679.2,569.1 679.7,569.1 680.2,569.1 680.7,569.1 681.2,569.1 681.7,569.1 682.2,569.1 682.7,569.1 683.2,569.1 683.7,569.1 684.2,569.1 684.7,569.1 685.2,569.0 685.7,569.0 686.2,569.0 686.7,569.0 687.2,569.0 687.7,569.0 688.2,569.0 688.7,569.0 689.2,569.0 689.7,569.0 690.2,569.0 690.7,569.0 691.2,569.0 691.7,569.0 692.2,569.0 692.7,569.0 693.2,569.0 693.7,569.0 694.2,569.0 694.7,569.0 695.2,568.9 695.7,568.9 696.2,568.9 696.7,568.9 697.2,568.9 697.7,568.9 698.2,568.9 698.7,568.9 699.2,568.9 699.7,568.9 700.2,568.9 700.7,568.9 701.2,568.9 701.7,568.9 702.2,568.9 702.7,568.9 703.2,568.9 703.7,568.9 704.2,568.9 704.7,568.9 705.2,568.8 705.7,568.8 706.2,568.8 706.7,568.8 707.2,568.8 707.7,568.8 708.2,568.8 708.7,568.8 709.2,568.8 709.7,568.8 710.2,568.8 710.7,568.8 711.2,568.8 711.7,568.8 712.2,568.8 712.7,568.8 713.2,568.8 713.7,568.8 714.2,568.8 714.7,568.8 715.2,568.7 715.7,568.7 716.2,568.7 716.7,568.7 717.2,568.7 717.7,568.7 718.2,568.7 718.7,568.7 719.2,568.7 719.7,568.7 720.2,568.7 720.7,568.7 721.2,568.7 721.7,568.7 722.2,568.7 722.7,568.7 723.2,568.7 723.7,568.7 724.2,568.7 724.7,568.6 725.2,568.6 725.7,568.6 726.2,568.6 726.7,568.6 727.2,568.6 727.7,568.6 728.2,568.6 728.7,568.6 729.2,568.6 729.7,568.6 730.2,568.6 730.7,568.6 731.2,568.6 731.7,568.6 732.2,568.6 732.7,568.6 733.2,568.6 733.7,568.6 734.2,568.6 734.7,568.5 735.2,568.5 735.7,568.5 736.2,568.5 736.7,568.5 737.2,568.5 737.7,568.5 738.2,568.5 738.7,568.5 739.2,568.5 739.7,568.5 740.2,568.5 740.7,568.5 741.2,568.5 741.7,568.5 742.2,568.5 742.7,568.5 743.2,568.5 743.7,568.5 744.2,568.5 744.7,568.4 745.2,568.4 745.7,568.4 746.2,568.4 746.7,568.4 747.2,568.4 747.7,568.4 748.2,568.4 748.7,568.4 749.2,568.4 749.7,568.4 750.2,568.4 750.7,568.4 751.2,568.4 751.7,568.4 752.2,568.4 752.7,568.4 753.2,568.4 753.7,568.4 754.2,568.4 754.7,568.3 755.2,568.3 755.7,568.3 756.2,568.3 756.7,568.3 757.2,568.3 757.7,568.3 758.2,568.3 758.7,568.3 759.2,568.3" fill="none" stroke="#f9c069" stroke-width="1.5" stroke-linejoin="round"/>
<circle cx="429.7" cy="581.1" r="2.05" fill="none" stroke="#b0b0b0" stroke-width="0.9"/>
<circle cx="432.4" cy="540.7" r="2.05" fill="none" stroke="#b0b0b0" stroke-width="0.9"/>
<circle cx="446.3" cy="499.9" r="2.05" fill="none" stroke="#b0b0b0" stroke-width="0.9"/>
<circle cx="451.9" cy="587.0" r="2.05" fill="none" stroke="#b0b0b0" stroke-width="0.9"/>
<circle cx="457.4" cy="523.3" r="2.05" fill="none" stroke="#b0b0b0" stroke-width="0.9"/>
<circle cx="471.3" cy="563.9" r="2.05" fill="none" stroke="#b0b0b0" stroke-width="0.9"/>
<circle cx="476.8" cy="534.8" r="2.05" fill="none" stroke="#b0b0b0" stroke-width="0.9"/>
<circle cx="479.6" cy="563.9" r="2.05" fill="none" stroke="#b0b0b0" stroke-width="0.9"/>
<circle cx="490.7" cy="552.3" r="2.05" fill="none" stroke="#b0b0b0" stroke-width="0.9"/>
<circle cx="493.5" cy="563.9" r="2.05" fill="none" stroke="#b0b0b0" stroke-width="0.9"/>
<circle cx="499.0" cy="569.5" r="2.05" fill="none" stroke="#b0b0b0" stroke-width="0.9"/>
<circle cx="507.4" cy="511.7" r="2.05" fill="none" stroke="#b0b0b0" stroke-width="0.9"/>
<circle cx="510.1" cy="523.3" r="2.05" fill="none" stroke="#b0b0b0" stroke-width="0.9"/>
<circle cx="512.9" cy="581.3" r="2.05" fill="none" stroke="#b0b0b0" stroke-width="0.9"/>
<circle cx="515.7" cy="563.9" r="2.05" fill="none" stroke="#b0b0b0" stroke-width="0.9"/>
<circle cx="518.5" cy="569.5" r="2.05" fill="none" stroke="#b0b0b0" stroke-width="0.9"/>
<circle cx="521.2" cy="470.9" r="2.05" fill="none" stroke="#b0b0b0" stroke-width="0.9"/>
<circle cx="529.6" cy="476.8" r="2.05" fill="none" stroke="#b0b0b0" stroke-width="0.9"/>
<circle cx="532.4" cy="464.8" r="2.05" fill="none" stroke="#b0b0b0" stroke-width="0.9"/>
<circle cx="535.1" cy="505.8" r="2.05" fill="none" stroke="#b0b0b0" stroke-width="0.9"/>
<circle cx="540.7" cy="563.9" r="2.05" fill="none" stroke="#b0b0b0" stroke-width="0.9"/>
<circle cx="543.5" cy="401.5" r="2.05" fill="none" stroke="#b0b0b0" stroke-width="0.9"/>
<circle cx="546.2" cy="523.3" r="2.05" fill="none" stroke="#b0b0b0" stroke-width="0.9"/>
<circle cx="549.0" cy="349.2" r="2.05" fill="none" stroke="#b0b0b0" stroke-width="0.9"/>
<circle cx="551.8" cy="430.4" r="2.05" fill="none" stroke="#b0b0b0" stroke-width="0.9"/>
<circle cx="554.5" cy="470.2" r="2.05" fill="none" stroke="#b0b0b0" stroke-width="0.9"/>
<circle cx="557.3" cy="401.4" r="2.05" fill="none" stroke="#b0b0b0" stroke-width="0.9"/>
<circle cx="560.1" cy="447.8" r="2.05" fill="none" stroke="#b0b0b0" stroke-width="0.9"/>
<circle cx="562.9" cy="383.7" r="2.05" fill="none" stroke="#b0b0b0" stroke-width="0.9"/>
<circle cx="565.6" cy="389.6" r="2.05" fill="none" stroke="#b0b0b0" stroke-width="0.9"/>
<circle cx="571.2" cy="395.5" r="2.05" fill="none" stroke="#b0b0b0" stroke-width="0.9"/>
<circle cx="574.0" cy="360.5" r="2.05" fill="none" stroke="#b0b0b0" stroke-width="0.9"/>
<circle cx="576.8" cy="494.3" r="2.05" fill="none" stroke="#b0b0b0" stroke-width="0.9"/>
<circle cx="579.5" cy="505.8" r="2.05" fill="none" stroke="#b0b0b0" stroke-width="0.9"/>
<circle cx="582.3" cy="418.8" r="2.05" fill="none" stroke="#b0b0b0" stroke-width="0.9"/>
<circle cx="585.1" cy="354.7" r="2.05" fill="none" stroke="#b0b0b0" stroke-width="0.9"/>
<circle cx="587.9" cy="407.0" r="2.05" fill="none" stroke="#b0b0b0" stroke-width="0.9"/>
<circle cx="590.6" cy="360.5" r="2.05" fill="none" stroke="#b0b0b0" stroke-width="0.9"/>
<circle cx="593.4" cy="407.0" r="2.05" fill="none" stroke="#b0b0b0" stroke-width="0.9"/>
<circle cx="596.2" cy="499.9" r="2.05" fill="none" stroke="#b0b0b0" stroke-width="0.9"/>
<circle cx="599.0" cy="470.5" r="2.05" fill="none" stroke="#b0b0b0" stroke-width="0.9"/>
<circle cx="604.5" cy="505.8" r="2.05" fill="none" stroke="#b0b0b0" stroke-width="0.9"/>
<circle cx="607.3" cy="488.4" r="2.05" fill="none" stroke="#b0b0b0" stroke-width="0.9"/>
<circle cx="610.0" cy="540.7" r="2.05" fill="none" stroke="#b0b0b0" stroke-width="0.9"/>
<circle cx="612.8" cy="592.3" r="2.05" fill="none" stroke="#b0b0b0" stroke-width="0.9"/>
<circle cx="618.4" cy="558.2" r="2.05" fill="none" stroke="#b0b0b0" stroke-width="0.9"/>
<circle cx="621.1" cy="494.3" r="2.05" fill="none" stroke="#b0b0b0" stroke-width="0.9"/>
<circle cx="626.7" cy="586.6" r="2.05" fill="none" stroke="#b0b0b0" stroke-width="0.9"/>
<circle cx="637.8" cy="552.1" r="2.05" fill="none" stroke="#b0b0b0" stroke-width="0.9"/>
<circle cx="640.6" cy="581.1" r="2.05" fill="none" stroke="#b0b0b0" stroke-width="0.9"/>
<circle cx="646.1" cy="552.1" r="2.05" fill="none" stroke="#b0b0b0" stroke-width="0.9"/>
<circle cx="654.5" cy="575.2" r="2.05" fill="none" stroke="#b0b0b0" stroke-width="0.9"/>
<circle cx="657.2" cy="488.4" r="2.05" fill="none" stroke="#b0b0b0" stroke-width="0.9"/>
<circle cx="665.5" cy="557.8" r="2.05" fill="none" stroke="#b0b0b0" stroke-width="0.9"/>
<circle cx="671.1" cy="569.8" r="2.05" fill="none" stroke="#b0b0b0" stroke-width="0.9"/>
<circle cx="673.9" cy="482.5" r="2.05" fill="none" stroke="#b0b0b0" stroke-width="0.9"/>
<circle cx="679.4" cy="540.3" r="2.05" fill="none" stroke="#b0b0b0" stroke-width="0.9"/>
<circle cx="687.8" cy="523.3" r="2.05" fill="none" stroke="#b0b0b0" stroke-width="0.9"/>
<circle cx="693.3" cy="575.2" r="2.05" fill="none" stroke="#b0b0b0" stroke-width="0.9"/>
<circle cx="696.1" cy="563.9" r="2.05" fill="none" stroke="#b0b0b0" stroke-width="0.9"/>
<circle cx="707.2" cy="552.1" r="2.05" fill="none" stroke="#b0b0b0" stroke-width="0.9"/>
<circle cx="721.0" cy="592.4" r="2.05" fill="none" stroke="#b0b0b0" stroke-width="0.9"/>
<circle cx="726.6" cy="575.2" r="2.05" fill="none" stroke="#b0b0b0" stroke-width="0.9"/>
<circle cx="746.0" cy="557.8" r="2.05" fill="none" stroke="#b0b0b0" stroke-width="0.9"/>
<circle cx="757.1" cy="552.1" r="2.05" fill="none" stroke="#b0b0b0" stroke-width="0.9"/>
<polyline points="427.2,595.6 430.2,573.5 430.7,573.5 431.2,573.5 431.7,573.5 432.2,573.5 432.7,573.5 433.2,573.4 433.7,573.4 434.2,573.4 434.7,573.4 435.2,573.4 435.7,573.4 436.2,573.4 436.7,573.3 437.2,573.3 437.7,573.3 438.2,573.3 438.7,573.3 439.2,573.3 439.7,573.2 440.2,573.2 440.7,573.2 441.2,573.2 441.7,573.2 442.2,573.2 442.7,573.1 443.2,573.1 443.7,573.1 444.2,573.1 444.7,573.1 445.2,573.1 445.7,573.0 446.2,573.0 446.7,573.0 447.2,573.0 447.7,573.0 448.2,573.0 448.7,573.0 449.2,572.9 449.7,572.9 450.2,572.9 450.7,572.9 451.2,572.9 451.7,572.8 452.2,572.8 452.7,572.8 453.2,572.8 453.7,572.8 454.2,572.8 454.7,572.7 455.2,572.7 455.7,572.7 456.2,572.7 456.7,572.7 457.2,572.7 457.7,572.6 458.2,572.6 458.7,572.6 459.2,572.6 459.7,572.6 460.2,572.5 460.7,572.5 461.2,572.5 461.7,572.5 462.2,572.5 462.7,572.4 463.2,572.4 463.7,572.4 464.2,572.4 464.7,572.4 465.2,572.3 465.7,572.3 466.2,572.3 466.7,572.3 467.2,572.3 467.7,572.2 468.2,572.2 468.7,572.2 469.2,572.2 469.7,572.2 470.2,572.1 470.7,572.1 471.2,572.1 471.7,572.1 472.2,572.1 472.7,572.0 473.2,572.0 473.7,572.0 474.2,572.0 474.7,571.9 475.2,571.9 475.7,571.9 476.2,571.9 476.7,571.8 477.2,571.8 477.7,571.8 478.2,571.8 478.7,571.7 479.2,571.7 479.7,571.7 480.2,571.7 480.7,571.6 481.2,571.6 481.7,571.6 482.2,571.6 482.7,571.5 483.2,571.5 483.7,571.5 484.2,571.4 484.7,571.4 485.2,571.4 485.7,571.4 486.2,571.3 486.7,571.3 487.2,571.3 487.7,571.2 488.2,571.2 488.7,571.2 489.2,571.1 489.7,571.1 490.2,571.0 490.7,571.0 491.2,571.0 491.7,570.9 492.2,570.9 492.7,570.8 493.2,570.8 493.7,570.7 494.2,570.7 494.7,570.6 495.2,570.6 495.7,570.5 496.2,570.5 496.7,570.4 497.2,570.4 497.7,570.3 498.2,570.2 498.7,570.2 499.2,570.1 499.7,570.0 500.2,569.9 500.7,569.8 501.2,569.7 501.7,569.7 502.2,569.6 502.7,569.4 503.2,569.3 503.7,569.2 504.2,569.1 504.7,569.0 505.2,568.8 505.7,568.7 506.2,568.5 506.7,568.4 507.2,568.2 507.7,568.0 508.2,567.8 508.7,567.6 509.2,567.4 509.7,567.2 510.2,567.0 510.7,566.7 511.2,566.5 511.7,566.2 512.2,565.9 512.7,565.6 513.2,565.3 513.7,565.0 514.2,564.6 514.7,564.2 515.2,563.8 515.7,563.4 516.2,563.0 516.7,562.5 517.2,562.0 517.7,561.5 518.2,561.0 518.7,560.5 519.2,559.9 519.7,559.3 520.2,558.6 520.7,557.9 521.2,557.2 521.7,556.5 522.2,555.7 522.7,554.9 523.2,554.1 523.7,553.2 524.2,552.3 524.7,551.3 525.2,550.3 525.7,549.3 526.2,548.2 526.7,547.1 527.2,545.9 527.7,544.7 528.2,543.5 528.7,542.2 529.2,540.8 529.7,539.4 530.2,538.0 530.7,536.5 531.2,534.9 531.7,533.3 532.2,531.7 532.7,530.0 533.2,528.2 533.7,526.4 534.2,524.5 534.7,522.6 535.2,520.7 535.7,518.6 536.2,516.6 536.7,514.5 537.2,512.3 537.7,510.1 538.2,507.8 538.7,505.5 539.2,503.1 539.7,500.7 540.2,498.2 540.7,495.7 541.2,493.1 541.7,490.5 542.2,487.9 542.7,485.2 543.2,482.5 543.7,479.8 544.2,477.0 544.7,474.2 545.2,471.3 545.7,468.5 546.2,465.6 546.7,462.7 547.2,459.8 547.7,456.8 548.2,453.9 548.7,450.9 549.2,448.0 549.7,445.0 550.2,442.1 550.7,439.1 551.2,436.2 551.7,433.2 552.2,430.3 552.7,427.5 553.2,424.6 553.7,421.8 554.2,419.0 554.7,416.2 555.2,413.5 555.7,410.9 556.2,408.3 556.7,405.7 557.2,403.2 557.7,400.8 558.2,398.5 558.7,396.2 559.2,394.0 559.7,391.9 560.2,389.8 560.7,387.9 561.2,386.0 561.7,384.3 562.2,382.6 562.7,381.1 563.2,379.7 563.7,378.3 564.2,377.1 564.7,376.0 565.2,375.1 565.7,374.2 566.2,373.5 566.7,372.9 567.2,372.4 567.7,372.0 568.2,371.8 568.7,371.7 569.2,371.7 569.7,371.9 570.2,372.2 570.7,372.6 571.2,373.1 571.7,373.8 572.2,374.6 572.7,375.5 573.2,376.5 573.7,377.6 574.2,378.9 574.7,380.3 575.2,381.8 575.7,383.3 576.2,385.0 576.7,386.8 577.2,388.7 577.7,390.7 578.2,392.7 578.7,394.9 579.2,397.1 579.7,399.4 580.2,401.8 580.7,404.2 581.2,406.7 581.7,409.3 582.2,411.9 582.7,414.6 583.2,417.3 583.7,420.1 584.2,422.8 584.7,425.7 585.2,428.5 585.7,431.4 586.2,434.3 586.7,437.2 587.2,440.1 587.7,443.1 588.2,446.0 588.7,448.9 589.2,451.9 589.7,454.8 590.2,457.7 590.7,460.6 591.2,463.5 591.7,466.4 592.2,469.2 592.7,472.1 593.2,474.9 593.7,477.6 594.2,480.4 594.7,483.1 595.2,485.8 595.7,488.4 596.2,491.0 596.7,493.5 597.2,496.0 597.7,498.5 598.2,500.9 598.7,503.3 599.2,505.6 599.7,507.9 600.2,510.1 600.7,512.3 601.2,514.4 601.7,516.5 602.2,518.5 602.7,520.5 603.2,522.4 603.7,524.2 604.2,526.0 604.7,527.8 605.2,529.5 605.7,531.1 606.2,532.7 606.7,534.3 607.2,535.8 607.7,537.2 608.2,538.6 608.7,540.0 609.2,541.3 609.7,542.5 610.2,543.7 610.7,544.9 611.2,546.0 611.7,547.1 612.2,548.1 612.7,549.1 613.2,550.1 613.7,551.0 614.2,551.9 614.7,552.7 615.2,553.5 615.7,554.3 616.2,555.0 616.7,555.7 617.2,556.4 617.7,557.0 618.2,557.6 618.7,558.2 619.2,558.7 619.7,559.2 620.2,559.7 620.7,560.2 621.2,560.6 621.7,561.1 622.2,561.5 622.7,561.9 623.2,562.2 623.7,562.6 624.2,562.9 624.7,563.2 625.2,563.5 625.7,563.8 626.2,564.0 626.7,564.3 627.2,564.5 627.7,564.7 628.2,564.9 628.7,565.1 629.2,565.3 629.7,565.5 630.2,565.6 630.7,565.8 631.2,565.9 631.7,566.0 632.2,566.2 632.7,566.3 633.2,566.4 633.7,566.5 634.2,566.6 634.7,566.7 635.2,566.8 635.7,566.9 636.2,566.9 636.7,567.0 637.2,567.1 637.7,567.1 638.2,567.2 638.7,567.2 639.2,567.3 639.7,567.3 640.2,567.4 640.7,567.4 641.2,567.5 641.7,567.5 642.2,567.6 642.7,567.6 643.2,567.6 643.7,567.6 644.2,567.7 644.7,567.7 645.2,567.7 645.7,567.7 646.2,567.8 646.7,567.8 647.2,567.8 647.7,567.8 648.2,567.8 648.7,567.9 649.2,567.9 649.7,567.9 650.2,567.9 650.7,567.9 651.2,567.9 651.7,567.9 652.2,567.9 652.7,567.9 653.2,568.0 653.7,568.0 654.2,568.0 654.7,568.0 655.2,568.0 655.7,568.0 656.2,568.0 656.7,568.0 657.2,568.0 657.7,568.0 658.2,568.0 658.7,568.0 659.2,568.0 659.7,568.0 660.2,568.0 660.7,568.0 661.2,568.1 661.7,568.1 662.2,568.1 662.7,568.1 663.2,568.1 663.7,568.1 664.2,568.1 664.7,568.1 665.2,568.1 665.7,568.1 666.2,568.1 666.7,568.1 667.2,568.1 667.7,568.1 668.2,568.1 668.7,568.1 669.2,568.2 669.7,568.2 670.2,568.2 670.7,568.2 671.2,568.2 671.7,568.2 672.2,568.2 672.7,568.2 673.2,568.2 673.7,568.2 674.2,568.2 674.7,568.2 675.2,568.2 675.7,568.2 676.2,568.2 676.7,568.2 677.2,568.2 677.7,568.2 678.2,568.2 678.7,568.2 679.2,568.2 679.7,568.2 680.2,568.2 680.7,568.2 681.2,568.2 681.7,568.2 682.2,568.2 682.7,568.2 683.2,568.2 683.7,568.2 684.2,568.2 684.7,568.3 685.2,568.3 685.7,568.3 686.2,568.3 686.7,568.3 687.2,568.3 687.7,568.3 688.2,568.3 688.7,568.3 689.2,568.3 689.7,568.3 690.2,568.3 690.7,568.3 691.2,568.3 691.7,568.3 692.2,568.3 692.7,568.3 693.2,568.3 693.7,568.3 694.2,568.3 694.7,568.3 695.2,568.3 695.7,568.3 696.2,568.3 696.7,568.3 697.2,568.3 697.7,568.3 698.2,568.3 698.7,568.3 699.2,568.3 699.7,568.3 700.2,568.3 700.7,568.3 701.2,568.3 701.7,568.3 702.2,568.3 702.7,568.3 703.2,568.3 703.7,568.3 704.2,568.3 704.7,568.3 705.2,568.3 705.7,568.3 706.2,568.3 706.7,568.3 707.2,568.3 707.7,568.3 708.2,568.3 708.7,568.3 709.2,568.3 709.7,568.3 710.2,568.3 710.7,568.2 711.2,568.2 711.7,568.2 712.2,568.2 712.7,568.2 713.2,568.2 713.7,568.2 714.2,568.2 714.7,568.2 715.2,568.2 715.7,568.2 716.2,568.2 716.7,568.2 717.2,568.2 717.7,568.2 718.2,568.2 718.7,568.2 719.2,568.2 719.7,568.2 720.2,568.2 720.7,568.2 721.2,568.2 721.7,568.2 722.2,568.2 722.7,568.2 723.2,568.2 723.7,568.2 724.2,568.2 724.7,568.2 725.2,568.2 725.7,568.2 726.2,568.2 726.7,568.2 727.2,568.2 727.7,568.2 728.2,568.2 728.7,568.2 729.2,568.2 729.7,568.2 730.2,568.2 730.7,568.2 731.2,568.2 731.7,568.2 732.2,568.2 732.7,568.2 733.2,568.2 733.7,568.2 734.2,568.2 734.7,568.2 735.2,568.1 735.7,568.1 736.2,568.1 736.7,568.1 737.2,568.1 737.7,568.1 738.2,568.1 738.7,568.1 739.2,568.1 739.7,568.1 740.2,568.1 740.7,568.1 741.2,568.1 741.7,568.1 742.2,568.1 742.7,568.1 743.2,568.1 743.7,568.1 744.2,568.1 744.7,568.1 745.2,568.1 745.7,568.1 746.2,568.1 746.7,568.1 747.2,568.1 747.7,568.1 748.2,568.1 748.7,568.1 749.2,568.1 749.7,568.1 750.2,568.1 750.7,568.1 751.2,568.1 751.7,568.0 752.2,568.0 752.7,568.0 753.2,568.0 753.7,568.0 754.2,568.0 754.7,568.0 755.2,568.0 755.7,568.0 756.2,568.0 756.7,568.0 757.2,568.0 757.7,568.0 758.2,568.0 758.7,568.0 759.2,568.0" fill="none" stroke="#f54446" stroke-width="1.9" stroke-linejoin="round"/>
<rect x="426.9" y="327.5" width="332.6" height="268.1" fill="none" stroke="#727272" stroke-width="1.9"/>
<text x="426.90" y="610.5" text-anchor="middle" font-size="11.5" font-weight="bold">174</text>
<line x1="454.62" y1="595.6" x2="454.62" y2="592.9" stroke="#333" stroke-width="1.4"/>
<line x1="482.33" y1="595.6" x2="482.33" y2="590.2" stroke="#333" stroke-width="1.4"/>
<text x="482.33" y="610.5" text-anchor="middle" font-size="11.5" font-weight="bold">172</text>
<line x1="510.05" y1="595.6" x2="510.05" y2="592.9" stroke="#333" stroke-width="1.4"/>
<line x1="537.77" y1="595.6" x2="537.77" y2="590.2" stroke="#333" stroke-width="1.4"/>
<text x="537.77" y="610.5" text-anchor="middle" font-size="11.5" font-weight="bold">170</text>
<line x1="565.48" y1="595.6" x2="565.48" y2="592.9" stroke="#333" stroke-width="1.4"/>
<line x1="593.20" y1="595.6" x2="593.20" y2="590.2" stroke="#333" stroke-width="1.4"/>
<text x="593.20" y="610.5" text-anchor="middle" font-size="11.5" font-weight="bold">168</text>
<line x1="620.92" y1="595.6" x2="620.92" y2="592.9" stroke="#333" stroke-width="1.4"/>
<line x1="648.63" y1="595.6" x2="648.63" y2="590.2" stroke="#333" stroke-width="1.4"/>
<text x="648.63" y="610.5" text-anchor="middle" font-size="11.5" font-weight="bold">166</text>
<line x1="676.35" y1="595.6" x2="676.35" y2="592.9" stroke="#333" stroke-width="1.4"/>
<line x1="704.07" y1="595.6" x2="704.07" y2="590.2" stroke="#333" stroke-width="1.4"/>
<text x="704.07" y="610.5" text-anchor="middle" font-size="11.5" font-weight="bold">164</text>
<line x1="731.78" y1="595.6" x2="731.78" y2="592.9" stroke="#333" stroke-width="1.4"/>
<text x="759.50" y="610.5" text-anchor="middle" font-size="11.5" font-weight="bold">162</text>
<text x="751" y="349" text-anchor="end" font-size="14.5" font-weight="bold">S 2p</text>
<text transform="translate(415.8,462) rotate(-90)" text-anchor="middle" font-size="18.7" font-weight="bold"><tspan font-style="italic">Intensity</tspan> / a.u.</text>
<text x="597.3" y="633.3" text-anchor="middle" font-size="18.7" font-weight="bold"><tspan font-style="italic">Binding Energy</tspan> / eV</text>
<text x="391" y="348" font-size="21" font-weight="bold" letter-spacing="1.3">(d)</text>
</svg>
</body></html>
